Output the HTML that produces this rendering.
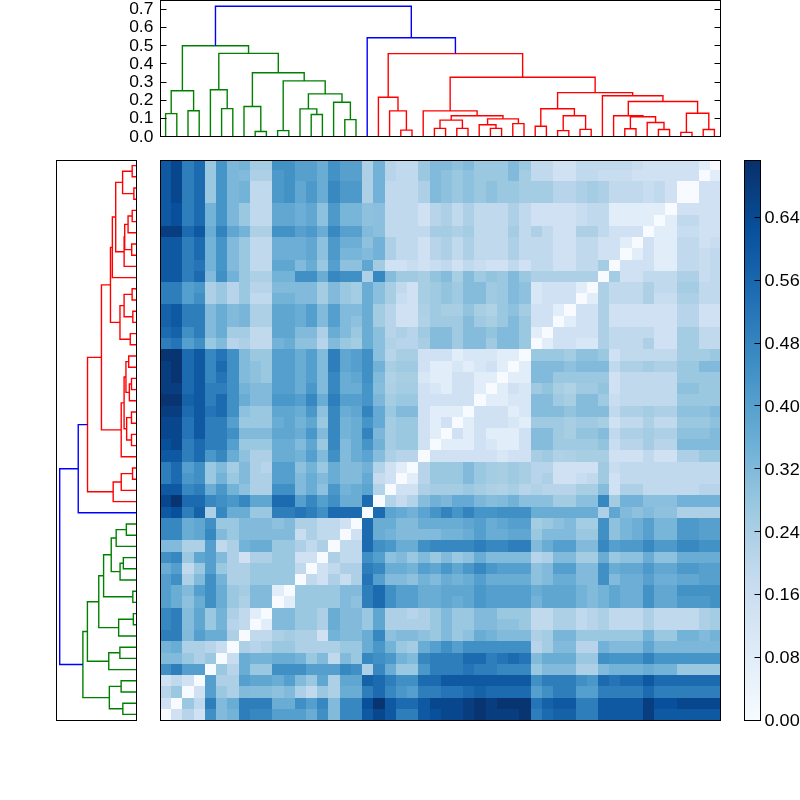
<!DOCTYPE html>
<html><head><meta charset="utf-8"><style>
html,body{margin:0;padding:0;background:#fff;width:800px;height:800px;overflow:hidden}
svg{display:block}
text{font-family:'Liberation Sans',sans-serif;font-size:16.6px; fill:#000}
</style></head><body>
<svg width="800" height="800" viewBox="0 0 800 800">
<rect x="0" y="0" width="800" height="800" fill="#fff"/>
<g shape-rendering="crispEdges"><rect x="160.00" y="160.00" width="11.48" height="9.98" fill="#0e59a2"/><rect x="171.23" y="160.00" width="11.48" height="9.98" fill="#08478d"/><rect x="182.46" y="160.00" width="11.48" height="9.98" fill="#2e7ebc"/><rect x="193.69" y="160.00" width="11.48" height="9.98" fill="#1c6bb0"/><rect x="204.92" y="160.00" width="11.48" height="9.98" fill="#9ac8e0"/><rect x="216.15" y="160.00" width="11.48" height="9.98" fill="#4695c8"/><rect x="227.38" y="160.00" width="11.48" height="9.98" fill="#7cb7da"/><rect x="238.61" y="160.00" width="11.48" height="9.98" fill="#74b3d8"/><rect x="249.84" y="160.00" width="11.48" height="9.98" fill="#a4cce3"/><rect x="261.07" y="160.00" width="11.48" height="9.98" fill="#a4cce3"/><rect x="272.30" y="160.00" width="11.48" height="9.98" fill="#4292c6"/><rect x="283.53" y="160.00" width="11.48" height="9.98" fill="#4292c6"/><rect x="294.76" y="160.00" width="11.48" height="9.98" fill="#57a0ce"/><rect x="305.99" y="160.00" width="11.48" height="9.98" fill="#57a0ce"/><rect x="317.22" y="160.00" width="11.48" height="9.98" fill="#69add5"/><rect x="328.45" y="160.00" width="11.48" height="9.98" fill="#4292c6"/><rect x="339.68" y="160.00" width="11.48" height="9.98" fill="#57a0ce"/><rect x="350.91" y="160.00" width="11.48" height="9.98" fill="#57a0ce"/><rect x="362.14" y="160.00" width="11.48" height="9.98" fill="#add0e6"/><rect x="373.37" y="160.00" width="11.48" height="9.98" fill="#72b2d8"/><rect x="384.60" y="160.00" width="11.48" height="9.98" fill="#b7d4ea"/><rect x="395.83" y="160.00" width="11.48" height="9.98" fill="#c1d9ed"/><rect x="407.06" y="160.00" width="11.48" height="9.98" fill="#c1d9ed"/><rect x="418.29" y="160.00" width="11.48" height="9.98" fill="#9ac8e0"/><rect x="429.52" y="160.00" width="11.48" height="9.98" fill="#81badb"/><rect x="440.75" y="160.00" width="11.48" height="9.98" fill="#81badb"/><rect x="451.98" y="160.00" width="11.48" height="9.98" fill="#8dc1dd"/><rect x="463.21" y="160.00" width="11.48" height="9.98" fill="#81badb"/><rect x="474.44" y="160.00" width="11.48" height="9.98" fill="#9ac8e0"/><rect x="485.67" y="160.00" width="11.48" height="9.98" fill="#9ac8e0"/><rect x="496.90" y="160.00" width="11.48" height="9.98" fill="#9ac8e0"/><rect x="508.13" y="160.00" width="11.48" height="9.98" fill="#81badb"/><rect x="519.36" y="160.00" width="11.48" height="9.98" fill="#9ac8e0"/><rect x="530.59" y="160.00" width="11.48" height="9.98" fill="#c1d9ed"/><rect x="541.82" y="160.00" width="11.48" height="9.98" fill="#c1d9ed"/><rect x="553.05" y="160.00" width="11.48" height="9.98" fill="#cfe1f2"/><rect x="564.28" y="160.00" width="11.48" height="9.98" fill="#cfe1f2"/><rect x="575.51" y="160.00" width="11.48" height="9.98" fill="#c1d9ed"/><rect x="586.74" y="160.00" width="11.48" height="9.98" fill="#c1d9ed"/><rect x="597.97" y="160.00" width="11.48" height="9.98" fill="#c1d9ed"/><rect x="609.20" y="160.00" width="11.48" height="9.98" fill="#c1d9ed"/><rect x="620.43" y="160.00" width="11.48" height="9.98" fill="#c1d9ed"/><rect x="631.66" y="160.00" width="11.48" height="9.98" fill="#c9ddf0"/><rect x="642.89" y="160.00" width="11.48" height="9.98" fill="#cfe1f2"/><rect x="654.12" y="160.00" width="11.48" height="9.98" fill="#cfe1f2"/><rect x="665.35" y="160.00" width="11.48" height="9.98" fill="#cfe1f2"/><rect x="676.58" y="160.00" width="11.48" height="9.98" fill="#cfe1f2"/><rect x="687.81" y="160.00" width="11.48" height="9.98" fill="#cfe1f2"/><rect x="699.04" y="160.00" width="11.48" height="9.98" fill="#e1edf8"/><rect x="710.27" y="160.00" width="9.98" height="9.98" fill="#f7fbff"/><rect x="160.00" y="169.73" width="11.48" height="11.48" fill="#0e59a2"/><rect x="171.23" y="169.73" width="11.48" height="11.48" fill="#08478d"/><rect x="182.46" y="169.73" width="11.48" height="11.48" fill="#2e7ebc"/><rect x="193.69" y="169.73" width="11.48" height="11.48" fill="#1c6bb0"/><rect x="204.92" y="169.73" width="11.48" height="11.48" fill="#9ac8e0"/><rect x="216.15" y="169.73" width="11.48" height="11.48" fill="#4695c8"/><rect x="227.38" y="169.73" width="11.48" height="11.48" fill="#7cb7da"/><rect x="238.61" y="169.73" width="11.48" height="11.48" fill="#81badb"/><rect x="249.84" y="169.73" width="11.48" height="11.48" fill="#add0e6"/><rect x="261.07" y="169.73" width="11.48" height="11.48" fill="#add0e6"/><rect x="272.30" y="169.73" width="11.48" height="11.48" fill="#4d99ca"/><rect x="283.53" y="169.73" width="11.48" height="11.48" fill="#4292c6"/><rect x="294.76" y="169.73" width="11.48" height="11.48" fill="#57a0ce"/><rect x="305.99" y="169.73" width="11.48" height="11.48" fill="#57a0ce"/><rect x="317.22" y="169.73" width="11.48" height="11.48" fill="#69add5"/><rect x="328.45" y="169.73" width="11.48" height="11.48" fill="#4292c6"/><rect x="339.68" y="169.73" width="11.48" height="11.48" fill="#57a0ce"/><rect x="350.91" y="169.73" width="11.48" height="11.48" fill="#57a0ce"/><rect x="362.14" y="169.73" width="11.48" height="11.48" fill="#add0e6"/><rect x="373.37" y="169.73" width="11.48" height="11.48" fill="#72b2d8"/><rect x="384.60" y="169.73" width="11.48" height="11.48" fill="#b7d4ea"/><rect x="395.83" y="169.73" width="11.48" height="11.48" fill="#c1d9ed"/><rect x="407.06" y="169.73" width="11.48" height="11.48" fill="#c1d9ed"/><rect x="418.29" y="169.73" width="11.48" height="11.48" fill="#9ac8e0"/><rect x="429.52" y="169.73" width="11.48" height="11.48" fill="#81badb"/><rect x="440.75" y="169.73" width="11.48" height="11.48" fill="#8dc1dd"/><rect x="451.98" y="169.73" width="11.48" height="11.48" fill="#9ac8e0"/><rect x="463.21" y="169.73" width="11.48" height="11.48" fill="#8dc1dd"/><rect x="474.44" y="169.73" width="11.48" height="11.48" fill="#9ac8e0"/><rect x="485.67" y="169.73" width="11.48" height="11.48" fill="#9ac8e0"/><rect x="496.90" y="169.73" width="11.48" height="11.48" fill="#9ac8e0"/><rect x="508.13" y="169.73" width="11.48" height="11.48" fill="#81badb"/><rect x="519.36" y="169.73" width="11.48" height="11.48" fill="#a4cce3"/><rect x="530.59" y="169.73" width="11.48" height="11.48" fill="#c1d9ed"/><rect x="541.82" y="169.73" width="11.48" height="11.48" fill="#c1d9ed"/><rect x="553.05" y="169.73" width="11.48" height="11.48" fill="#cfe1f2"/><rect x="564.28" y="169.73" width="11.48" height="11.48" fill="#cfe1f2"/><rect x="575.51" y="169.73" width="11.48" height="11.48" fill="#c1d9ed"/><rect x="586.74" y="169.73" width="11.48" height="11.48" fill="#c1d9ed"/><rect x="597.97" y="169.73" width="11.48" height="11.48" fill="#c9ddf0"/><rect x="609.20" y="169.73" width="11.48" height="11.48" fill="#c9ddf0"/><rect x="620.43" y="169.73" width="11.48" height="11.48" fill="#c9ddf0"/><rect x="631.66" y="169.73" width="11.48" height="11.48" fill="#cfe1f2"/><rect x="642.89" y="169.73" width="11.48" height="11.48" fill="#cfe1f2"/><rect x="654.12" y="169.73" width="11.48" height="11.48" fill="#cfe1f2"/><rect x="665.35" y="169.73" width="11.48" height="11.48" fill="#cfe1f2"/><rect x="676.58" y="169.73" width="11.48" height="11.48" fill="#cfe1f2"/><rect x="687.81" y="169.73" width="11.48" height="11.48" fill="#cfe1f2"/><rect x="699.04" y="169.73" width="11.48" height="11.48" fill="#f7fbff"/><rect x="710.27" y="169.73" width="9.98" height="11.48" fill="#e1edf8"/><rect x="160.00" y="180.96" width="11.48" height="11.48" fill="#0e59a2"/><rect x="171.23" y="180.96" width="11.48" height="11.48" fill="#08478d"/><rect x="182.46" y="180.96" width="11.48" height="11.48" fill="#2e7ebc"/><rect x="193.69" y="180.96" width="11.48" height="11.48" fill="#1c6bb0"/><rect x="204.92" y="180.96" width="11.48" height="11.48" fill="#9ac8e0"/><rect x="216.15" y="180.96" width="11.48" height="11.48" fill="#4695c8"/><rect x="227.38" y="180.96" width="11.48" height="11.48" fill="#7cb7da"/><rect x="238.61" y="180.96" width="11.48" height="11.48" fill="#74b3d8"/><rect x="249.84" y="180.96" width="11.48" height="11.48" fill="#c1d9ed"/><rect x="261.07" y="180.96" width="11.48" height="11.48" fill="#c1d9ed"/><rect x="272.30" y="180.96" width="11.48" height="11.48" fill="#4d99ca"/><rect x="283.53" y="180.96" width="11.48" height="11.48" fill="#4292c6"/><rect x="294.76" y="180.96" width="11.48" height="11.48" fill="#61a7d2"/><rect x="305.99" y="180.96" width="11.48" height="11.48" fill="#4d99ca"/><rect x="317.22" y="180.96" width="11.48" height="11.48" fill="#69add5"/><rect x="328.45" y="180.96" width="11.48" height="11.48" fill="#3989c1"/><rect x="339.68" y="180.96" width="11.48" height="11.48" fill="#4d99ca"/><rect x="350.91" y="180.96" width="11.48" height="11.48" fill="#4d99ca"/><rect x="362.14" y="180.96" width="11.48" height="11.48" fill="#add0e6"/><rect x="373.37" y="180.96" width="11.48" height="11.48" fill="#72b2d8"/><rect x="384.60" y="180.96" width="11.48" height="11.48" fill="#c1d9ed"/><rect x="395.83" y="180.96" width="11.48" height="11.48" fill="#c1d9ed"/><rect x="407.06" y="180.96" width="11.48" height="11.48" fill="#c1d9ed"/><rect x="418.29" y="180.96" width="11.48" height="11.48" fill="#add0e6"/><rect x="429.52" y="180.96" width="11.48" height="11.48" fill="#81badb"/><rect x="440.75" y="180.96" width="11.48" height="11.48" fill="#8dc1dd"/><rect x="451.98" y="180.96" width="11.48" height="11.48" fill="#9ac8e0"/><rect x="463.21" y="180.96" width="11.48" height="11.48" fill="#8dc1dd"/><rect x="474.44" y="180.96" width="11.48" height="11.48" fill="#9ac8e0"/><rect x="485.67" y="180.96" width="11.48" height="11.48" fill="#8dc1dd"/><rect x="496.90" y="180.96" width="11.48" height="11.48" fill="#9ac8e0"/><rect x="508.13" y="180.96" width="11.48" height="11.48" fill="#9ac8e0"/><rect x="519.36" y="180.96" width="11.48" height="11.48" fill="#a4cce3"/><rect x="530.59" y="180.96" width="11.48" height="11.48" fill="#a4cce3"/><rect x="541.82" y="180.96" width="11.48" height="11.48" fill="#a4cce3"/><rect x="553.05" y="180.96" width="11.48" height="11.48" fill="#b7d4ea"/><rect x="564.28" y="180.96" width="11.48" height="11.48" fill="#b7d4ea"/><rect x="575.51" y="180.96" width="11.48" height="11.48" fill="#add0e6"/><rect x="586.74" y="180.96" width="11.48" height="11.48" fill="#a4cce3"/><rect x="597.97" y="180.96" width="11.48" height="11.48" fill="#add0e6"/><rect x="609.20" y="180.96" width="11.48" height="11.48" fill="#c1d9ed"/><rect x="620.43" y="180.96" width="11.48" height="11.48" fill="#c1d9ed"/><rect x="631.66" y="180.96" width="11.48" height="11.48" fill="#c1d9ed"/><rect x="642.89" y="180.96" width="11.48" height="11.48" fill="#c9ddf0"/><rect x="654.12" y="180.96" width="11.48" height="11.48" fill="#c1d9ed"/><rect x="665.35" y="180.96" width="11.48" height="11.48" fill="#cfe1f2"/><rect x="676.58" y="180.96" width="11.48" height="11.48" fill="#f7fbff"/><rect x="687.81" y="180.96" width="11.48" height="11.48" fill="#f7fbff"/><rect x="699.04" y="180.96" width="11.48" height="11.48" fill="#cfe1f2"/><rect x="710.27" y="180.96" width="9.98" height="11.48" fill="#cfe1f2"/><rect x="160.00" y="192.19" width="11.48" height="11.48" fill="#0e59a2"/><rect x="171.23" y="192.19" width="11.48" height="11.48" fill="#08478d"/><rect x="182.46" y="192.19" width="11.48" height="11.48" fill="#2e7ebc"/><rect x="193.69" y="192.19" width="11.48" height="11.48" fill="#1c6bb0"/><rect x="204.92" y="192.19" width="11.48" height="11.48" fill="#9ac8e0"/><rect x="216.15" y="192.19" width="11.48" height="11.48" fill="#4695c8"/><rect x="227.38" y="192.19" width="11.48" height="11.48" fill="#7cb7da"/><rect x="238.61" y="192.19" width="11.48" height="11.48" fill="#74b3d8"/><rect x="249.84" y="192.19" width="11.48" height="11.48" fill="#c1d9ed"/><rect x="261.07" y="192.19" width="11.48" height="11.48" fill="#c1d9ed"/><rect x="272.30" y="192.19" width="11.48" height="11.48" fill="#4d99ca"/><rect x="283.53" y="192.19" width="11.48" height="11.48" fill="#4292c6"/><rect x="294.76" y="192.19" width="11.48" height="11.48" fill="#61a7d2"/><rect x="305.99" y="192.19" width="11.48" height="11.48" fill="#4d99ca"/><rect x="317.22" y="192.19" width="11.48" height="11.48" fill="#69add5"/><rect x="328.45" y="192.19" width="11.48" height="11.48" fill="#3989c1"/><rect x="339.68" y="192.19" width="11.48" height="11.48" fill="#4d99ca"/><rect x="350.91" y="192.19" width="11.48" height="11.48" fill="#4d99ca"/><rect x="362.14" y="192.19" width="11.48" height="11.48" fill="#add0e6"/><rect x="373.37" y="192.19" width="11.48" height="11.48" fill="#72b2d8"/><rect x="384.60" y="192.19" width="11.48" height="11.48" fill="#c1d9ed"/><rect x="395.83" y="192.19" width="11.48" height="11.48" fill="#c1d9ed"/><rect x="407.06" y="192.19" width="11.48" height="11.48" fill="#c1d9ed"/><rect x="418.29" y="192.19" width="11.48" height="11.48" fill="#add0e6"/><rect x="429.52" y="192.19" width="11.48" height="11.48" fill="#81badb"/><rect x="440.75" y="192.19" width="11.48" height="11.48" fill="#8dc1dd"/><rect x="451.98" y="192.19" width="11.48" height="11.48" fill="#9ac8e0"/><rect x="463.21" y="192.19" width="11.48" height="11.48" fill="#8dc1dd"/><rect x="474.44" y="192.19" width="11.48" height="11.48" fill="#9ac8e0"/><rect x="485.67" y="192.19" width="11.48" height="11.48" fill="#8dc1dd"/><rect x="496.90" y="192.19" width="11.48" height="11.48" fill="#9ac8e0"/><rect x="508.13" y="192.19" width="11.48" height="11.48" fill="#9ac8e0"/><rect x="519.36" y="192.19" width="11.48" height="11.48" fill="#a4cce3"/><rect x="530.59" y="192.19" width="11.48" height="11.48" fill="#a4cce3"/><rect x="541.82" y="192.19" width="11.48" height="11.48" fill="#a4cce3"/><rect x="553.05" y="192.19" width="11.48" height="11.48" fill="#b7d4ea"/><rect x="564.28" y="192.19" width="11.48" height="11.48" fill="#b7d4ea"/><rect x="575.51" y="192.19" width="11.48" height="11.48" fill="#add0e6"/><rect x="586.74" y="192.19" width="11.48" height="11.48" fill="#a4cce3"/><rect x="597.97" y="192.19" width="11.48" height="11.48" fill="#add0e6"/><rect x="609.20" y="192.19" width="11.48" height="11.48" fill="#c1d9ed"/><rect x="620.43" y="192.19" width="11.48" height="11.48" fill="#c1d9ed"/><rect x="631.66" y="192.19" width="11.48" height="11.48" fill="#c1d9ed"/><rect x="642.89" y="192.19" width="11.48" height="11.48" fill="#c9ddf0"/><rect x="654.12" y="192.19" width="11.48" height="11.48" fill="#c1d9ed"/><rect x="665.35" y="192.19" width="11.48" height="11.48" fill="#cfe1f2"/><rect x="676.58" y="192.19" width="11.48" height="11.48" fill="#f7fbff"/><rect x="687.81" y="192.19" width="11.48" height="11.48" fill="#f7fbff"/><rect x="699.04" y="192.19" width="11.48" height="11.48" fill="#cfe1f2"/><rect x="710.27" y="192.19" width="9.98" height="11.48" fill="#cfe1f2"/><rect x="160.00" y="203.42" width="11.48" height="11.48" fill="#0e59a2"/><rect x="171.23" y="203.42" width="11.48" height="11.48" fill="#08509b"/><rect x="182.46" y="203.42" width="11.48" height="11.48" fill="#2e7ebc"/><rect x="193.69" y="203.42" width="11.48" height="11.48" fill="#1c6bb0"/><rect x="204.92" y="203.42" width="11.48" height="11.48" fill="#74b3d8"/><rect x="216.15" y="203.42" width="11.48" height="11.48" fill="#4695c8"/><rect x="227.38" y="203.42" width="11.48" height="11.48" fill="#7cb7da"/><rect x="238.61" y="203.42" width="11.48" height="11.48" fill="#9ac8e0"/><rect x="249.84" y="203.42" width="11.48" height="11.48" fill="#c1d9ed"/><rect x="261.07" y="203.42" width="11.48" height="11.48" fill="#c1d9ed"/><rect x="272.30" y="203.42" width="11.48" height="11.48" fill="#61a7d2"/><rect x="283.53" y="203.42" width="11.48" height="11.48" fill="#61a7d2"/><rect x="294.76" y="203.42" width="11.48" height="11.48" fill="#6caed6"/><rect x="305.99" y="203.42" width="11.48" height="11.48" fill="#61a7d2"/><rect x="317.22" y="203.42" width="11.48" height="11.48" fill="#8dc1dd"/><rect x="328.45" y="203.42" width="11.48" height="11.48" fill="#4d99ca"/><rect x="339.68" y="203.42" width="11.48" height="11.48" fill="#77b5d9"/><rect x="350.91" y="203.42" width="11.48" height="11.48" fill="#77b5d9"/><rect x="362.14" y="203.42" width="11.48" height="11.48" fill="#8dc1dd"/><rect x="373.37" y="203.42" width="11.48" height="11.48" fill="#8abfdd"/><rect x="384.60" y="203.42" width="11.48" height="11.48" fill="#c1d9ed"/><rect x="395.83" y="203.42" width="11.48" height="11.48" fill="#c1d9ed"/><rect x="407.06" y="203.42" width="11.48" height="11.48" fill="#c1d9ed"/><rect x="418.29" y="203.42" width="11.48" height="11.48" fill="#cfe1f2"/><rect x="429.52" y="203.42" width="11.48" height="11.48" fill="#b7d4ea"/><rect x="440.75" y="203.42" width="11.48" height="11.48" fill="#add0e6"/><rect x="451.98" y="203.42" width="11.48" height="11.48" fill="#c1d9ed"/><rect x="463.21" y="203.42" width="11.48" height="11.48" fill="#add0e6"/><rect x="474.44" y="203.42" width="11.48" height="11.48" fill="#c1d9ed"/><rect x="485.67" y="203.42" width="11.48" height="11.48" fill="#c1d9ed"/><rect x="496.90" y="203.42" width="11.48" height="11.48" fill="#c1d9ed"/><rect x="508.13" y="203.42" width="11.48" height="11.48" fill="#add0e6"/><rect x="519.36" y="203.42" width="11.48" height="11.48" fill="#c1d9ed"/><rect x="530.59" y="203.42" width="11.48" height="11.48" fill="#cfe1f2"/><rect x="541.82" y="203.42" width="11.48" height="11.48" fill="#cfe1f2"/><rect x="553.05" y="203.42" width="11.48" height="11.48" fill="#cfe1f2"/><rect x="564.28" y="203.42" width="11.48" height="11.48" fill="#cfe1f2"/><rect x="575.51" y="203.42" width="11.48" height="11.48" fill="#c9ddf0"/><rect x="586.74" y="203.42" width="11.48" height="11.48" fill="#c1d9ed"/><rect x="597.97" y="203.42" width="11.48" height="11.48" fill="#c1d9ed"/><rect x="609.20" y="203.42" width="11.48" height="11.48" fill="#e1edf8"/><rect x="620.43" y="203.42" width="11.48" height="11.48" fill="#e1edf8"/><rect x="631.66" y="203.42" width="11.48" height="11.48" fill="#e1edf8"/><rect x="642.89" y="203.42" width="11.48" height="11.48" fill="#e1edf8"/><rect x="654.12" y="203.42" width="11.48" height="11.48" fill="#e1edf8"/><rect x="665.35" y="203.42" width="11.48" height="11.48" fill="#f7fbff"/><rect x="676.58" y="203.42" width="11.48" height="11.48" fill="#cfe1f2"/><rect x="687.81" y="203.42" width="11.48" height="11.48" fill="#cfe1f2"/><rect x="699.04" y="203.42" width="11.48" height="11.48" fill="#cfe1f2"/><rect x="710.27" y="203.42" width="9.98" height="11.48" fill="#cfe1f2"/><rect x="160.00" y="214.65" width="11.48" height="11.48" fill="#0e59a2"/><rect x="171.23" y="214.65" width="11.48" height="11.48" fill="#08509b"/><rect x="182.46" y="214.65" width="11.48" height="11.48" fill="#2e7ebc"/><rect x="193.69" y="214.65" width="11.48" height="11.48" fill="#1c6bb0"/><rect x="204.92" y="214.65" width="11.48" height="11.48" fill="#74b3d8"/><rect x="216.15" y="214.65" width="11.48" height="11.48" fill="#4695c8"/><rect x="227.38" y="214.65" width="11.48" height="11.48" fill="#7cb7da"/><rect x="238.61" y="214.65" width="11.48" height="11.48" fill="#9ac8e0"/><rect x="249.84" y="214.65" width="11.48" height="11.48" fill="#c1d9ed"/><rect x="261.07" y="214.65" width="11.48" height="11.48" fill="#c1d9ed"/><rect x="272.30" y="214.65" width="11.48" height="11.48" fill="#61a7d2"/><rect x="283.53" y="214.65" width="11.48" height="11.48" fill="#61a7d2"/><rect x="294.76" y="214.65" width="11.48" height="11.48" fill="#6caed6"/><rect x="305.99" y="214.65" width="11.48" height="11.48" fill="#61a7d2"/><rect x="317.22" y="214.65" width="11.48" height="11.48" fill="#8dc1dd"/><rect x="328.45" y="214.65" width="11.48" height="11.48" fill="#4d99ca"/><rect x="339.68" y="214.65" width="11.48" height="11.48" fill="#77b5d9"/><rect x="350.91" y="214.65" width="11.48" height="11.48" fill="#77b5d9"/><rect x="362.14" y="214.65" width="11.48" height="11.48" fill="#8dc1dd"/><rect x="373.37" y="214.65" width="11.48" height="11.48" fill="#8abfdd"/><rect x="384.60" y="214.65" width="11.48" height="11.48" fill="#c1d9ed"/><rect x="395.83" y="214.65" width="11.48" height="11.48" fill="#c1d9ed"/><rect x="407.06" y="214.65" width="11.48" height="11.48" fill="#c1d9ed"/><rect x="418.29" y="214.65" width="11.48" height="11.48" fill="#cfe1f2"/><rect x="429.52" y="214.65" width="11.48" height="11.48" fill="#b7d4ea"/><rect x="440.75" y="214.65" width="11.48" height="11.48" fill="#add0e6"/><rect x="451.98" y="214.65" width="11.48" height="11.48" fill="#c1d9ed"/><rect x="463.21" y="214.65" width="11.48" height="11.48" fill="#add0e6"/><rect x="474.44" y="214.65" width="11.48" height="11.48" fill="#c1d9ed"/><rect x="485.67" y="214.65" width="11.48" height="11.48" fill="#c1d9ed"/><rect x="496.90" y="214.65" width="11.48" height="11.48" fill="#c1d9ed"/><rect x="508.13" y="214.65" width="11.48" height="11.48" fill="#add0e6"/><rect x="519.36" y="214.65" width="11.48" height="11.48" fill="#c1d9ed"/><rect x="530.59" y="214.65" width="11.48" height="11.48" fill="#cfe1f2"/><rect x="541.82" y="214.65" width="11.48" height="11.48" fill="#cfe1f2"/><rect x="553.05" y="214.65" width="11.48" height="11.48" fill="#cfe1f2"/><rect x="564.28" y="214.65" width="11.48" height="11.48" fill="#cfe1f2"/><rect x="575.51" y="214.65" width="11.48" height="11.48" fill="#c9ddf0"/><rect x="586.74" y="214.65" width="11.48" height="11.48" fill="#c1d9ed"/><rect x="597.97" y="214.65" width="11.48" height="11.48" fill="#c1d9ed"/><rect x="609.20" y="214.65" width="11.48" height="11.48" fill="#e1edf8"/><rect x="620.43" y="214.65" width="11.48" height="11.48" fill="#e1edf8"/><rect x="631.66" y="214.65" width="11.48" height="11.48" fill="#e1edf8"/><rect x="642.89" y="214.65" width="11.48" height="11.48" fill="#e1edf8"/><rect x="654.12" y="214.65" width="11.48" height="11.48" fill="#f7fbff"/><rect x="665.35" y="214.65" width="11.48" height="11.48" fill="#e1edf8"/><rect x="676.58" y="214.65" width="11.48" height="11.48" fill="#c1d9ed"/><rect x="687.81" y="214.65" width="11.48" height="11.48" fill="#c1d9ed"/><rect x="699.04" y="214.65" width="11.48" height="11.48" fill="#cfe1f2"/><rect x="710.27" y="214.65" width="9.98" height="11.48" fill="#cfe1f2"/><rect x="160.00" y="225.88" width="11.48" height="11.48" fill="#083d7f"/><rect x="171.23" y="225.88" width="11.48" height="11.48" fill="#083d7f"/><rect x="182.46" y="225.88" width="11.48" height="11.48" fill="#1c6bb0"/><rect x="193.69" y="225.88" width="11.48" height="11.48" fill="#0e59a2"/><rect x="204.92" y="225.88" width="11.48" height="11.48" fill="#69add5"/><rect x="216.15" y="225.88" width="11.48" height="11.48" fill="#3383be"/><rect x="227.38" y="225.88" width="11.48" height="11.48" fill="#5fa6d1"/><rect x="238.61" y="225.88" width="11.48" height="11.48" fill="#74b3d8"/><rect x="249.84" y="225.88" width="11.48" height="11.48" fill="#add0e6"/><rect x="261.07" y="225.88" width="11.48" height="11.48" fill="#add0e6"/><rect x="272.30" y="225.88" width="11.48" height="11.48" fill="#4292c6"/><rect x="283.53" y="225.88" width="11.48" height="11.48" fill="#4292c6"/><rect x="294.76" y="225.88" width="11.48" height="11.48" fill="#57a0ce"/><rect x="305.99" y="225.88" width="11.48" height="11.48" fill="#4d99ca"/><rect x="317.22" y="225.88" width="11.48" height="11.48" fill="#69add5"/><rect x="328.45" y="225.88" width="11.48" height="11.48" fill="#3989c1"/><rect x="339.68" y="225.88" width="11.48" height="11.48" fill="#57a0ce"/><rect x="350.91" y="225.88" width="11.48" height="11.48" fill="#57a0ce"/><rect x="362.14" y="225.88" width="11.48" height="11.48" fill="#81badb"/><rect x="373.37" y="225.88" width="11.48" height="11.48" fill="#8abfdd"/><rect x="384.60" y="225.88" width="11.48" height="11.48" fill="#c1d9ed"/><rect x="395.83" y="225.88" width="11.48" height="11.48" fill="#c1d9ed"/><rect x="407.06" y="225.88" width="11.48" height="11.48" fill="#c1d9ed"/><rect x="418.29" y="225.88" width="11.48" height="11.48" fill="#c1d9ed"/><rect x="429.52" y="225.88" width="11.48" height="11.48" fill="#a4cce3"/><rect x="440.75" y="225.88" width="11.48" height="11.48" fill="#a4cce3"/><rect x="451.98" y="225.88" width="11.48" height="11.48" fill="#add0e6"/><rect x="463.21" y="225.88" width="11.48" height="11.48" fill="#a4cce3"/><rect x="474.44" y="225.88" width="11.48" height="11.48" fill="#c1d9ed"/><rect x="485.67" y="225.88" width="11.48" height="11.48" fill="#c1d9ed"/><rect x="496.90" y="225.88" width="11.48" height="11.48" fill="#c1d9ed"/><rect x="508.13" y="225.88" width="11.48" height="11.48" fill="#a4cce3"/><rect x="519.36" y="225.88" width="11.48" height="11.48" fill="#c1d9ed"/><rect x="530.59" y="225.88" width="11.48" height="11.48" fill="#add0e6"/><rect x="541.82" y="225.88" width="11.48" height="11.48" fill="#c1d9ed"/><rect x="553.05" y="225.88" width="11.48" height="11.48" fill="#cfe1f2"/><rect x="564.28" y="225.88" width="11.48" height="11.48" fill="#cfe1f2"/><rect x="575.51" y="225.88" width="11.48" height="11.48" fill="#add0e6"/><rect x="586.74" y="225.88" width="11.48" height="11.48" fill="#add0e6"/><rect x="597.97" y="225.88" width="11.48" height="11.48" fill="#c1d9ed"/><rect x="609.20" y="225.88" width="11.48" height="11.48" fill="#cfe1f2"/><rect x="620.43" y="225.88" width="11.48" height="11.48" fill="#cfe1f2"/><rect x="631.66" y="225.88" width="11.48" height="11.48" fill="#cfe1f2"/><rect x="642.89" y="225.88" width="11.48" height="11.48" fill="#f7fbff"/><rect x="654.12" y="225.88" width="11.48" height="11.48" fill="#e1edf8"/><rect x="665.35" y="225.88" width="11.48" height="11.48" fill="#e1edf8"/><rect x="676.58" y="225.88" width="11.48" height="11.48" fill="#c9ddf0"/><rect x="687.81" y="225.88" width="11.48" height="11.48" fill="#c9ddf0"/><rect x="699.04" y="225.88" width="11.48" height="11.48" fill="#cfe1f2"/><rect x="710.27" y="225.88" width="9.98" height="11.48" fill="#cfe1f2"/><rect x="160.00" y="237.11" width="11.48" height="11.48" fill="#0e59a2"/><rect x="171.23" y="237.11" width="11.48" height="11.48" fill="#0e59a2"/><rect x="182.46" y="237.11" width="11.48" height="11.48" fill="#2e7ebc"/><rect x="193.69" y="237.11" width="11.48" height="11.48" fill="#1c6bb0"/><rect x="204.92" y="237.11" width="11.48" height="11.48" fill="#74b3d8"/><rect x="216.15" y="237.11" width="11.48" height="11.48" fill="#4695c8"/><rect x="227.38" y="237.11" width="11.48" height="11.48" fill="#81badb"/><rect x="238.61" y="237.11" width="11.48" height="11.48" fill="#9ac8e0"/><rect x="249.84" y="237.11" width="11.48" height="11.48" fill="#c1d9ed"/><rect x="261.07" y="237.11" width="11.48" height="11.48" fill="#c1d9ed"/><rect x="272.30" y="237.11" width="11.48" height="11.48" fill="#6caed6"/><rect x="283.53" y="237.11" width="11.48" height="11.48" fill="#6caed6"/><rect x="294.76" y="237.11" width="11.48" height="11.48" fill="#6caed6"/><rect x="305.99" y="237.11" width="11.48" height="11.48" fill="#61a7d2"/><rect x="317.22" y="237.11" width="11.48" height="11.48" fill="#8dc1dd"/><rect x="328.45" y="237.11" width="11.48" height="11.48" fill="#4d99ca"/><rect x="339.68" y="237.11" width="11.48" height="11.48" fill="#6caed6"/><rect x="350.91" y="237.11" width="11.48" height="11.48" fill="#6caed6"/><rect x="362.14" y="237.11" width="11.48" height="11.48" fill="#8dc1dd"/><rect x="373.37" y="237.11" width="11.48" height="11.48" fill="#72b2d8"/><rect x="384.60" y="237.11" width="11.48" height="11.48" fill="#add0e6"/><rect x="395.83" y="237.11" width="11.48" height="11.48" fill="#c1d9ed"/><rect x="407.06" y="237.11" width="11.48" height="11.48" fill="#c1d9ed"/><rect x="418.29" y="237.11" width="11.48" height="11.48" fill="#cfe1f2"/><rect x="429.52" y="237.11" width="11.48" height="11.48" fill="#b7d4ea"/><rect x="440.75" y="237.11" width="11.48" height="11.48" fill="#add0e6"/><rect x="451.98" y="237.11" width="11.48" height="11.48" fill="#c1d9ed"/><rect x="463.21" y="237.11" width="11.48" height="11.48" fill="#add0e6"/><rect x="474.44" y="237.11" width="11.48" height="11.48" fill="#c1d9ed"/><rect x="485.67" y="237.11" width="11.48" height="11.48" fill="#c1d9ed"/><rect x="496.90" y="237.11" width="11.48" height="11.48" fill="#c1d9ed"/><rect x="508.13" y="237.11" width="11.48" height="11.48" fill="#add0e6"/><rect x="519.36" y="237.11" width="11.48" height="11.48" fill="#c1d9ed"/><rect x="530.59" y="237.11" width="11.48" height="11.48" fill="#c1d9ed"/><rect x="541.82" y="237.11" width="11.48" height="11.48" fill="#c1d9ed"/><rect x="553.05" y="237.11" width="11.48" height="11.48" fill="#cfe1f2"/><rect x="564.28" y="237.11" width="11.48" height="11.48" fill="#cfe1f2"/><rect x="575.51" y="237.11" width="11.48" height="11.48" fill="#c1d9ed"/><rect x="586.74" y="237.11" width="11.48" height="11.48" fill="#c1d9ed"/><rect x="597.97" y="237.11" width="11.48" height="11.48" fill="#cfe1f2"/><rect x="609.20" y="237.11" width="11.48" height="11.48" fill="#cfe1f2"/><rect x="620.43" y="237.11" width="11.48" height="11.48" fill="#e1edf8"/><rect x="631.66" y="237.11" width="11.48" height="11.48" fill="#f7fbff"/><rect x="642.89" y="237.11" width="11.48" height="11.48" fill="#cfe1f2"/><rect x="654.12" y="237.11" width="11.48" height="11.48" fill="#e1edf8"/><rect x="665.35" y="237.11" width="11.48" height="11.48" fill="#e1edf8"/><rect x="676.58" y="237.11" width="11.48" height="11.48" fill="#c1d9ed"/><rect x="687.81" y="237.11" width="11.48" height="11.48" fill="#c1d9ed"/><rect x="699.04" y="237.11" width="11.48" height="11.48" fill="#cfe1f2"/><rect x="710.27" y="237.11" width="9.98" height="11.48" fill="#c9ddf0"/><rect x="160.00" y="248.34" width="11.48" height="11.48" fill="#0e59a2"/><rect x="171.23" y="248.34" width="11.48" height="11.48" fill="#0e59a2"/><rect x="182.46" y="248.34" width="11.48" height="11.48" fill="#2e7ebc"/><rect x="193.69" y="248.34" width="11.48" height="11.48" fill="#1c6bb0"/><rect x="204.92" y="248.34" width="11.48" height="11.48" fill="#74b3d8"/><rect x="216.15" y="248.34" width="11.48" height="11.48" fill="#4695c8"/><rect x="227.38" y="248.34" width="11.48" height="11.48" fill="#81badb"/><rect x="238.61" y="248.34" width="11.48" height="11.48" fill="#9ac8e0"/><rect x="249.84" y="248.34" width="11.48" height="11.48" fill="#c1d9ed"/><rect x="261.07" y="248.34" width="11.48" height="11.48" fill="#c1d9ed"/><rect x="272.30" y="248.34" width="11.48" height="11.48" fill="#6caed6"/><rect x="283.53" y="248.34" width="11.48" height="11.48" fill="#6caed6"/><rect x="294.76" y="248.34" width="11.48" height="11.48" fill="#6caed6"/><rect x="305.99" y="248.34" width="11.48" height="11.48" fill="#61a7d2"/><rect x="317.22" y="248.34" width="11.48" height="11.48" fill="#8dc1dd"/><rect x="328.45" y="248.34" width="11.48" height="11.48" fill="#4d99ca"/><rect x="339.68" y="248.34" width="11.48" height="11.48" fill="#77b5d9"/><rect x="350.91" y="248.34" width="11.48" height="11.48" fill="#77b5d9"/><rect x="362.14" y="248.34" width="11.48" height="11.48" fill="#81badb"/><rect x="373.37" y="248.34" width="11.48" height="11.48" fill="#72b2d8"/><rect x="384.60" y="248.34" width="11.48" height="11.48" fill="#add0e6"/><rect x="395.83" y="248.34" width="11.48" height="11.48" fill="#c1d9ed"/><rect x="407.06" y="248.34" width="11.48" height="11.48" fill="#c1d9ed"/><rect x="418.29" y="248.34" width="11.48" height="11.48" fill="#cfe1f2"/><rect x="429.52" y="248.34" width="11.48" height="11.48" fill="#b7d4ea"/><rect x="440.75" y="248.34" width="11.48" height="11.48" fill="#add0e6"/><rect x="451.98" y="248.34" width="11.48" height="11.48" fill="#c1d9ed"/><rect x="463.21" y="248.34" width="11.48" height="11.48" fill="#add0e6"/><rect x="474.44" y="248.34" width="11.48" height="11.48" fill="#c1d9ed"/><rect x="485.67" y="248.34" width="11.48" height="11.48" fill="#c1d9ed"/><rect x="496.90" y="248.34" width="11.48" height="11.48" fill="#c1d9ed"/><rect x="508.13" y="248.34" width="11.48" height="11.48" fill="#add0e6"/><rect x="519.36" y="248.34" width="11.48" height="11.48" fill="#c1d9ed"/><rect x="530.59" y="248.34" width="11.48" height="11.48" fill="#c1d9ed"/><rect x="541.82" y="248.34" width="11.48" height="11.48" fill="#c1d9ed"/><rect x="553.05" y="248.34" width="11.48" height="11.48" fill="#cfe1f2"/><rect x="564.28" y="248.34" width="11.48" height="11.48" fill="#cfe1f2"/><rect x="575.51" y="248.34" width="11.48" height="11.48" fill="#c1d9ed"/><rect x="586.74" y="248.34" width="11.48" height="11.48" fill="#c1d9ed"/><rect x="597.97" y="248.34" width="11.48" height="11.48" fill="#cfe1f2"/><rect x="609.20" y="248.34" width="11.48" height="11.48" fill="#cfe1f2"/><rect x="620.43" y="248.34" width="11.48" height="11.48" fill="#f7fbff"/><rect x="631.66" y="248.34" width="11.48" height="11.48" fill="#e1edf8"/><rect x="642.89" y="248.34" width="11.48" height="11.48" fill="#cfe1f2"/><rect x="654.12" y="248.34" width="11.48" height="11.48" fill="#e1edf8"/><rect x="665.35" y="248.34" width="11.48" height="11.48" fill="#e1edf8"/><rect x="676.58" y="248.34" width="11.48" height="11.48" fill="#c1d9ed"/><rect x="687.81" y="248.34" width="11.48" height="11.48" fill="#c1d9ed"/><rect x="699.04" y="248.34" width="11.48" height="11.48" fill="#c9ddf0"/><rect x="710.27" y="248.34" width="9.98" height="11.48" fill="#c1d9ed"/><rect x="160.00" y="259.57" width="11.48" height="11.48" fill="#0e59a2"/><rect x="171.23" y="259.57" width="11.48" height="11.48" fill="#0e59a2"/><rect x="182.46" y="259.57" width="11.48" height="11.48" fill="#2e7ebc"/><rect x="193.69" y="259.57" width="11.48" height="11.48" fill="#2474b7"/><rect x="204.92" y="259.57" width="11.48" height="11.48" fill="#74b3d8"/><rect x="216.15" y="259.57" width="11.48" height="11.48" fill="#4695c8"/><rect x="227.38" y="259.57" width="11.48" height="11.48" fill="#81badb"/><rect x="238.61" y="259.57" width="11.48" height="11.48" fill="#9ac8e0"/><rect x="249.84" y="259.57" width="11.48" height="11.48" fill="#c1d9ed"/><rect x="261.07" y="259.57" width="11.48" height="11.48" fill="#c1d9ed"/><rect x="272.30" y="259.57" width="11.48" height="11.48" fill="#5fa6d1"/><rect x="283.53" y="259.57" width="11.48" height="11.48" fill="#5fa6d1"/><rect x="294.76" y="259.57" width="11.48" height="11.48" fill="#81badb"/><rect x="305.99" y="259.57" width="11.48" height="11.48" fill="#69add5"/><rect x="317.22" y="259.57" width="11.48" height="11.48" fill="#9ac8e0"/><rect x="328.45" y="259.57" width="11.48" height="11.48" fill="#549fcd"/><rect x="339.68" y="259.57" width="11.48" height="11.48" fill="#8dc1dd"/><rect x="350.91" y="259.57" width="11.48" height="11.48" fill="#8dc1dd"/><rect x="362.14" y="259.57" width="11.48" height="11.48" fill="#5fa6d1"/><rect x="373.37" y="259.57" width="11.48" height="11.48" fill="#a3cce3"/><rect x="384.60" y="259.57" width="11.48" height="11.48" fill="#cfe1f2"/><rect x="395.83" y="259.57" width="11.48" height="11.48" fill="#cfe1f2"/><rect x="407.06" y="259.57" width="11.48" height="11.48" fill="#c9ddf0"/><rect x="418.29" y="259.57" width="11.48" height="11.48" fill="#cfe1f2"/><rect x="429.52" y="259.57" width="11.48" height="11.48" fill="#c9ddf0"/><rect x="440.75" y="259.57" width="11.48" height="11.48" fill="#c1d9ed"/><rect x="451.98" y="259.57" width="11.48" height="11.48" fill="#cfe1f2"/><rect x="463.21" y="259.57" width="11.48" height="11.48" fill="#c1d9ed"/><rect x="474.44" y="259.57" width="11.48" height="11.48" fill="#c9ddf0"/><rect x="485.67" y="259.57" width="11.48" height="11.48" fill="#cfe1f2"/><rect x="496.90" y="259.57" width="11.48" height="11.48" fill="#cfe1f2"/><rect x="508.13" y="259.57" width="11.48" height="11.48" fill="#c1d9ed"/><rect x="519.36" y="259.57" width="11.48" height="11.48" fill="#cfe1f2"/><rect x="530.59" y="259.57" width="11.48" height="11.48" fill="#c1d9ed"/><rect x="541.82" y="259.57" width="11.48" height="11.48" fill="#c1d9ed"/><rect x="553.05" y="259.57" width="11.48" height="11.48" fill="#cfe1f2"/><rect x="564.28" y="259.57" width="11.48" height="11.48" fill="#cfe1f2"/><rect x="575.51" y="259.57" width="11.48" height="11.48" fill="#c1d9ed"/><rect x="586.74" y="259.57" width="11.48" height="11.48" fill="#c1d9ed"/><rect x="597.97" y="259.57" width="11.48" height="11.48" fill="#a4cce3"/><rect x="609.20" y="259.57" width="11.48" height="11.48" fill="#f7fbff"/><rect x="620.43" y="259.57" width="11.48" height="11.48" fill="#cfe1f2"/><rect x="631.66" y="259.57" width="11.48" height="11.48" fill="#cfe1f2"/><rect x="642.89" y="259.57" width="11.48" height="11.48" fill="#cfe1f2"/><rect x="654.12" y="259.57" width="11.48" height="11.48" fill="#e1edf8"/><rect x="665.35" y="259.57" width="11.48" height="11.48" fill="#e1edf8"/><rect x="676.58" y="259.57" width="11.48" height="11.48" fill="#c1d9ed"/><rect x="687.81" y="259.57" width="11.48" height="11.48" fill="#c1d9ed"/><rect x="699.04" y="259.57" width="11.48" height="11.48" fill="#c9ddf0"/><rect x="710.27" y="259.57" width="9.98" height="11.48" fill="#c1d9ed"/><rect x="160.00" y="270.80" width="11.48" height="11.48" fill="#0e59a2"/><rect x="171.23" y="270.80" width="11.48" height="11.48" fill="#0e59a2"/><rect x="182.46" y="270.80" width="11.48" height="11.48" fill="#2e7ebc"/><rect x="193.69" y="270.80" width="11.48" height="11.48" fill="#1c6bb0"/><rect x="204.92" y="270.80" width="11.48" height="11.48" fill="#81badb"/><rect x="216.15" y="270.80" width="11.48" height="11.48" fill="#4090c5"/><rect x="227.38" y="270.80" width="11.48" height="11.48" fill="#72b2d8"/><rect x="238.61" y="270.80" width="11.48" height="11.48" fill="#9ac8e0"/><rect x="249.84" y="270.80" width="11.48" height="11.48" fill="#add0e6"/><rect x="261.07" y="270.80" width="11.48" height="11.48" fill="#add0e6"/><rect x="272.30" y="270.80" width="11.48" height="11.48" fill="#74b3d8"/><rect x="283.53" y="270.80" width="11.48" height="11.48" fill="#74b3d8"/><rect x="294.76" y="270.80" width="11.48" height="11.48" fill="#4090c5"/><rect x="305.99" y="270.80" width="11.48" height="11.48" fill="#4090c5"/><rect x="317.22" y="270.80" width="11.48" height="11.48" fill="#69add5"/><rect x="328.45" y="270.80" width="11.48" height="11.48" fill="#3787c0"/><rect x="339.68" y="270.80" width="11.48" height="11.48" fill="#4090c5"/><rect x="350.91" y="270.80" width="11.48" height="11.48" fill="#4090c5"/><rect x="362.14" y="270.80" width="11.48" height="11.48" fill="#add0e6"/><rect x="373.37" y="270.80" width="11.48" height="11.48" fill="#3787c0"/><rect x="384.60" y="270.80" width="11.48" height="11.48" fill="#85bcdc"/><rect x="395.83" y="270.80" width="11.48" height="11.48" fill="#9fcae1"/><rect x="407.06" y="270.80" width="11.48" height="11.48" fill="#9fcae1"/><rect x="418.29" y="270.80" width="11.48" height="11.48" fill="#a8cee4"/><rect x="429.52" y="270.80" width="11.48" height="11.48" fill="#92c4de"/><rect x="440.75" y="270.80" width="11.48" height="11.48" fill="#85bcdc"/><rect x="451.98" y="270.80" width="11.48" height="11.48" fill="#a8cee4"/><rect x="463.21" y="270.80" width="11.48" height="11.48" fill="#85bcdc"/><rect x="474.44" y="270.80" width="11.48" height="11.48" fill="#9fcae1"/><rect x="485.67" y="270.80" width="11.48" height="11.48" fill="#92c4de"/><rect x="496.90" y="270.80" width="11.48" height="11.48" fill="#9ac8e0"/><rect x="508.13" y="270.80" width="11.48" height="11.48" fill="#81badb"/><rect x="519.36" y="270.80" width="11.48" height="11.48" fill="#9ac8e0"/><rect x="530.59" y="270.80" width="11.48" height="11.48" fill="#add0e6"/><rect x="541.82" y="270.80" width="11.48" height="11.48" fill="#add0e6"/><rect x="553.05" y="270.80" width="11.48" height="11.48" fill="#add0e6"/><rect x="564.28" y="270.80" width="11.48" height="11.48" fill="#add0e6"/><rect x="575.51" y="270.80" width="11.48" height="11.48" fill="#add0e6"/><rect x="586.74" y="270.80" width="11.48" height="11.48" fill="#add0e6"/><rect x="597.97" y="270.80" width="11.48" height="11.48" fill="#f7fbff"/><rect x="609.20" y="270.80" width="11.48" height="11.48" fill="#a4cce3"/><rect x="620.43" y="270.80" width="11.48" height="11.48" fill="#cfe1f2"/><rect x="631.66" y="270.80" width="11.48" height="11.48" fill="#cfe1f2"/><rect x="642.89" y="270.80" width="11.48" height="11.48" fill="#c1d9ed"/><rect x="654.12" y="270.80" width="11.48" height="11.48" fill="#c1d9ed"/><rect x="665.35" y="270.80" width="11.48" height="11.48" fill="#c1d9ed"/><rect x="676.58" y="270.80" width="11.48" height="11.48" fill="#add0e6"/><rect x="687.81" y="270.80" width="11.48" height="11.48" fill="#add0e6"/><rect x="699.04" y="270.80" width="11.48" height="11.48" fill="#c9ddf0"/><rect x="710.27" y="270.80" width="9.98" height="11.48" fill="#c1d9ed"/><rect x="160.00" y="282.03" width="11.48" height="11.48" fill="#2e7ebc"/><rect x="171.23" y="282.03" width="11.48" height="11.48" fill="#2e7ebc"/><rect x="182.46" y="282.03" width="11.48" height="11.48" fill="#549fcd"/><rect x="193.69" y="282.03" width="11.48" height="11.48" fill="#4a98c9"/><rect x="204.92" y="282.03" width="11.48" height="11.48" fill="#add0e6"/><rect x="216.15" y="282.03" width="11.48" height="11.48" fill="#9ac8e0"/><rect x="227.38" y="282.03" width="11.48" height="11.48" fill="#b7d4ea"/><rect x="238.61" y="282.03" width="11.48" height="11.48" fill="#9ac8e0"/><rect x="249.84" y="282.03" width="11.48" height="11.48" fill="#b7d4ea"/><rect x="261.07" y="282.03" width="11.48" height="11.48" fill="#b7d4ea"/><rect x="272.30" y="282.03" width="11.48" height="11.48" fill="#81badb"/><rect x="283.53" y="282.03" width="11.48" height="11.48" fill="#81badb"/><rect x="294.76" y="282.03" width="11.48" height="11.48" fill="#81badb"/><rect x="305.99" y="282.03" width="11.48" height="11.48" fill="#81badb"/><rect x="317.22" y="282.03" width="11.48" height="11.48" fill="#a4cce3"/><rect x="328.45" y="282.03" width="11.48" height="11.48" fill="#81badb"/><rect x="339.68" y="282.03" width="11.48" height="11.48" fill="#9ac8e0"/><rect x="350.91" y="282.03" width="11.48" height="11.48" fill="#a4cce3"/><rect x="362.14" y="282.03" width="11.48" height="11.48" fill="#69add5"/><rect x="373.37" y="282.03" width="11.48" height="11.48" fill="#8abfdd"/><rect x="384.60" y="282.03" width="11.48" height="11.48" fill="#a8cee4"/><rect x="395.83" y="282.03" width="11.48" height="11.48" fill="#c1d9ed"/><rect x="407.06" y="282.03" width="11.48" height="11.48" fill="#cfe1f2"/><rect x="418.29" y="282.03" width="11.48" height="11.48" fill="#a8cee4"/><rect x="429.52" y="282.03" width="11.48" height="11.48" fill="#9fcae1"/><rect x="440.75" y="282.03" width="11.48" height="11.48" fill="#92c4de"/><rect x="451.98" y="282.03" width="11.48" height="11.48" fill="#9fcae1"/><rect x="463.21" y="282.03" width="11.48" height="11.48" fill="#85bcdc"/><rect x="474.44" y="282.03" width="11.48" height="11.48" fill="#85bcdc"/><rect x="485.67" y="282.03" width="11.48" height="11.48" fill="#9fcae1"/><rect x="496.90" y="282.03" width="11.48" height="11.48" fill="#9ac8e0"/><rect x="508.13" y="282.03" width="11.48" height="11.48" fill="#81badb"/><rect x="519.36" y="282.03" width="11.48" height="11.48" fill="#8dc1dd"/><rect x="530.59" y="282.03" width="11.48" height="11.48" fill="#d8e7f5"/><rect x="541.82" y="282.03" width="11.48" height="11.48" fill="#cfe1f2"/><rect x="553.05" y="282.03" width="11.48" height="11.48" fill="#cfe1f2"/><rect x="564.28" y="282.03" width="11.48" height="11.48" fill="#cfe1f2"/><rect x="575.51" y="282.03" width="11.48" height="11.48" fill="#e1edf8"/><rect x="586.74" y="282.03" width="11.48" height="11.48" fill="#f7fbff"/><rect x="597.97" y="282.03" width="11.48" height="11.48" fill="#add0e6"/><rect x="609.20" y="282.03" width="11.48" height="11.48" fill="#c1d9ed"/><rect x="620.43" y="282.03" width="11.48" height="11.48" fill="#c1d9ed"/><rect x="631.66" y="282.03" width="11.48" height="11.48" fill="#c1d9ed"/><rect x="642.89" y="282.03" width="11.48" height="11.48" fill="#add0e6"/><rect x="654.12" y="282.03" width="11.48" height="11.48" fill="#c1d9ed"/><rect x="665.35" y="282.03" width="11.48" height="11.48" fill="#c1d9ed"/><rect x="676.58" y="282.03" width="11.48" height="11.48" fill="#a4cce3"/><rect x="687.81" y="282.03" width="11.48" height="11.48" fill="#a4cce3"/><rect x="699.04" y="282.03" width="11.48" height="11.48" fill="#c1d9ed"/><rect x="710.27" y="282.03" width="9.98" height="11.48" fill="#c1d9ed"/><rect x="160.00" y="293.26" width="11.48" height="11.48" fill="#2e7ebc"/><rect x="171.23" y="293.26" width="11.48" height="11.48" fill="#2e7ebc"/><rect x="182.46" y="293.26" width="11.48" height="11.48" fill="#549fcd"/><rect x="193.69" y="293.26" width="11.48" height="11.48" fill="#4090c5"/><rect x="204.92" y="293.26" width="11.48" height="11.48" fill="#add0e6"/><rect x="216.15" y="293.26" width="11.48" height="11.48" fill="#9ac8e0"/><rect x="227.38" y="293.26" width="11.48" height="11.48" fill="#b7d4ea"/><rect x="238.61" y="293.26" width="11.48" height="11.48" fill="#9ac8e0"/><rect x="249.84" y="293.26" width="11.48" height="11.48" fill="#c1d9ed"/><rect x="261.07" y="293.26" width="11.48" height="11.48" fill="#c1d9ed"/><rect x="272.30" y="293.26" width="11.48" height="11.48" fill="#74b3d8"/><rect x="283.53" y="293.26" width="11.48" height="11.48" fill="#74b3d8"/><rect x="294.76" y="293.26" width="11.48" height="11.48" fill="#81badb"/><rect x="305.99" y="293.26" width="11.48" height="11.48" fill="#81badb"/><rect x="317.22" y="293.26" width="11.48" height="11.48" fill="#a4cce3"/><rect x="328.45" y="293.26" width="11.48" height="11.48" fill="#81badb"/><rect x="339.68" y="293.26" width="11.48" height="11.48" fill="#9ac8e0"/><rect x="350.91" y="293.26" width="11.48" height="11.48" fill="#a4cce3"/><rect x="362.14" y="293.26" width="11.48" height="11.48" fill="#69add5"/><rect x="373.37" y="293.26" width="11.48" height="11.48" fill="#8abfdd"/><rect x="384.60" y="293.26" width="11.48" height="11.48" fill="#a8cee4"/><rect x="395.83" y="293.26" width="11.48" height="11.48" fill="#c9ddf0"/><rect x="407.06" y="293.26" width="11.48" height="11.48" fill="#cfe1f2"/><rect x="418.29" y="293.26" width="11.48" height="11.48" fill="#a8cee4"/><rect x="429.52" y="293.26" width="11.48" height="11.48" fill="#9fcae1"/><rect x="440.75" y="293.26" width="11.48" height="11.48" fill="#92c4de"/><rect x="451.98" y="293.26" width="11.48" height="11.48" fill="#9fcae1"/><rect x="463.21" y="293.26" width="11.48" height="11.48" fill="#85bcdc"/><rect x="474.44" y="293.26" width="11.48" height="11.48" fill="#85bcdc"/><rect x="485.67" y="293.26" width="11.48" height="11.48" fill="#9fcae1"/><rect x="496.90" y="293.26" width="11.48" height="11.48" fill="#9ac8e0"/><rect x="508.13" y="293.26" width="11.48" height="11.48" fill="#81badb"/><rect x="519.36" y="293.26" width="11.48" height="11.48" fill="#8dc1dd"/><rect x="530.59" y="293.26" width="11.48" height="11.48" fill="#d8e7f5"/><rect x="541.82" y="293.26" width="11.48" height="11.48" fill="#cfe1f2"/><rect x="553.05" y="293.26" width="11.48" height="11.48" fill="#cfe1f2"/><rect x="564.28" y="293.26" width="11.48" height="11.48" fill="#cfe1f2"/><rect x="575.51" y="293.26" width="11.48" height="11.48" fill="#f7fbff"/><rect x="586.74" y="293.26" width="11.48" height="11.48" fill="#e1edf8"/><rect x="597.97" y="293.26" width="11.48" height="11.48" fill="#add0e6"/><rect x="609.20" y="293.26" width="11.48" height="11.48" fill="#c1d9ed"/><rect x="620.43" y="293.26" width="11.48" height="11.48" fill="#c1d9ed"/><rect x="631.66" y="293.26" width="11.48" height="11.48" fill="#c1d9ed"/><rect x="642.89" y="293.26" width="11.48" height="11.48" fill="#add0e6"/><rect x="654.12" y="293.26" width="11.48" height="11.48" fill="#c9ddf0"/><rect x="665.35" y="293.26" width="11.48" height="11.48" fill="#c9ddf0"/><rect x="676.58" y="293.26" width="11.48" height="11.48" fill="#add0e6"/><rect x="687.81" y="293.26" width="11.48" height="11.48" fill="#add0e6"/><rect x="699.04" y="293.26" width="11.48" height="11.48" fill="#c1d9ed"/><rect x="710.27" y="293.26" width="9.98" height="11.48" fill="#c1d9ed"/><rect x="160.00" y="304.49" width="11.48" height="11.48" fill="#1562a9"/><rect x="171.23" y="304.49" width="11.48" height="11.48" fill="#0e59a2"/><rect x="182.46" y="304.49" width="11.48" height="11.48" fill="#2e7ebc"/><rect x="193.69" y="304.49" width="11.48" height="11.48" fill="#2e7ebc"/><rect x="204.92" y="304.49" width="11.48" height="11.48" fill="#81badb"/><rect x="216.15" y="304.49" width="11.48" height="11.48" fill="#69add5"/><rect x="227.38" y="304.49" width="11.48" height="11.48" fill="#81badb"/><rect x="238.61" y="304.49" width="11.48" height="11.48" fill="#79b5d9"/><rect x="249.84" y="304.49" width="11.48" height="11.48" fill="#add0e6"/><rect x="261.07" y="304.49" width="11.48" height="11.48" fill="#add0e6"/><rect x="272.30" y="304.49" width="11.48" height="11.48" fill="#5fa6d1"/><rect x="283.53" y="304.49" width="11.48" height="11.48" fill="#5fa6d1"/><rect x="294.76" y="304.49" width="11.48" height="11.48" fill="#69add5"/><rect x="305.99" y="304.49" width="11.48" height="11.48" fill="#549fcd"/><rect x="317.22" y="304.49" width="11.48" height="11.48" fill="#81badb"/><rect x="328.45" y="304.49" width="11.48" height="11.48" fill="#549fcd"/><rect x="339.68" y="304.49" width="11.48" height="11.48" fill="#81badb"/><rect x="350.91" y="304.49" width="11.48" height="11.48" fill="#81badb"/><rect x="362.14" y="304.49" width="11.48" height="11.48" fill="#69add5"/><rect x="373.37" y="304.49" width="11.48" height="11.48" fill="#a3cce3"/><rect x="384.60" y="304.49" width="11.48" height="11.48" fill="#b7d4ea"/><rect x="395.83" y="304.49" width="11.48" height="11.48" fill="#cfe1f2"/><rect x="407.06" y="304.49" width="11.48" height="11.48" fill="#cfe1f2"/><rect x="418.29" y="304.49" width="11.48" height="11.48" fill="#add0e6"/><rect x="429.52" y="304.49" width="11.48" height="11.48" fill="#9fcae1"/><rect x="440.75" y="304.49" width="11.48" height="11.48" fill="#a8cee4"/><rect x="451.98" y="304.49" width="11.48" height="11.48" fill="#a8cee4"/><rect x="463.21" y="304.49" width="11.48" height="11.48" fill="#92c4de"/><rect x="474.44" y="304.49" width="11.48" height="11.48" fill="#a8cee4"/><rect x="485.67" y="304.49" width="11.48" height="11.48" fill="#b0d2e7"/><rect x="496.90" y="304.49" width="11.48" height="11.48" fill="#9ac8e0"/><rect x="508.13" y="304.49" width="11.48" height="11.48" fill="#8dc1dd"/><rect x="519.36" y="304.49" width="11.48" height="11.48" fill="#a4cce3"/><rect x="530.59" y="304.49" width="11.48" height="11.48" fill="#cfe1f2"/><rect x="541.82" y="304.49" width="11.48" height="11.48" fill="#cfe1f2"/><rect x="553.05" y="304.49" width="11.48" height="11.48" fill="#e1edf8"/><rect x="564.28" y="304.49" width="11.48" height="11.48" fill="#f7fbff"/><rect x="575.51" y="304.49" width="11.48" height="11.48" fill="#cfe1f2"/><rect x="586.74" y="304.49" width="11.48" height="11.48" fill="#cfe1f2"/><rect x="597.97" y="304.49" width="11.48" height="11.48" fill="#add0e6"/><rect x="609.20" y="304.49" width="11.48" height="11.48" fill="#cfe1f2"/><rect x="620.43" y="304.49" width="11.48" height="11.48" fill="#cfe1f2"/><rect x="631.66" y="304.49" width="11.48" height="11.48" fill="#cfe1f2"/><rect x="642.89" y="304.49" width="11.48" height="11.48" fill="#cfe1f2"/><rect x="654.12" y="304.49" width="11.48" height="11.48" fill="#cfe1f2"/><rect x="665.35" y="304.49" width="11.48" height="11.48" fill="#cfe1f2"/><rect x="676.58" y="304.49" width="11.48" height="11.48" fill="#b7d4ea"/><rect x="687.81" y="304.49" width="11.48" height="11.48" fill="#b7d4ea"/><rect x="699.04" y="304.49" width="11.48" height="11.48" fill="#cfe1f2"/><rect x="710.27" y="304.49" width="9.98" height="11.48" fill="#cfe1f2"/><rect x="160.00" y="315.72" width="11.48" height="11.48" fill="#1562a9"/><rect x="171.23" y="315.72" width="11.48" height="11.48" fill="#0e59a2"/><rect x="182.46" y="315.72" width="11.48" height="11.48" fill="#2e7ebc"/><rect x="193.69" y="315.72" width="11.48" height="11.48" fill="#2e7ebc"/><rect x="204.92" y="315.72" width="11.48" height="11.48" fill="#81badb"/><rect x="216.15" y="315.72" width="11.48" height="11.48" fill="#69add5"/><rect x="227.38" y="315.72" width="11.48" height="11.48" fill="#81badb"/><rect x="238.61" y="315.72" width="11.48" height="11.48" fill="#79b5d9"/><rect x="249.84" y="315.72" width="11.48" height="11.48" fill="#add0e6"/><rect x="261.07" y="315.72" width="11.48" height="11.48" fill="#add0e6"/><rect x="272.30" y="315.72" width="11.48" height="11.48" fill="#5fa6d1"/><rect x="283.53" y="315.72" width="11.48" height="11.48" fill="#5fa6d1"/><rect x="294.76" y="315.72" width="11.48" height="11.48" fill="#69add5"/><rect x="305.99" y="315.72" width="11.48" height="11.48" fill="#549fcd"/><rect x="317.22" y="315.72" width="11.48" height="11.48" fill="#81badb"/><rect x="328.45" y="315.72" width="11.48" height="11.48" fill="#549fcd"/><rect x="339.68" y="315.72" width="11.48" height="11.48" fill="#81badb"/><rect x="350.91" y="315.72" width="11.48" height="11.48" fill="#8dc1dd"/><rect x="362.14" y="315.72" width="11.48" height="11.48" fill="#69add5"/><rect x="373.37" y="315.72" width="11.48" height="11.48" fill="#a3cce3"/><rect x="384.60" y="315.72" width="11.48" height="11.48" fill="#b7d4ea"/><rect x="395.83" y="315.72" width="11.48" height="11.48" fill="#cfe1f2"/><rect x="407.06" y="315.72" width="11.48" height="11.48" fill="#cfe1f2"/><rect x="418.29" y="315.72" width="11.48" height="11.48" fill="#b0d2e7"/><rect x="429.52" y="315.72" width="11.48" height="11.48" fill="#9fcae1"/><rect x="440.75" y="315.72" width="11.48" height="11.48" fill="#9fcae1"/><rect x="451.98" y="315.72" width="11.48" height="11.48" fill="#9fcae1"/><rect x="463.21" y="315.72" width="11.48" height="11.48" fill="#85bcdc"/><rect x="474.44" y="315.72" width="11.48" height="11.48" fill="#9fcae1"/><rect x="485.67" y="315.72" width="11.48" height="11.48" fill="#a8cee4"/><rect x="496.90" y="315.72" width="11.48" height="11.48" fill="#9ac8e0"/><rect x="508.13" y="315.72" width="11.48" height="11.48" fill="#81badb"/><rect x="519.36" y="315.72" width="11.48" height="11.48" fill="#9ac8e0"/><rect x="530.59" y="315.72" width="11.48" height="11.48" fill="#cfe1f2"/><rect x="541.82" y="315.72" width="11.48" height="11.48" fill="#cfe1f2"/><rect x="553.05" y="315.72" width="11.48" height="11.48" fill="#f7fbff"/><rect x="564.28" y="315.72" width="11.48" height="11.48" fill="#e1edf8"/><rect x="575.51" y="315.72" width="11.48" height="11.48" fill="#cfe1f2"/><rect x="586.74" y="315.72" width="11.48" height="11.48" fill="#cfe1f2"/><rect x="597.97" y="315.72" width="11.48" height="11.48" fill="#add0e6"/><rect x="609.20" y="315.72" width="11.48" height="11.48" fill="#cfe1f2"/><rect x="620.43" y="315.72" width="11.48" height="11.48" fill="#cfe1f2"/><rect x="631.66" y="315.72" width="11.48" height="11.48" fill="#cfe1f2"/><rect x="642.89" y="315.72" width="11.48" height="11.48" fill="#cfe1f2"/><rect x="654.12" y="315.72" width="11.48" height="11.48" fill="#cfe1f2"/><rect x="665.35" y="315.72" width="11.48" height="11.48" fill="#cfe1f2"/><rect x="676.58" y="315.72" width="11.48" height="11.48" fill="#b7d4ea"/><rect x="687.81" y="315.72" width="11.48" height="11.48" fill="#b7d4ea"/><rect x="699.04" y="315.72" width="11.48" height="11.48" fill="#cfe1f2"/><rect x="710.27" y="315.72" width="9.98" height="11.48" fill="#cfe1f2"/><rect x="160.00" y="326.95" width="11.48" height="11.48" fill="#1c6bb0"/><rect x="171.23" y="326.95" width="11.48" height="11.48" fill="#1562a9"/><rect x="182.46" y="326.95" width="11.48" height="11.48" fill="#4090c5"/><rect x="193.69" y="326.95" width="11.48" height="11.48" fill="#2e7ebc"/><rect x="204.92" y="326.95" width="11.48" height="11.48" fill="#81badb"/><rect x="216.15" y="326.95" width="11.48" height="11.48" fill="#69add5"/><rect x="227.38" y="326.95" width="11.48" height="11.48" fill="#a4cce3"/><rect x="238.61" y="326.95" width="11.48" height="11.48" fill="#a4cce3"/><rect x="249.84" y="326.95" width="11.48" height="11.48" fill="#c1d9ed"/><rect x="261.07" y="326.95" width="11.48" height="11.48" fill="#c1d9ed"/><rect x="272.30" y="326.95" width="11.48" height="11.48" fill="#5fa6d1"/><rect x="283.53" y="326.95" width="11.48" height="11.48" fill="#5fa6d1"/><rect x="294.76" y="326.95" width="11.48" height="11.48" fill="#81badb"/><rect x="305.99" y="326.95" width="11.48" height="11.48" fill="#81badb"/><rect x="317.22" y="326.95" width="11.48" height="11.48" fill="#add0e6"/><rect x="328.45" y="326.95" width="11.48" height="11.48" fill="#69add5"/><rect x="339.68" y="326.95" width="11.48" height="11.48" fill="#81badb"/><rect x="350.91" y="326.95" width="11.48" height="11.48" fill="#9ac8e0"/><rect x="362.14" y="326.95" width="11.48" height="11.48" fill="#69add5"/><rect x="373.37" y="326.95" width="11.48" height="11.48" fill="#8abfdd"/><rect x="384.60" y="326.95" width="11.48" height="11.48" fill="#b7d4ea"/><rect x="395.83" y="326.95" width="11.48" height="11.48" fill="#add0e6"/><rect x="407.06" y="326.95" width="11.48" height="11.48" fill="#b7d4ea"/><rect x="418.29" y="326.95" width="11.48" height="11.48" fill="#9fcae1"/><rect x="429.52" y="326.95" width="11.48" height="11.48" fill="#85bcdc"/><rect x="440.75" y="326.95" width="11.48" height="11.48" fill="#85bcdc"/><rect x="451.98" y="326.95" width="11.48" height="11.48" fill="#9fcae1"/><rect x="463.21" y="326.95" width="11.48" height="11.48" fill="#85bcdc"/><rect x="474.44" y="326.95" width="11.48" height="11.48" fill="#85bcdc"/><rect x="485.67" y="326.95" width="11.48" height="11.48" fill="#92c4de"/><rect x="496.90" y="326.95" width="11.48" height="11.48" fill="#81badb"/><rect x="508.13" y="326.95" width="11.48" height="11.48" fill="#81badb"/><rect x="519.36" y="326.95" width="11.48" height="11.48" fill="#9ac8e0"/><rect x="530.59" y="326.95" width="11.48" height="11.48" fill="#e1edf8"/><rect x="541.82" y="326.95" width="11.48" height="11.48" fill="#f7fbff"/><rect x="553.05" y="326.95" width="11.48" height="11.48" fill="#cfe1f2"/><rect x="564.28" y="326.95" width="11.48" height="11.48" fill="#cfe1f2"/><rect x="575.51" y="326.95" width="11.48" height="11.48" fill="#cfe1f2"/><rect x="586.74" y="326.95" width="11.48" height="11.48" fill="#cfe1f2"/><rect x="597.97" y="326.95" width="11.48" height="11.48" fill="#add0e6"/><rect x="609.20" y="326.95" width="11.48" height="11.48" fill="#c1d9ed"/><rect x="620.43" y="326.95" width="11.48" height="11.48" fill="#c1d9ed"/><rect x="631.66" y="326.95" width="11.48" height="11.48" fill="#c1d9ed"/><rect x="642.89" y="326.95" width="11.48" height="11.48" fill="#c1d9ed"/><rect x="654.12" y="326.95" width="11.48" height="11.48" fill="#cfe1f2"/><rect x="665.35" y="326.95" width="11.48" height="11.48" fill="#cfe1f2"/><rect x="676.58" y="326.95" width="11.48" height="11.48" fill="#a4cce3"/><rect x="687.81" y="326.95" width="11.48" height="11.48" fill="#a4cce3"/><rect x="699.04" y="326.95" width="11.48" height="11.48" fill="#c1d9ed"/><rect x="710.27" y="326.95" width="9.98" height="11.48" fill="#c1d9ed"/><rect x="160.00" y="338.18" width="11.48" height="11.48" fill="#2e7ebc"/><rect x="171.23" y="338.18" width="11.48" height="11.48" fill="#2474b7"/><rect x="182.46" y="338.18" width="11.48" height="11.48" fill="#549fcd"/><rect x="193.69" y="338.18" width="11.48" height="11.48" fill="#4090c5"/><rect x="204.92" y="338.18" width="11.48" height="11.48" fill="#9ac8e0"/><rect x="216.15" y="338.18" width="11.48" height="11.48" fill="#81badb"/><rect x="227.38" y="338.18" width="11.48" height="11.48" fill="#b7d4ea"/><rect x="238.61" y="338.18" width="11.48" height="11.48" fill="#add0e6"/><rect x="249.84" y="338.18" width="11.48" height="11.48" fill="#c1d9ed"/><rect x="261.07" y="338.18" width="11.48" height="11.48" fill="#c1d9ed"/><rect x="272.30" y="338.18" width="11.48" height="11.48" fill="#74b3d8"/><rect x="283.53" y="338.18" width="11.48" height="11.48" fill="#69add5"/><rect x="294.76" y="338.18" width="11.48" height="11.48" fill="#8dc1dd"/><rect x="305.99" y="338.18" width="11.48" height="11.48" fill="#8dc1dd"/><rect x="317.22" y="338.18" width="11.48" height="11.48" fill="#b7d4ea"/><rect x="328.45" y="338.18" width="11.48" height="11.48" fill="#81badb"/><rect x="339.68" y="338.18" width="11.48" height="11.48" fill="#9ac8e0"/><rect x="350.91" y="338.18" width="11.48" height="11.48" fill="#a4cce3"/><rect x="362.14" y="338.18" width="11.48" height="11.48" fill="#69add5"/><rect x="373.37" y="338.18" width="11.48" height="11.48" fill="#8abfdd"/><rect x="384.60" y="338.18" width="11.48" height="11.48" fill="#b0d2e7"/><rect x="395.83" y="338.18" width="11.48" height="11.48" fill="#b7d4ea"/><rect x="407.06" y="338.18" width="11.48" height="11.48" fill="#b7d4ea"/><rect x="418.29" y="338.18" width="11.48" height="11.48" fill="#a8cee4"/><rect x="429.52" y="338.18" width="11.48" height="11.48" fill="#85bcdc"/><rect x="440.75" y="338.18" width="11.48" height="11.48" fill="#85bcdc"/><rect x="451.98" y="338.18" width="11.48" height="11.48" fill="#9fcae1"/><rect x="463.21" y="338.18" width="11.48" height="11.48" fill="#85bcdc"/><rect x="474.44" y="338.18" width="11.48" height="11.48" fill="#85bcdc"/><rect x="485.67" y="338.18" width="11.48" height="11.48" fill="#9fcae1"/><rect x="496.90" y="338.18" width="11.48" height="11.48" fill="#81badb"/><rect x="508.13" y="338.18" width="11.48" height="11.48" fill="#81badb"/><rect x="519.36" y="338.18" width="11.48" height="11.48" fill="#9ac8e0"/><rect x="530.59" y="338.18" width="11.48" height="11.48" fill="#f7fbff"/><rect x="541.82" y="338.18" width="11.48" height="11.48" fill="#e1edf8"/><rect x="553.05" y="338.18" width="11.48" height="11.48" fill="#cfe1f2"/><rect x="564.28" y="338.18" width="11.48" height="11.48" fill="#cfe1f2"/><rect x="575.51" y="338.18" width="11.48" height="11.48" fill="#d8e7f5"/><rect x="586.74" y="338.18" width="11.48" height="11.48" fill="#d8e7f5"/><rect x="597.97" y="338.18" width="11.48" height="11.48" fill="#add0e6"/><rect x="609.20" y="338.18" width="11.48" height="11.48" fill="#c1d9ed"/><rect x="620.43" y="338.18" width="11.48" height="11.48" fill="#c1d9ed"/><rect x="631.66" y="338.18" width="11.48" height="11.48" fill="#c1d9ed"/><rect x="642.89" y="338.18" width="11.48" height="11.48" fill="#add0e6"/><rect x="654.12" y="338.18" width="11.48" height="11.48" fill="#cfe1f2"/><rect x="665.35" y="338.18" width="11.48" height="11.48" fill="#cfe1f2"/><rect x="676.58" y="338.18" width="11.48" height="11.48" fill="#a4cce3"/><rect x="687.81" y="338.18" width="11.48" height="11.48" fill="#a4cce3"/><rect x="699.04" y="338.18" width="11.48" height="11.48" fill="#c1d9ed"/><rect x="710.27" y="338.18" width="9.98" height="11.48" fill="#c1d9ed"/><rect x="160.00" y="349.41" width="11.48" height="11.48" fill="#083471"/><rect x="171.23" y="349.41" width="11.48" height="11.48" fill="#083471"/><rect x="182.46" y="349.41" width="11.48" height="11.48" fill="#1c6bb0"/><rect x="193.69" y="349.41" width="11.48" height="11.48" fill="#0e59a2"/><rect x="204.92" y="349.41" width="11.48" height="11.48" fill="#3787c0"/><rect x="216.15" y="349.41" width="11.48" height="11.48" fill="#2474b7"/><rect x="227.38" y="349.41" width="11.48" height="11.48" fill="#4090c5"/><rect x="238.61" y="349.41" width="11.48" height="11.48" fill="#81badb"/><rect x="249.84" y="349.41" width="11.48" height="11.48" fill="#9ac8e0"/><rect x="261.07" y="349.41" width="11.48" height="11.48" fill="#9ac8e0"/><rect x="272.30" y="349.41" width="11.48" height="11.48" fill="#549fcd"/><rect x="283.53" y="349.41" width="11.48" height="11.48" fill="#549fcd"/><rect x="294.76" y="349.41" width="11.48" height="11.48" fill="#69add5"/><rect x="305.99" y="349.41" width="11.48" height="11.48" fill="#549fcd"/><rect x="317.22" y="349.41" width="11.48" height="11.48" fill="#81badb"/><rect x="328.45" y="349.41" width="11.48" height="11.48" fill="#2e7ebc"/><rect x="339.68" y="349.41" width="11.48" height="11.48" fill="#5fa6d1"/><rect x="350.91" y="349.41" width="11.48" height="11.48" fill="#549fcd"/><rect x="362.14" y="349.41" width="11.48" height="11.48" fill="#4090c5"/><rect x="373.37" y="349.41" width="11.48" height="11.48" fill="#8abfdd"/><rect x="384.60" y="349.41" width="11.48" height="11.48" fill="#b7d4ea"/><rect x="395.83" y="349.41" width="11.48" height="11.48" fill="#a8cee4"/><rect x="407.06" y="349.41" width="11.48" height="11.48" fill="#a8cee4"/><rect x="418.29" y="349.41" width="11.48" height="11.48" fill="#cfe1f2"/><rect x="429.52" y="349.41" width="11.48" height="11.48" fill="#cfe1f2"/><rect x="440.75" y="349.41" width="11.48" height="11.48" fill="#cfe1f2"/><rect x="451.98" y="349.41" width="11.48" height="11.48" fill="#e1edf8"/><rect x="463.21" y="349.41" width="11.48" height="11.48" fill="#d8e7f5"/><rect x="474.44" y="349.41" width="11.48" height="11.48" fill="#d8e7f5"/><rect x="485.67" y="349.41" width="11.48" height="11.48" fill="#d8e7f5"/><rect x="496.90" y="349.41" width="11.48" height="11.48" fill="#e1edf8"/><rect x="508.13" y="349.41" width="11.48" height="11.48" fill="#e1edf8"/><rect x="519.36" y="349.41" width="11.48" height="11.48" fill="#f7fbff"/><rect x="530.59" y="349.41" width="11.48" height="11.48" fill="#9ac8e0"/><rect x="541.82" y="349.41" width="11.48" height="11.48" fill="#9ac8e0"/><rect x="553.05" y="349.41" width="11.48" height="11.48" fill="#9ac8e0"/><rect x="564.28" y="349.41" width="11.48" height="11.48" fill="#a4cce3"/><rect x="575.51" y="349.41" width="11.48" height="11.48" fill="#8dc1dd"/><rect x="586.74" y="349.41" width="11.48" height="11.48" fill="#8dc1dd"/><rect x="597.97" y="349.41" width="11.48" height="11.48" fill="#9ac8e0"/><rect x="609.20" y="349.41" width="11.48" height="11.48" fill="#cfe1f2"/><rect x="620.43" y="349.41" width="11.48" height="11.48" fill="#c1d9ed"/><rect x="631.66" y="349.41" width="11.48" height="11.48" fill="#c1d9ed"/><rect x="642.89" y="349.41" width="11.48" height="11.48" fill="#c1d9ed"/><rect x="654.12" y="349.41" width="11.48" height="11.48" fill="#c1d9ed"/><rect x="665.35" y="349.41" width="11.48" height="11.48" fill="#c1d9ed"/><rect x="676.58" y="349.41" width="11.48" height="11.48" fill="#a4cce3"/><rect x="687.81" y="349.41" width="11.48" height="11.48" fill="#a4cce3"/><rect x="699.04" y="349.41" width="11.48" height="11.48" fill="#a4cce3"/><rect x="710.27" y="349.41" width="9.98" height="11.48" fill="#9ac8e0"/><rect x="160.00" y="360.64" width="11.48" height="11.48" fill="#083d7f"/><rect x="171.23" y="360.64" width="11.48" height="11.48" fill="#083471"/><rect x="182.46" y="360.64" width="11.48" height="11.48" fill="#1c6bb0"/><rect x="193.69" y="360.64" width="11.48" height="11.48" fill="#0e59a2"/><rect x="204.92" y="360.64" width="11.48" height="11.48" fill="#3787c0"/><rect x="216.15" y="360.64" width="11.48" height="11.48" fill="#1c6bb0"/><rect x="227.38" y="360.64" width="11.48" height="11.48" fill="#4090c5"/><rect x="238.61" y="360.64" width="11.48" height="11.48" fill="#81badb"/><rect x="249.84" y="360.64" width="11.48" height="11.48" fill="#8dc1dd"/><rect x="261.07" y="360.64" width="11.48" height="11.48" fill="#9ac8e0"/><rect x="272.30" y="360.64" width="11.48" height="11.48" fill="#549fcd"/><rect x="283.53" y="360.64" width="11.48" height="11.48" fill="#549fcd"/><rect x="294.76" y="360.64" width="11.48" height="11.48" fill="#69add5"/><rect x="305.99" y="360.64" width="11.48" height="11.48" fill="#549fcd"/><rect x="317.22" y="360.64" width="11.48" height="11.48" fill="#81badb"/><rect x="328.45" y="360.64" width="11.48" height="11.48" fill="#2e7ebc"/><rect x="339.68" y="360.64" width="11.48" height="11.48" fill="#5fa6d1"/><rect x="350.91" y="360.64" width="11.48" height="11.48" fill="#549fcd"/><rect x="362.14" y="360.64" width="11.48" height="11.48" fill="#4090c5"/><rect x="373.37" y="360.64" width="11.48" height="11.48" fill="#72b2d8"/><rect x="384.60" y="360.64" width="11.48" height="11.48" fill="#a8cee4"/><rect x="395.83" y="360.64" width="11.48" height="11.48" fill="#9fcae1"/><rect x="407.06" y="360.64" width="11.48" height="11.48" fill="#9fcae1"/><rect x="418.29" y="360.64" width="11.48" height="11.48" fill="#cfe1f2"/><rect x="429.52" y="360.64" width="11.48" height="11.48" fill="#e1edf8"/><rect x="440.75" y="360.64" width="11.48" height="11.48" fill="#e1edf8"/><rect x="451.98" y="360.64" width="11.48" height="11.48" fill="#d8e7f5"/><rect x="463.21" y="360.64" width="11.48" height="11.48" fill="#e1edf8"/><rect x="474.44" y="360.64" width="11.48" height="11.48" fill="#d8e7f5"/><rect x="485.67" y="360.64" width="11.48" height="11.48" fill="#cfe1f2"/><rect x="496.90" y="360.64" width="11.48" height="11.48" fill="#e1edf8"/><rect x="508.13" y="360.64" width="11.48" height="11.48" fill="#f7fbff"/><rect x="519.36" y="360.64" width="11.48" height="11.48" fill="#e1edf8"/><rect x="530.59" y="360.64" width="11.48" height="11.48" fill="#81badb"/><rect x="541.82" y="360.64" width="11.48" height="11.48" fill="#81badb"/><rect x="553.05" y="360.64" width="11.48" height="11.48" fill="#81badb"/><rect x="564.28" y="360.64" width="11.48" height="11.48" fill="#8dc1dd"/><rect x="575.51" y="360.64" width="11.48" height="11.48" fill="#81badb"/><rect x="586.74" y="360.64" width="11.48" height="11.48" fill="#81badb"/><rect x="597.97" y="360.64" width="11.48" height="11.48" fill="#81badb"/><rect x="609.20" y="360.64" width="11.48" height="11.48" fill="#c1d9ed"/><rect x="620.43" y="360.64" width="11.48" height="11.48" fill="#add0e6"/><rect x="631.66" y="360.64" width="11.48" height="11.48" fill="#add0e6"/><rect x="642.89" y="360.64" width="11.48" height="11.48" fill="#a4cce3"/><rect x="654.12" y="360.64" width="11.48" height="11.48" fill="#add0e6"/><rect x="665.35" y="360.64" width="11.48" height="11.48" fill="#add0e6"/><rect x="676.58" y="360.64" width="11.48" height="11.48" fill="#9ac8e0"/><rect x="687.81" y="360.64" width="11.48" height="11.48" fill="#9ac8e0"/><rect x="699.04" y="360.64" width="11.48" height="11.48" fill="#81badb"/><rect x="710.27" y="360.64" width="9.98" height="11.48" fill="#81badb"/><rect x="160.00" y="371.87" width="11.48" height="11.48" fill="#083d7f"/><rect x="171.23" y="371.87" width="11.48" height="11.48" fill="#083471"/><rect x="182.46" y="371.87" width="11.48" height="11.48" fill="#1c6bb0"/><rect x="193.69" y="371.87" width="11.48" height="11.48" fill="#0e59a2"/><rect x="204.92" y="371.87" width="11.48" height="11.48" fill="#3787c0"/><rect x="216.15" y="371.87" width="11.48" height="11.48" fill="#2474b7"/><rect x="227.38" y="371.87" width="11.48" height="11.48" fill="#4090c5"/><rect x="238.61" y="371.87" width="11.48" height="11.48" fill="#81badb"/><rect x="249.84" y="371.87" width="11.48" height="11.48" fill="#8dc1dd"/><rect x="261.07" y="371.87" width="11.48" height="11.48" fill="#9ac8e0"/><rect x="272.30" y="371.87" width="11.48" height="11.48" fill="#549fcd"/><rect x="283.53" y="371.87" width="11.48" height="11.48" fill="#549fcd"/><rect x="294.76" y="371.87" width="11.48" height="11.48" fill="#69add5"/><rect x="305.99" y="371.87" width="11.48" height="11.48" fill="#549fcd"/><rect x="317.22" y="371.87" width="11.48" height="11.48" fill="#81badb"/><rect x="328.45" y="371.87" width="11.48" height="11.48" fill="#3787c0"/><rect x="339.68" y="371.87" width="11.48" height="11.48" fill="#69add5"/><rect x="350.91" y="371.87" width="11.48" height="11.48" fill="#5fa6d1"/><rect x="362.14" y="371.87" width="11.48" height="11.48" fill="#4090c5"/><rect x="373.37" y="371.87" width="11.48" height="11.48" fill="#81badb"/><rect x="384.60" y="371.87" width="11.48" height="11.48" fill="#b0d2e7"/><rect x="395.83" y="371.87" width="11.48" height="11.48" fill="#a8cee4"/><rect x="407.06" y="371.87" width="11.48" height="11.48" fill="#a8cee4"/><rect x="418.29" y="371.87" width="11.48" height="11.48" fill="#d8e7f5"/><rect x="429.52" y="371.87" width="11.48" height="11.48" fill="#e1edf8"/><rect x="440.75" y="371.87" width="11.48" height="11.48" fill="#e1edf8"/><rect x="451.98" y="371.87" width="11.48" height="11.48" fill="#cfe1f2"/><rect x="463.21" y="371.87" width="11.48" height="11.48" fill="#cfe1f2"/><rect x="474.44" y="371.87" width="11.48" height="11.48" fill="#e1edf8"/><rect x="485.67" y="371.87" width="11.48" height="11.48" fill="#e1edf8"/><rect x="496.90" y="371.87" width="11.48" height="11.48" fill="#f7fbff"/><rect x="508.13" y="371.87" width="11.48" height="11.48" fill="#e1edf8"/><rect x="519.36" y="371.87" width="11.48" height="11.48" fill="#e1edf8"/><rect x="530.59" y="371.87" width="11.48" height="11.48" fill="#81badb"/><rect x="541.82" y="371.87" width="11.48" height="11.48" fill="#81badb"/><rect x="553.05" y="371.87" width="11.48" height="11.48" fill="#9ac8e0"/><rect x="564.28" y="371.87" width="11.48" height="11.48" fill="#9ac8e0"/><rect x="575.51" y="371.87" width="11.48" height="11.48" fill="#9ac8e0"/><rect x="586.74" y="371.87" width="11.48" height="11.48" fill="#9ac8e0"/><rect x="597.97" y="371.87" width="11.48" height="11.48" fill="#9ac8e0"/><rect x="609.20" y="371.87" width="11.48" height="11.48" fill="#cfe1f2"/><rect x="620.43" y="371.87" width="11.48" height="11.48" fill="#c1d9ed"/><rect x="631.66" y="371.87" width="11.48" height="11.48" fill="#c1d9ed"/><rect x="642.89" y="371.87" width="11.48" height="11.48" fill="#c1d9ed"/><rect x="654.12" y="371.87" width="11.48" height="11.48" fill="#c1d9ed"/><rect x="665.35" y="371.87" width="11.48" height="11.48" fill="#c1d9ed"/><rect x="676.58" y="371.87" width="11.48" height="11.48" fill="#9ac8e0"/><rect x="687.81" y="371.87" width="11.48" height="11.48" fill="#9ac8e0"/><rect x="699.04" y="371.87" width="11.48" height="11.48" fill="#9ac8e0"/><rect x="710.27" y="371.87" width="9.98" height="11.48" fill="#9ac8e0"/><rect x="160.00" y="383.10" width="11.48" height="11.48" fill="#083d7f"/><rect x="171.23" y="383.10" width="11.48" height="11.48" fill="#083d7f"/><rect x="182.46" y="383.10" width="11.48" height="11.48" fill="#1c6bb0"/><rect x="193.69" y="383.10" width="11.48" height="11.48" fill="#0e59a2"/><rect x="204.92" y="383.10" width="11.48" height="11.48" fill="#2e7ebc"/><rect x="216.15" y="383.10" width="11.48" height="11.48" fill="#2e7ebc"/><rect x="227.38" y="383.10" width="11.48" height="11.48" fill="#4090c5"/><rect x="238.61" y="383.10" width="11.48" height="11.48" fill="#74b3d8"/><rect x="249.84" y="383.10" width="11.48" height="11.48" fill="#81badb"/><rect x="261.07" y="383.10" width="11.48" height="11.48" fill="#81badb"/><rect x="272.30" y="383.10" width="11.48" height="11.48" fill="#549fcd"/><rect x="283.53" y="383.10" width="11.48" height="11.48" fill="#549fcd"/><rect x="294.76" y="383.10" width="11.48" height="11.48" fill="#69add5"/><rect x="305.99" y="383.10" width="11.48" height="11.48" fill="#4a98c9"/><rect x="317.22" y="383.10" width="11.48" height="11.48" fill="#81badb"/><rect x="328.45" y="383.10" width="11.48" height="11.48" fill="#3787c0"/><rect x="339.68" y="383.10" width="11.48" height="11.48" fill="#69add5"/><rect x="350.91" y="383.10" width="11.48" height="11.48" fill="#69add5"/><rect x="362.14" y="383.10" width="11.48" height="11.48" fill="#4695c8"/><rect x="373.37" y="383.10" width="11.48" height="11.48" fill="#87bddc"/><rect x="384.60" y="383.10" width="11.48" height="11.48" fill="#add0e6"/><rect x="395.83" y="383.10" width="11.48" height="11.48" fill="#a4cce3"/><rect x="407.06" y="383.10" width="11.48" height="11.48" fill="#a4cce3"/><rect x="418.29" y="383.10" width="11.48" height="11.48" fill="#cfe1f2"/><rect x="429.52" y="383.10" width="11.48" height="11.48" fill="#d8e7f5"/><rect x="440.75" y="383.10" width="11.48" height="11.48" fill="#e1edf8"/><rect x="451.98" y="383.10" width="11.48" height="11.48" fill="#cfe1f2"/><rect x="463.21" y="383.10" width="11.48" height="11.48" fill="#cfe1f2"/><rect x="474.44" y="383.10" width="11.48" height="11.48" fill="#e1edf8"/><rect x="485.67" y="383.10" width="11.48" height="11.48" fill="#f7fbff"/><rect x="496.90" y="383.10" width="11.48" height="11.48" fill="#e1edf8"/><rect x="508.13" y="383.10" width="11.48" height="11.48" fill="#cfe1f2"/><rect x="519.36" y="383.10" width="11.48" height="11.48" fill="#d8e7f5"/><rect x="530.59" y="383.10" width="11.48" height="11.48" fill="#9fcae1"/><rect x="541.82" y="383.10" width="11.48" height="11.48" fill="#92c4de"/><rect x="553.05" y="383.10" width="11.48" height="11.48" fill="#a8cee4"/><rect x="564.28" y="383.10" width="11.48" height="11.48" fill="#b0d2e7"/><rect x="575.51" y="383.10" width="11.48" height="11.48" fill="#9fcae1"/><rect x="586.74" y="383.10" width="11.48" height="11.48" fill="#9fcae1"/><rect x="597.97" y="383.10" width="11.48" height="11.48" fill="#92c4de"/><rect x="609.20" y="383.10" width="11.48" height="11.48" fill="#cfe1f2"/><rect x="620.43" y="383.10" width="11.48" height="11.48" fill="#c1d9ed"/><rect x="631.66" y="383.10" width="11.48" height="11.48" fill="#c1d9ed"/><rect x="642.89" y="383.10" width="11.48" height="11.48" fill="#c1d9ed"/><rect x="654.12" y="383.10" width="11.48" height="11.48" fill="#c1d9ed"/><rect x="665.35" y="383.10" width="11.48" height="11.48" fill="#c1d9ed"/><rect x="676.58" y="383.10" width="11.48" height="11.48" fill="#8dc1dd"/><rect x="687.81" y="383.10" width="11.48" height="11.48" fill="#8dc1dd"/><rect x="699.04" y="383.10" width="11.48" height="11.48" fill="#9ac8e0"/><rect x="710.27" y="383.10" width="9.98" height="11.48" fill="#9ac8e0"/><rect x="160.00" y="394.33" width="11.48" height="11.48" fill="#083471"/><rect x="171.23" y="394.33" width="11.48" height="11.48" fill="#083471"/><rect x="182.46" y="394.33" width="11.48" height="11.48" fill="#1562a9"/><rect x="193.69" y="394.33" width="11.48" height="11.48" fill="#0e59a2"/><rect x="204.92" y="394.33" width="11.48" height="11.48" fill="#2e7ebc"/><rect x="216.15" y="394.33" width="11.48" height="11.48" fill="#1c6bb0"/><rect x="227.38" y="394.33" width="11.48" height="11.48" fill="#4090c5"/><rect x="238.61" y="394.33" width="11.48" height="11.48" fill="#69add5"/><rect x="249.84" y="394.33" width="11.48" height="11.48" fill="#81badb"/><rect x="261.07" y="394.33" width="11.48" height="11.48" fill="#81badb"/><rect x="272.30" y="394.33" width="11.48" height="11.48" fill="#4a98c9"/><rect x="283.53" y="394.33" width="11.48" height="11.48" fill="#4a98c9"/><rect x="294.76" y="394.33" width="11.48" height="11.48" fill="#549fcd"/><rect x="305.99" y="394.33" width="11.48" height="11.48" fill="#3787c0"/><rect x="317.22" y="394.33" width="11.48" height="11.48" fill="#69add5"/><rect x="328.45" y="394.33" width="11.48" height="11.48" fill="#2e7ebc"/><rect x="339.68" y="394.33" width="11.48" height="11.48" fill="#549fcd"/><rect x="350.91" y="394.33" width="11.48" height="11.48" fill="#549fcd"/><rect x="362.14" y="394.33" width="11.48" height="11.48" fill="#4695c8"/><rect x="373.37" y="394.33" width="11.48" height="11.48" fill="#7cb7da"/><rect x="384.60" y="394.33" width="11.48" height="11.48" fill="#a4cce3"/><rect x="395.83" y="394.33" width="11.48" height="11.48" fill="#9ac8e0"/><rect x="407.06" y="394.33" width="11.48" height="11.48" fill="#9ac8e0"/><rect x="418.29" y="394.33" width="11.48" height="11.48" fill="#cfe1f2"/><rect x="429.52" y="394.33" width="11.48" height="11.48" fill="#cfe1f2"/><rect x="440.75" y="394.33" width="11.48" height="11.48" fill="#cfe1f2"/><rect x="451.98" y="394.33" width="11.48" height="11.48" fill="#cfe1f2"/><rect x="463.21" y="394.33" width="11.48" height="11.48" fill="#cfe1f2"/><rect x="474.44" y="394.33" width="11.48" height="11.48" fill="#f7fbff"/><rect x="485.67" y="394.33" width="11.48" height="11.48" fill="#e1edf8"/><rect x="496.90" y="394.33" width="11.48" height="11.48" fill="#e1edf8"/><rect x="508.13" y="394.33" width="11.48" height="11.48" fill="#d8e7f5"/><rect x="519.36" y="394.33" width="11.48" height="11.48" fill="#d8e7f5"/><rect x="530.59" y="394.33" width="11.48" height="11.48" fill="#85bcdc"/><rect x="541.82" y="394.33" width="11.48" height="11.48" fill="#85bcdc"/><rect x="553.05" y="394.33" width="11.48" height="11.48" fill="#9fcae1"/><rect x="564.28" y="394.33" width="11.48" height="11.48" fill="#a8cee4"/><rect x="575.51" y="394.33" width="11.48" height="11.48" fill="#85bcdc"/><rect x="586.74" y="394.33" width="11.48" height="11.48" fill="#85bcdc"/><rect x="597.97" y="394.33" width="11.48" height="11.48" fill="#9fcae1"/><rect x="609.20" y="394.33" width="11.48" height="11.48" fill="#c9ddf0"/><rect x="620.43" y="394.33" width="11.48" height="11.48" fill="#c1d9ed"/><rect x="631.66" y="394.33" width="11.48" height="11.48" fill="#c1d9ed"/><rect x="642.89" y="394.33" width="11.48" height="11.48" fill="#c1d9ed"/><rect x="654.12" y="394.33" width="11.48" height="11.48" fill="#c1d9ed"/><rect x="665.35" y="394.33" width="11.48" height="11.48" fill="#c1d9ed"/><rect x="676.58" y="394.33" width="11.48" height="11.48" fill="#9ac8e0"/><rect x="687.81" y="394.33" width="11.48" height="11.48" fill="#9ac8e0"/><rect x="699.04" y="394.33" width="11.48" height="11.48" fill="#9ac8e0"/><rect x="710.27" y="394.33" width="9.98" height="11.48" fill="#9ac8e0"/><rect x="160.00" y="405.56" width="11.48" height="11.48" fill="#083d7f"/><rect x="171.23" y="405.56" width="11.48" height="11.48" fill="#083d7f"/><rect x="182.46" y="405.56" width="11.48" height="11.48" fill="#1c6bb0"/><rect x="193.69" y="405.56" width="11.48" height="11.48" fill="#0e59a2"/><rect x="204.92" y="405.56" width="11.48" height="11.48" fill="#2474b7"/><rect x="216.15" y="405.56" width="11.48" height="11.48" fill="#1c6bb0"/><rect x="227.38" y="405.56" width="11.48" height="11.48" fill="#4090c5"/><rect x="238.61" y="405.56" width="11.48" height="11.48" fill="#8dc1dd"/><rect x="249.84" y="405.56" width="11.48" height="11.48" fill="#9ac8e0"/><rect x="261.07" y="405.56" width="11.48" height="11.48" fill="#9ac8e0"/><rect x="272.30" y="405.56" width="11.48" height="11.48" fill="#5fa6d1"/><rect x="283.53" y="405.56" width="11.48" height="11.48" fill="#5fa6d1"/><rect x="294.76" y="405.56" width="11.48" height="11.48" fill="#69add5"/><rect x="305.99" y="405.56" width="11.48" height="11.48" fill="#4a98c9"/><rect x="317.22" y="405.56" width="11.48" height="11.48" fill="#8dc1dd"/><rect x="328.45" y="405.56" width="11.48" height="11.48" fill="#3787c0"/><rect x="339.68" y="405.56" width="11.48" height="11.48" fill="#69add5"/><rect x="350.91" y="405.56" width="11.48" height="11.48" fill="#5fa6d1"/><rect x="362.14" y="405.56" width="11.48" height="11.48" fill="#3383be"/><rect x="373.37" y="405.56" width="11.48" height="11.48" fill="#65aad4"/><rect x="384.60" y="405.56" width="11.48" height="11.48" fill="#9ac8e0"/><rect x="395.83" y="405.56" width="11.48" height="11.48" fill="#81badb"/><rect x="407.06" y="405.56" width="11.48" height="11.48" fill="#81badb"/><rect x="418.29" y="405.56" width="11.48" height="11.48" fill="#cfe1f2"/><rect x="429.52" y="405.56" width="11.48" height="11.48" fill="#e1edf8"/><rect x="440.75" y="405.56" width="11.48" height="11.48" fill="#e1edf8"/><rect x="451.98" y="405.56" width="11.48" height="11.48" fill="#e1edf8"/><rect x="463.21" y="405.56" width="11.48" height="11.48" fill="#f7fbff"/><rect x="474.44" y="405.56" width="11.48" height="11.48" fill="#cfe1f2"/><rect x="485.67" y="405.56" width="11.48" height="11.48" fill="#cfe1f2"/><rect x="496.90" y="405.56" width="11.48" height="11.48" fill="#cfe1f2"/><rect x="508.13" y="405.56" width="11.48" height="11.48" fill="#e1edf8"/><rect x="519.36" y="405.56" width="11.48" height="11.48" fill="#d8e7f5"/><rect x="530.59" y="405.56" width="11.48" height="11.48" fill="#85bcdc"/><rect x="541.82" y="405.56" width="11.48" height="11.48" fill="#85bcdc"/><rect x="553.05" y="405.56" width="11.48" height="11.48" fill="#85bcdc"/><rect x="564.28" y="405.56" width="11.48" height="11.48" fill="#92c4de"/><rect x="575.51" y="405.56" width="11.48" height="11.48" fill="#85bcdc"/><rect x="586.74" y="405.56" width="11.48" height="11.48" fill="#85bcdc"/><rect x="597.97" y="405.56" width="11.48" height="11.48" fill="#85bcdc"/><rect x="609.20" y="405.56" width="11.48" height="11.48" fill="#c1d9ed"/><rect x="620.43" y="405.56" width="11.48" height="11.48" fill="#add0e6"/><rect x="631.66" y="405.56" width="11.48" height="11.48" fill="#add0e6"/><rect x="642.89" y="405.56" width="11.48" height="11.48" fill="#a4cce3"/><rect x="654.12" y="405.56" width="11.48" height="11.48" fill="#add0e6"/><rect x="665.35" y="405.56" width="11.48" height="11.48" fill="#add0e6"/><rect x="676.58" y="405.56" width="11.48" height="11.48" fill="#8dc1dd"/><rect x="687.81" y="405.56" width="11.48" height="11.48" fill="#8dc1dd"/><rect x="699.04" y="405.56" width="11.48" height="11.48" fill="#8dc1dd"/><rect x="710.27" y="405.56" width="9.98" height="11.48" fill="#81badb"/><rect x="160.00" y="416.79" width="11.48" height="11.48" fill="#08478d"/><rect x="171.23" y="416.79" width="11.48" height="11.48" fill="#08478d"/><rect x="182.46" y="416.79" width="11.48" height="11.48" fill="#2474b7"/><rect x="193.69" y="416.79" width="11.48" height="11.48" fill="#0e59a2"/><rect x="204.92" y="416.79" width="11.48" height="11.48" fill="#2e7ebc"/><rect x="216.15" y="416.79" width="11.48" height="11.48" fill="#2e7ebc"/><rect x="227.38" y="416.79" width="11.48" height="11.48" fill="#549fcd"/><rect x="238.61" y="416.79" width="11.48" height="11.48" fill="#9ac8e0"/><rect x="249.84" y="416.79" width="11.48" height="11.48" fill="#9ac8e0"/><rect x="261.07" y="416.79" width="11.48" height="11.48" fill="#9ac8e0"/><rect x="272.30" y="416.79" width="11.48" height="11.48" fill="#69add5"/><rect x="283.53" y="416.79" width="11.48" height="11.48" fill="#5fa6d1"/><rect x="294.76" y="416.79" width="11.48" height="11.48" fill="#74b3d8"/><rect x="305.99" y="416.79" width="11.48" height="11.48" fill="#5fa6d1"/><rect x="317.22" y="416.79" width="11.48" height="11.48" fill="#9ac8e0"/><rect x="328.45" y="416.79" width="11.48" height="11.48" fill="#3787c0"/><rect x="339.68" y="416.79" width="11.48" height="11.48" fill="#74b3d8"/><rect x="350.91" y="416.79" width="11.48" height="11.48" fill="#69add5"/><rect x="362.14" y="416.79" width="11.48" height="11.48" fill="#4695c8"/><rect x="373.37" y="416.79" width="11.48" height="11.48" fill="#65aad4"/><rect x="384.60" y="416.79" width="11.48" height="11.48" fill="#a4cce3"/><rect x="395.83" y="416.79" width="11.48" height="11.48" fill="#9ac8e0"/><rect x="407.06" y="416.79" width="11.48" height="11.48" fill="#9ac8e0"/><rect x="418.29" y="416.79" width="11.48" height="11.48" fill="#cfe1f2"/><rect x="429.52" y="416.79" width="11.48" height="11.48" fill="#e1edf8"/><rect x="440.75" y="416.79" width="11.48" height="11.48" fill="#cfe1f2"/><rect x="451.98" y="416.79" width="11.48" height="11.48" fill="#f7fbff"/><rect x="463.21" y="416.79" width="11.48" height="11.48" fill="#e1edf8"/><rect x="474.44" y="416.79" width="11.48" height="11.48" fill="#cfe1f2"/><rect x="485.67" y="416.79" width="11.48" height="11.48" fill="#cfe1f2"/><rect x="496.90" y="416.79" width="11.48" height="11.48" fill="#cfe1f2"/><rect x="508.13" y="416.79" width="11.48" height="11.48" fill="#d8e7f5"/><rect x="519.36" y="416.79" width="11.48" height="11.48" fill="#e1edf8"/><rect x="530.59" y="416.79" width="11.48" height="11.48" fill="#9fcae1"/><rect x="541.82" y="416.79" width="11.48" height="11.48" fill="#9fcae1"/><rect x="553.05" y="416.79" width="11.48" height="11.48" fill="#9fcae1"/><rect x="564.28" y="416.79" width="11.48" height="11.48" fill="#a8cee4"/><rect x="575.51" y="416.79" width="11.48" height="11.48" fill="#9fcae1"/><rect x="586.74" y="416.79" width="11.48" height="11.48" fill="#9fcae1"/><rect x="597.97" y="416.79" width="11.48" height="11.48" fill="#a8cee4"/><rect x="609.20" y="416.79" width="11.48" height="11.48" fill="#cfe1f2"/><rect x="620.43" y="416.79" width="11.48" height="11.48" fill="#c1d9ed"/><rect x="631.66" y="416.79" width="11.48" height="11.48" fill="#c1d9ed"/><rect x="642.89" y="416.79" width="11.48" height="11.48" fill="#add0e6"/><rect x="654.12" y="416.79" width="11.48" height="11.48" fill="#c1d9ed"/><rect x="665.35" y="416.79" width="11.48" height="11.48" fill="#c1d9ed"/><rect x="676.58" y="416.79" width="11.48" height="11.48" fill="#9ac8e0"/><rect x="687.81" y="416.79" width="11.48" height="11.48" fill="#9ac8e0"/><rect x="699.04" y="416.79" width="11.48" height="11.48" fill="#9ac8e0"/><rect x="710.27" y="416.79" width="9.98" height="11.48" fill="#8dc1dd"/><rect x="160.00" y="428.02" width="11.48" height="11.48" fill="#08478d"/><rect x="171.23" y="428.02" width="11.48" height="11.48" fill="#08478d"/><rect x="182.46" y="428.02" width="11.48" height="11.48" fill="#2474b7"/><rect x="193.69" y="428.02" width="11.48" height="11.48" fill="#0e59a2"/><rect x="204.92" y="428.02" width="11.48" height="11.48" fill="#2e7ebc"/><rect x="216.15" y="428.02" width="11.48" height="11.48" fill="#2e7ebc"/><rect x="227.38" y="428.02" width="11.48" height="11.48" fill="#4090c5"/><rect x="238.61" y="428.02" width="11.48" height="11.48" fill="#81badb"/><rect x="249.84" y="428.02" width="11.48" height="11.48" fill="#81badb"/><rect x="261.07" y="428.02" width="11.48" height="11.48" fill="#81badb"/><rect x="272.30" y="428.02" width="11.48" height="11.48" fill="#5fa6d1"/><rect x="283.53" y="428.02" width="11.48" height="11.48" fill="#5fa6d1"/><rect x="294.76" y="428.02" width="11.48" height="11.48" fill="#69add5"/><rect x="305.99" y="428.02" width="11.48" height="11.48" fill="#4a98c9"/><rect x="317.22" y="428.02" width="11.48" height="11.48" fill="#81badb"/><rect x="328.45" y="428.02" width="11.48" height="11.48" fill="#3787c0"/><rect x="339.68" y="428.02" width="11.48" height="11.48" fill="#74b3d8"/><rect x="350.91" y="428.02" width="11.48" height="11.48" fill="#69add5"/><rect x="362.14" y="428.02" width="11.48" height="11.48" fill="#3383be"/><rect x="373.37" y="428.02" width="11.48" height="11.48" fill="#7cb7da"/><rect x="384.60" y="428.02" width="11.48" height="11.48" fill="#a4cce3"/><rect x="395.83" y="428.02" width="11.48" height="11.48" fill="#9ac8e0"/><rect x="407.06" y="428.02" width="11.48" height="11.48" fill="#9ac8e0"/><rect x="418.29" y="428.02" width="11.48" height="11.48" fill="#cfe1f2"/><rect x="429.52" y="428.02" width="11.48" height="11.48" fill="#e1edf8"/><rect x="440.75" y="428.02" width="11.48" height="11.48" fill="#f7fbff"/><rect x="451.98" y="428.02" width="11.48" height="11.48" fill="#cfe1f2"/><rect x="463.21" y="428.02" width="11.48" height="11.48" fill="#e1edf8"/><rect x="474.44" y="428.02" width="11.48" height="11.48" fill="#cfe1f2"/><rect x="485.67" y="428.02" width="11.48" height="11.48" fill="#e1edf8"/><rect x="496.90" y="428.02" width="11.48" height="11.48" fill="#e1edf8"/><rect x="508.13" y="428.02" width="11.48" height="11.48" fill="#e1edf8"/><rect x="519.36" y="428.02" width="11.48" height="11.48" fill="#cfe1f2"/><rect x="530.59" y="428.02" width="11.48" height="11.48" fill="#85bcdc"/><rect x="541.82" y="428.02" width="11.48" height="11.48" fill="#85bcdc"/><rect x="553.05" y="428.02" width="11.48" height="11.48" fill="#9fcae1"/><rect x="564.28" y="428.02" width="11.48" height="11.48" fill="#a8cee4"/><rect x="575.51" y="428.02" width="11.48" height="11.48" fill="#92c4de"/><rect x="586.74" y="428.02" width="11.48" height="11.48" fill="#92c4de"/><rect x="597.97" y="428.02" width="11.48" height="11.48" fill="#85bcdc"/><rect x="609.20" y="428.02" width="11.48" height="11.48" fill="#c1d9ed"/><rect x="620.43" y="428.02" width="11.48" height="11.48" fill="#add0e6"/><rect x="631.66" y="428.02" width="11.48" height="11.48" fill="#add0e6"/><rect x="642.89" y="428.02" width="11.48" height="11.48" fill="#a4cce3"/><rect x="654.12" y="428.02" width="11.48" height="11.48" fill="#add0e6"/><rect x="665.35" y="428.02" width="11.48" height="11.48" fill="#add0e6"/><rect x="676.58" y="428.02" width="11.48" height="11.48" fill="#8dc1dd"/><rect x="687.81" y="428.02" width="11.48" height="11.48" fill="#8dc1dd"/><rect x="699.04" y="428.02" width="11.48" height="11.48" fill="#8dc1dd"/><rect x="710.27" y="428.02" width="9.98" height="11.48" fill="#81badb"/><rect x="160.00" y="439.25" width="11.48" height="11.48" fill="#08509b"/><rect x="171.23" y="439.25" width="11.48" height="11.48" fill="#08478d"/><rect x="182.46" y="439.25" width="11.48" height="11.48" fill="#2e7ebc"/><rect x="193.69" y="439.25" width="11.48" height="11.48" fill="#1c6bb0"/><rect x="204.92" y="439.25" width="11.48" height="11.48" fill="#2e7ebc"/><rect x="216.15" y="439.25" width="11.48" height="11.48" fill="#2e7ebc"/><rect x="227.38" y="439.25" width="11.48" height="11.48" fill="#549fcd"/><rect x="238.61" y="439.25" width="11.48" height="11.48" fill="#9ac8e0"/><rect x="249.84" y="439.25" width="11.48" height="11.48" fill="#9ac8e0"/><rect x="261.07" y="439.25" width="11.48" height="11.48" fill="#9ac8e0"/><rect x="272.30" y="439.25" width="11.48" height="11.48" fill="#69add5"/><rect x="283.53" y="439.25" width="11.48" height="11.48" fill="#69add5"/><rect x="294.76" y="439.25" width="11.48" height="11.48" fill="#81badb"/><rect x="305.99" y="439.25" width="11.48" height="11.48" fill="#5fa6d1"/><rect x="317.22" y="439.25" width="11.48" height="11.48" fill="#9ac8e0"/><rect x="328.45" y="439.25" width="11.48" height="11.48" fill="#3787c0"/><rect x="339.68" y="439.25" width="11.48" height="11.48" fill="#81badb"/><rect x="350.91" y="439.25" width="11.48" height="11.48" fill="#69add5"/><rect x="362.14" y="439.25" width="11.48" height="11.48" fill="#4695c8"/><rect x="373.37" y="439.25" width="11.48" height="11.48" fill="#71b1d7"/><rect x="384.60" y="439.25" width="11.48" height="11.48" fill="#a4cce3"/><rect x="395.83" y="439.25" width="11.48" height="11.48" fill="#9ac8e0"/><rect x="407.06" y="439.25" width="11.48" height="11.48" fill="#9ac8e0"/><rect x="418.29" y="439.25" width="11.48" height="11.48" fill="#cfe1f2"/><rect x="429.52" y="439.25" width="11.48" height="11.48" fill="#f7fbff"/><rect x="440.75" y="439.25" width="11.48" height="11.48" fill="#e1edf8"/><rect x="451.98" y="439.25" width="11.48" height="11.48" fill="#e1edf8"/><rect x="463.21" y="439.25" width="11.48" height="11.48" fill="#e1edf8"/><rect x="474.44" y="439.25" width="11.48" height="11.48" fill="#cfe1f2"/><rect x="485.67" y="439.25" width="11.48" height="11.48" fill="#d8e7f5"/><rect x="496.90" y="439.25" width="11.48" height="11.48" fill="#e1edf8"/><rect x="508.13" y="439.25" width="11.48" height="11.48" fill="#e1edf8"/><rect x="519.36" y="439.25" width="11.48" height="11.48" fill="#cfe1f2"/><rect x="530.59" y="439.25" width="11.48" height="11.48" fill="#85bcdc"/><rect x="541.82" y="439.25" width="11.48" height="11.48" fill="#85bcdc"/><rect x="553.05" y="439.25" width="11.48" height="11.48" fill="#9fcae1"/><rect x="564.28" y="439.25" width="11.48" height="11.48" fill="#9fcae1"/><rect x="575.51" y="439.25" width="11.48" height="11.48" fill="#9fcae1"/><rect x="586.74" y="439.25" width="11.48" height="11.48" fill="#9fcae1"/><rect x="597.97" y="439.25" width="11.48" height="11.48" fill="#92c4de"/><rect x="609.20" y="439.25" width="11.48" height="11.48" fill="#c9ddf0"/><rect x="620.43" y="439.25" width="11.48" height="11.48" fill="#b7d4ea"/><rect x="631.66" y="439.25" width="11.48" height="11.48" fill="#b7d4ea"/><rect x="642.89" y="439.25" width="11.48" height="11.48" fill="#a4cce3"/><rect x="654.12" y="439.25" width="11.48" height="11.48" fill="#b7d4ea"/><rect x="665.35" y="439.25" width="11.48" height="11.48" fill="#b7d4ea"/><rect x="676.58" y="439.25" width="11.48" height="11.48" fill="#81badb"/><rect x="687.81" y="439.25" width="11.48" height="11.48" fill="#81badb"/><rect x="699.04" y="439.25" width="11.48" height="11.48" fill="#81badb"/><rect x="710.27" y="439.25" width="9.98" height="11.48" fill="#81badb"/><rect x="160.00" y="450.48" width="11.48" height="11.48" fill="#0e59a2"/><rect x="171.23" y="450.48" width="11.48" height="11.48" fill="#0e59a2"/><rect x="182.46" y="450.48" width="11.48" height="11.48" fill="#2e7ebc"/><rect x="193.69" y="450.48" width="11.48" height="11.48" fill="#1c6bb0"/><rect x="204.92" y="450.48" width="11.48" height="11.48" fill="#4a98c9"/><rect x="216.15" y="450.48" width="11.48" height="11.48" fill="#3787c0"/><rect x="227.38" y="450.48" width="11.48" height="11.48" fill="#69add5"/><rect x="238.61" y="450.48" width="11.48" height="11.48" fill="#8dc1dd"/><rect x="249.84" y="450.48" width="11.48" height="11.48" fill="#add0e6"/><rect x="261.07" y="450.48" width="11.48" height="11.48" fill="#add0e6"/><rect x="272.30" y="450.48" width="11.48" height="11.48" fill="#69add5"/><rect x="283.53" y="450.48" width="11.48" height="11.48" fill="#69add5"/><rect x="294.76" y="450.48" width="11.48" height="11.48" fill="#74b3d8"/><rect x="305.99" y="450.48" width="11.48" height="11.48" fill="#549fcd"/><rect x="317.22" y="450.48" width="11.48" height="11.48" fill="#81badb"/><rect x="328.45" y="450.48" width="11.48" height="11.48" fill="#4090c5"/><rect x="339.68" y="450.48" width="11.48" height="11.48" fill="#81badb"/><rect x="350.91" y="450.48" width="11.48" height="11.48" fill="#69add5"/><rect x="362.14" y="450.48" width="11.48" height="11.48" fill="#5ba3d0"/><rect x="373.37" y="450.48" width="11.48" height="11.48" fill="#87bddc"/><rect x="384.60" y="450.48" width="11.48" height="11.48" fill="#add0e6"/><rect x="395.83" y="450.48" width="11.48" height="11.48" fill="#b7d4ea"/><rect x="407.06" y="450.48" width="11.48" height="11.48" fill="#b7d4ea"/><rect x="418.29" y="450.48" width="11.48" height="11.48" fill="#f7fbff"/><rect x="429.52" y="450.48" width="11.48" height="11.48" fill="#cfe1f2"/><rect x="440.75" y="450.48" width="11.48" height="11.48" fill="#cfe1f2"/><rect x="451.98" y="450.48" width="11.48" height="11.48" fill="#cfe1f2"/><rect x="463.21" y="450.48" width="11.48" height="11.48" fill="#cfe1f2"/><rect x="474.44" y="450.48" width="11.48" height="11.48" fill="#cfe1f2"/><rect x="485.67" y="450.48" width="11.48" height="11.48" fill="#cfe1f2"/><rect x="496.90" y="450.48" width="11.48" height="11.48" fill="#d8e7f5"/><rect x="508.13" y="450.48" width="11.48" height="11.48" fill="#cfe1f2"/><rect x="519.36" y="450.48" width="11.48" height="11.48" fill="#cfe1f2"/><rect x="530.59" y="450.48" width="11.48" height="11.48" fill="#a8cee4"/><rect x="541.82" y="450.48" width="11.48" height="11.48" fill="#9fcae1"/><rect x="553.05" y="450.48" width="11.48" height="11.48" fill="#b0d2e7"/><rect x="564.28" y="450.48" width="11.48" height="11.48" fill="#add0e6"/><rect x="575.51" y="450.48" width="11.48" height="11.48" fill="#a8cee4"/><rect x="586.74" y="450.48" width="11.48" height="11.48" fill="#a8cee4"/><rect x="597.97" y="450.48" width="11.48" height="11.48" fill="#a8cee4"/><rect x="609.20" y="450.48" width="11.48" height="11.48" fill="#cfe1f2"/><rect x="620.43" y="450.48" width="11.48" height="11.48" fill="#cfe1f2"/><rect x="631.66" y="450.48" width="11.48" height="11.48" fill="#cfe1f2"/><rect x="642.89" y="450.48" width="11.48" height="11.48" fill="#c1d9ed"/><rect x="654.12" y="450.48" width="11.48" height="11.48" fill="#cfe1f2"/><rect x="665.35" y="450.48" width="11.48" height="11.48" fill="#cfe1f2"/><rect x="676.58" y="450.48" width="11.48" height="11.48" fill="#add0e6"/><rect x="687.81" y="450.48" width="11.48" height="11.48" fill="#add0e6"/><rect x="699.04" y="450.48" width="11.48" height="11.48" fill="#9ac8e0"/><rect x="710.27" y="450.48" width="9.98" height="11.48" fill="#9ac8e0"/><rect x="160.00" y="461.71" width="11.48" height="11.48" fill="#2e7ebc"/><rect x="171.23" y="461.71" width="11.48" height="11.48" fill="#1c6bb0"/><rect x="182.46" y="461.71" width="11.48" height="11.48" fill="#549fcd"/><rect x="193.69" y="461.71" width="11.48" height="11.48" fill="#4090c5"/><rect x="204.92" y="461.71" width="11.48" height="11.48" fill="#9ac8e0"/><rect x="216.15" y="461.71" width="11.48" height="11.48" fill="#81badb"/><rect x="227.38" y="461.71" width="11.48" height="11.48" fill="#a4cce3"/><rect x="238.61" y="461.71" width="11.48" height="11.48" fill="#81badb"/><rect x="249.84" y="461.71" width="11.48" height="11.48" fill="#add0e6"/><rect x="261.07" y="461.71" width="11.48" height="11.48" fill="#b7d4ea"/><rect x="272.30" y="461.71" width="11.48" height="11.48" fill="#549fcd"/><rect x="283.53" y="461.71" width="11.48" height="11.48" fill="#549fcd"/><rect x="294.76" y="461.71" width="11.48" height="11.48" fill="#8dc1dd"/><rect x="305.99" y="461.71" width="11.48" height="11.48" fill="#74b3d8"/><rect x="317.22" y="461.71" width="11.48" height="11.48" fill="#9ac8e0"/><rect x="328.45" y="461.71" width="11.48" height="11.48" fill="#69add5"/><rect x="339.68" y="461.71" width="11.48" height="11.48" fill="#81badb"/><rect x="350.91" y="461.71" width="11.48" height="11.48" fill="#81badb"/><rect x="362.14" y="461.71" width="11.48" height="11.48" fill="#71b1d7"/><rect x="373.37" y="461.71" width="11.48" height="11.48" fill="#b3d3e8"/><rect x="384.60" y="461.71" width="11.48" height="11.48" fill="#cfe1f2"/><rect x="395.83" y="461.71" width="11.48" height="11.48" fill="#e1edf8"/><rect x="407.06" y="461.71" width="11.48" height="11.48" fill="#f7fbff"/><rect x="418.29" y="461.71" width="11.48" height="11.48" fill="#b7d4ea"/><rect x="429.52" y="461.71" width="11.48" height="11.48" fill="#9ac8e0"/><rect x="440.75" y="461.71" width="11.48" height="11.48" fill="#9ac8e0"/><rect x="451.98" y="461.71" width="11.48" height="11.48" fill="#9ac8e0"/><rect x="463.21" y="461.71" width="11.48" height="11.48" fill="#81badb"/><rect x="474.44" y="461.71" width="11.48" height="11.48" fill="#9ac8e0"/><rect x="485.67" y="461.71" width="11.48" height="11.48" fill="#a4cce3"/><rect x="496.90" y="461.71" width="11.48" height="11.48" fill="#a8cee4"/><rect x="508.13" y="461.71" width="11.48" height="11.48" fill="#9fcae1"/><rect x="519.36" y="461.71" width="11.48" height="11.48" fill="#a8cee4"/><rect x="530.59" y="461.71" width="11.48" height="11.48" fill="#b7d4ea"/><rect x="541.82" y="461.71" width="11.48" height="11.48" fill="#b7d4ea"/><rect x="553.05" y="461.71" width="11.48" height="11.48" fill="#cfe1f2"/><rect x="564.28" y="461.71" width="11.48" height="11.48" fill="#cfe1f2"/><rect x="575.51" y="461.71" width="11.48" height="11.48" fill="#cfe1f2"/><rect x="586.74" y="461.71" width="11.48" height="11.48" fill="#cfe1f2"/><rect x="597.97" y="461.71" width="11.48" height="11.48" fill="#9fcae1"/><rect x="609.20" y="461.71" width="11.48" height="11.48" fill="#c9ddf0"/><rect x="620.43" y="461.71" width="11.48" height="11.48" fill="#c1d9ed"/><rect x="631.66" y="461.71" width="11.48" height="11.48" fill="#c1d9ed"/><rect x="642.89" y="461.71" width="11.48" height="11.48" fill="#c1d9ed"/><rect x="654.12" y="461.71" width="11.48" height="11.48" fill="#c1d9ed"/><rect x="665.35" y="461.71" width="11.48" height="11.48" fill="#c1d9ed"/><rect x="676.58" y="461.71" width="11.48" height="11.48" fill="#c1d9ed"/><rect x="687.81" y="461.71" width="11.48" height="11.48" fill="#c1d9ed"/><rect x="699.04" y="461.71" width="11.48" height="11.48" fill="#c1d9ed"/><rect x="710.27" y="461.71" width="9.98" height="11.48" fill="#c1d9ed"/><rect x="160.00" y="472.94" width="11.48" height="11.48" fill="#2e7ebc"/><rect x="171.23" y="472.94" width="11.48" height="11.48" fill="#1c6bb0"/><rect x="182.46" y="472.94" width="11.48" height="11.48" fill="#4a98c9"/><rect x="193.69" y="472.94" width="11.48" height="11.48" fill="#4090c5"/><rect x="204.92" y="472.94" width="11.48" height="11.48" fill="#9ac8e0"/><rect x="216.15" y="472.94" width="11.48" height="11.48" fill="#74b3d8"/><rect x="227.38" y="472.94" width="11.48" height="11.48" fill="#9ac8e0"/><rect x="238.61" y="472.94" width="11.48" height="11.48" fill="#81badb"/><rect x="249.84" y="472.94" width="11.48" height="11.48" fill="#add0e6"/><rect x="261.07" y="472.94" width="11.48" height="11.48" fill="#add0e6"/><rect x="272.30" y="472.94" width="11.48" height="11.48" fill="#549fcd"/><rect x="283.53" y="472.94" width="11.48" height="11.48" fill="#549fcd"/><rect x="294.76" y="472.94" width="11.48" height="11.48" fill="#81badb"/><rect x="305.99" y="472.94" width="11.48" height="11.48" fill="#69add5"/><rect x="317.22" y="472.94" width="11.48" height="11.48" fill="#81badb"/><rect x="328.45" y="472.94" width="11.48" height="11.48" fill="#69add5"/><rect x="339.68" y="472.94" width="11.48" height="11.48" fill="#81badb"/><rect x="350.91" y="472.94" width="11.48" height="11.48" fill="#81badb"/><rect x="362.14" y="472.94" width="11.48" height="11.48" fill="#65aad4"/><rect x="373.37" y="472.94" width="11.48" height="11.48" fill="#c7dbef"/><rect x="384.60" y="472.94" width="11.48" height="11.48" fill="#cfe1f2"/><rect x="395.83" y="472.94" width="11.48" height="11.48" fill="#f7fbff"/><rect x="407.06" y="472.94" width="11.48" height="11.48" fill="#e1edf8"/><rect x="418.29" y="472.94" width="11.48" height="11.48" fill="#b7d4ea"/><rect x="429.52" y="472.94" width="11.48" height="11.48" fill="#9ac8e0"/><rect x="440.75" y="472.94" width="11.48" height="11.48" fill="#9ac8e0"/><rect x="451.98" y="472.94" width="11.48" height="11.48" fill="#9ac8e0"/><rect x="463.21" y="472.94" width="11.48" height="11.48" fill="#81badb"/><rect x="474.44" y="472.94" width="11.48" height="11.48" fill="#9ac8e0"/><rect x="485.67" y="472.94" width="11.48" height="11.48" fill="#a4cce3"/><rect x="496.90" y="472.94" width="11.48" height="11.48" fill="#a8cee4"/><rect x="508.13" y="472.94" width="11.48" height="11.48" fill="#9fcae1"/><rect x="519.36" y="472.94" width="11.48" height="11.48" fill="#a8cee4"/><rect x="530.59" y="472.94" width="11.48" height="11.48" fill="#b7d4ea"/><rect x="541.82" y="472.94" width="11.48" height="11.48" fill="#add0e6"/><rect x="553.05" y="472.94" width="11.48" height="11.48" fill="#cfe1f2"/><rect x="564.28" y="472.94" width="11.48" height="11.48" fill="#cfe1f2"/><rect x="575.51" y="472.94" width="11.48" height="11.48" fill="#c9ddf0"/><rect x="586.74" y="472.94" width="11.48" height="11.48" fill="#c1d9ed"/><rect x="597.97" y="472.94" width="11.48" height="11.48" fill="#9fcae1"/><rect x="609.20" y="472.94" width="11.48" height="11.48" fill="#cfe1f2"/><rect x="620.43" y="472.94" width="11.48" height="11.48" fill="#c1d9ed"/><rect x="631.66" y="472.94" width="11.48" height="11.48" fill="#c1d9ed"/><rect x="642.89" y="472.94" width="11.48" height="11.48" fill="#c1d9ed"/><rect x="654.12" y="472.94" width="11.48" height="11.48" fill="#c1d9ed"/><rect x="665.35" y="472.94" width="11.48" height="11.48" fill="#c1d9ed"/><rect x="676.58" y="472.94" width="11.48" height="11.48" fill="#c1d9ed"/><rect x="687.81" y="472.94" width="11.48" height="11.48" fill="#c1d9ed"/><rect x="699.04" y="472.94" width="11.48" height="11.48" fill="#c1d9ed"/><rect x="710.27" y="472.94" width="9.98" height="11.48" fill="#c1d9ed"/><rect x="160.00" y="484.17" width="11.48" height="11.48" fill="#0e59a2"/><rect x="171.23" y="484.17" width="11.48" height="11.48" fill="#0e59a2"/><rect x="182.46" y="484.17" width="11.48" height="11.48" fill="#3787c0"/><rect x="193.69" y="484.17" width="11.48" height="11.48" fill="#2e7ebc"/><rect x="204.92" y="484.17" width="11.48" height="11.48" fill="#69add5"/><rect x="216.15" y="484.17" width="11.48" height="11.48" fill="#4a98c9"/><rect x="227.38" y="484.17" width="11.48" height="11.48" fill="#74b3d8"/><rect x="238.61" y="484.17" width="11.48" height="11.48" fill="#8dc1dd"/><rect x="249.84" y="484.17" width="11.48" height="11.48" fill="#add0e6"/><rect x="261.07" y="484.17" width="11.48" height="11.48" fill="#add0e6"/><rect x="272.30" y="484.17" width="11.48" height="11.48" fill="#4090c5"/><rect x="283.53" y="484.17" width="11.48" height="11.48" fill="#4090c5"/><rect x="294.76" y="484.17" width="11.48" height="11.48" fill="#81badb"/><rect x="305.99" y="484.17" width="11.48" height="11.48" fill="#69add5"/><rect x="317.22" y="484.17" width="11.48" height="11.48" fill="#8dc1dd"/><rect x="328.45" y="484.17" width="11.48" height="11.48" fill="#4a98c9"/><rect x="339.68" y="484.17" width="11.48" height="11.48" fill="#74b3d8"/><rect x="350.91" y="484.17" width="11.48" height="11.48" fill="#69add5"/><rect x="362.14" y="484.17" width="11.48" height="11.48" fill="#5ba3d0"/><rect x="373.37" y="484.17" width="11.48" height="11.48" fill="#b3d3e8"/><rect x="384.60" y="484.17" width="11.48" height="11.48" fill="#f7fbff"/><rect x="395.83" y="484.17" width="11.48" height="11.48" fill="#cfe1f2"/><rect x="407.06" y="484.17" width="11.48" height="11.48" fill="#cfe1f2"/><rect x="418.29" y="484.17" width="11.48" height="11.48" fill="#add0e6"/><rect x="429.52" y="484.17" width="11.48" height="11.48" fill="#a4cce3"/><rect x="440.75" y="484.17" width="11.48" height="11.48" fill="#a4cce3"/><rect x="451.98" y="484.17" width="11.48" height="11.48" fill="#a4cce3"/><rect x="463.21" y="484.17" width="11.48" height="11.48" fill="#9ac8e0"/><rect x="474.44" y="484.17" width="11.48" height="11.48" fill="#a4cce3"/><rect x="485.67" y="484.17" width="11.48" height="11.48" fill="#add0e6"/><rect x="496.90" y="484.17" width="11.48" height="11.48" fill="#b0d2e7"/><rect x="508.13" y="484.17" width="11.48" height="11.48" fill="#a8cee4"/><rect x="519.36" y="484.17" width="11.48" height="11.48" fill="#b7d4ea"/><rect x="530.59" y="484.17" width="11.48" height="11.48" fill="#b0d2e7"/><rect x="541.82" y="484.17" width="11.48" height="11.48" fill="#b7d4ea"/><rect x="553.05" y="484.17" width="11.48" height="11.48" fill="#b7d4ea"/><rect x="564.28" y="484.17" width="11.48" height="11.48" fill="#b7d4ea"/><rect x="575.51" y="484.17" width="11.48" height="11.48" fill="#a8cee4"/><rect x="586.74" y="484.17" width="11.48" height="11.48" fill="#a8cee4"/><rect x="597.97" y="484.17" width="11.48" height="11.48" fill="#85bcdc"/><rect x="609.20" y="484.17" width="11.48" height="11.48" fill="#cfe1f2"/><rect x="620.43" y="484.17" width="11.48" height="11.48" fill="#add0e6"/><rect x="631.66" y="484.17" width="11.48" height="11.48" fill="#add0e6"/><rect x="642.89" y="484.17" width="11.48" height="11.48" fill="#c1d9ed"/><rect x="654.12" y="484.17" width="11.48" height="11.48" fill="#c1d9ed"/><rect x="665.35" y="484.17" width="11.48" height="11.48" fill="#c1d9ed"/><rect x="676.58" y="484.17" width="11.48" height="11.48" fill="#c1d9ed"/><rect x="687.81" y="484.17" width="11.48" height="11.48" fill="#c1d9ed"/><rect x="699.04" y="484.17" width="11.48" height="11.48" fill="#b7d4ea"/><rect x="710.27" y="484.17" width="9.98" height="11.48" fill="#b7d4ea"/><rect x="160.00" y="495.40" width="11.48" height="11.48" fill="#08478d"/><rect x="171.23" y="495.40" width="11.48" height="11.48" fill="#083471"/><rect x="182.46" y="495.40" width="11.48" height="11.48" fill="#1c6bb0"/><rect x="193.69" y="495.40" width="11.48" height="11.48" fill="#1c6bb0"/><rect x="204.92" y="495.40" width="11.48" height="11.48" fill="#3787c0"/><rect x="216.15" y="495.40" width="11.48" height="11.48" fill="#4090c5"/><rect x="227.38" y="495.40" width="11.48" height="11.48" fill="#4a98c9"/><rect x="238.61" y="495.40" width="11.48" height="11.48" fill="#3787c0"/><rect x="249.84" y="495.40" width="11.48" height="11.48" fill="#5fa6d1"/><rect x="261.07" y="495.40" width="11.48" height="11.48" fill="#5fa6d1"/><rect x="272.30" y="495.40" width="11.48" height="11.48" fill="#1c6bb0"/><rect x="283.53" y="495.40" width="11.48" height="11.48" fill="#1c6bb0"/><rect x="294.76" y="495.40" width="11.48" height="11.48" fill="#549fcd"/><rect x="305.99" y="495.40" width="11.48" height="11.48" fill="#3787c0"/><rect x="317.22" y="495.40" width="11.48" height="11.48" fill="#549fcd"/><rect x="328.45" y="495.40" width="11.48" height="11.48" fill="#4090c5"/><rect x="339.68" y="495.40" width="11.48" height="11.48" fill="#69add5"/><rect x="350.91" y="495.40" width="11.48" height="11.48" fill="#69add5"/><rect x="362.14" y="495.40" width="11.48" height="11.48" fill="#1c6bb0"/><rect x="373.37" y="495.40" width="11.48" height="11.48" fill="#f7fbff"/><rect x="384.60" y="495.40" width="11.48" height="11.48" fill="#b3d3e8"/><rect x="395.83" y="495.40" width="11.48" height="11.48" fill="#c7dbef"/><rect x="407.06" y="495.40" width="11.48" height="11.48" fill="#b3d3e8"/><rect x="418.29" y="495.40" width="11.48" height="11.48" fill="#87bddc"/><rect x="429.52" y="495.40" width="11.48" height="11.48" fill="#71b1d7"/><rect x="440.75" y="495.40" width="11.48" height="11.48" fill="#7cb7da"/><rect x="451.98" y="495.40" width="11.48" height="11.48" fill="#65aad4"/><rect x="463.21" y="495.40" width="11.48" height="11.48" fill="#65aad4"/><rect x="474.44" y="495.40" width="11.48" height="11.48" fill="#7cb7da"/><rect x="485.67" y="495.40" width="11.48" height="11.48" fill="#87bddc"/><rect x="496.90" y="495.40" width="11.48" height="11.48" fill="#81badb"/><rect x="508.13" y="495.40" width="11.48" height="11.48" fill="#72b2d8"/><rect x="519.36" y="495.40" width="11.48" height="11.48" fill="#8abfdd"/><rect x="530.59" y="495.40" width="11.48" height="11.48" fill="#8abfdd"/><rect x="541.82" y="495.40" width="11.48" height="11.48" fill="#8abfdd"/><rect x="553.05" y="495.40" width="11.48" height="11.48" fill="#a3cce3"/><rect x="564.28" y="495.40" width="11.48" height="11.48" fill="#a3cce3"/><rect x="575.51" y="495.40" width="11.48" height="11.48" fill="#8abfdd"/><rect x="586.74" y="495.40" width="11.48" height="11.48" fill="#8abfdd"/><rect x="597.97" y="495.40" width="11.48" height="11.48" fill="#3787c0"/><rect x="609.20" y="495.40" width="11.48" height="11.48" fill="#a3cce3"/><rect x="620.43" y="495.40" width="11.48" height="11.48" fill="#72b2d8"/><rect x="631.66" y="495.40" width="11.48" height="11.48" fill="#72b2d8"/><rect x="642.89" y="495.40" width="11.48" height="11.48" fill="#8abfdd"/><rect x="654.12" y="495.40" width="11.48" height="11.48" fill="#8abfdd"/><rect x="665.35" y="495.40" width="11.48" height="11.48" fill="#8abfdd"/><rect x="676.58" y="495.40" width="11.48" height="11.48" fill="#72b2d8"/><rect x="687.81" y="495.40" width="11.48" height="11.48" fill="#72b2d8"/><rect x="699.04" y="495.40" width="11.48" height="11.48" fill="#72b2d8"/><rect x="710.27" y="495.40" width="9.98" height="11.48" fill="#72b2d8"/><rect x="160.00" y="506.63" width="11.48" height="11.48" fill="#0e59a2"/><rect x="171.23" y="506.63" width="11.48" height="11.48" fill="#08509b"/><rect x="182.46" y="506.63" width="11.48" height="11.48" fill="#2e7ebc"/><rect x="193.69" y="506.63" width="11.48" height="11.48" fill="#1562a9"/><rect x="204.92" y="506.63" width="11.48" height="11.48" fill="#add0e6"/><rect x="216.15" y="506.63" width="11.48" height="11.48" fill="#3787c0"/><rect x="227.38" y="506.63" width="11.48" height="11.48" fill="#69add5"/><rect x="238.61" y="506.63" width="11.48" height="11.48" fill="#69add5"/><rect x="249.84" y="506.63" width="11.48" height="11.48" fill="#9ac8e0"/><rect x="261.07" y="506.63" width="11.48" height="11.48" fill="#9ac8e0"/><rect x="272.30" y="506.63" width="11.48" height="11.48" fill="#2e7ebc"/><rect x="283.53" y="506.63" width="11.48" height="11.48" fill="#2e7ebc"/><rect x="294.76" y="506.63" width="11.48" height="11.48" fill="#2474b7"/><rect x="305.99" y="506.63" width="11.48" height="11.48" fill="#2e7ebc"/><rect x="317.22" y="506.63" width="11.48" height="11.48" fill="#4090c5"/><rect x="328.45" y="506.63" width="11.48" height="11.48" fill="#1c6bb0"/><rect x="339.68" y="506.63" width="11.48" height="11.48" fill="#1c6bb0"/><rect x="350.91" y="506.63" width="11.48" height="11.48" fill="#1c6bb0"/><rect x="362.14" y="506.63" width="11.48" height="11.48" fill="#f7fbff"/><rect x="373.37" y="506.63" width="11.48" height="11.48" fill="#1c6bb0"/><rect x="384.60" y="506.63" width="11.48" height="11.48" fill="#5ba3d0"/><rect x="395.83" y="506.63" width="11.48" height="11.48" fill="#65aad4"/><rect x="407.06" y="506.63" width="11.48" height="11.48" fill="#71b1d7"/><rect x="418.29" y="506.63" width="11.48" height="11.48" fill="#5ba3d0"/><rect x="429.52" y="506.63" width="11.48" height="11.48" fill="#4695c8"/><rect x="440.75" y="506.63" width="11.48" height="11.48" fill="#3383be"/><rect x="451.98" y="506.63" width="11.48" height="11.48" fill="#4695c8"/><rect x="463.21" y="506.63" width="11.48" height="11.48" fill="#3383be"/><rect x="474.44" y="506.63" width="11.48" height="11.48" fill="#4695c8"/><rect x="485.67" y="506.63" width="11.48" height="11.48" fill="#4695c8"/><rect x="496.90" y="506.63" width="11.48" height="11.48" fill="#4090c5"/><rect x="508.13" y="506.63" width="11.48" height="11.48" fill="#4090c5"/><rect x="519.36" y="506.63" width="11.48" height="11.48" fill="#4090c5"/><rect x="530.59" y="506.63" width="11.48" height="11.48" fill="#69add5"/><rect x="541.82" y="506.63" width="11.48" height="11.48" fill="#69add5"/><rect x="553.05" y="506.63" width="11.48" height="11.48" fill="#69add5"/><rect x="564.28" y="506.63" width="11.48" height="11.48" fill="#69add5"/><rect x="575.51" y="506.63" width="11.48" height="11.48" fill="#69add5"/><rect x="586.74" y="506.63" width="11.48" height="11.48" fill="#69add5"/><rect x="597.97" y="506.63" width="11.48" height="11.48" fill="#add0e6"/><rect x="609.20" y="506.63" width="11.48" height="11.48" fill="#5fa6d1"/><rect x="620.43" y="506.63" width="11.48" height="11.48" fill="#81badb"/><rect x="631.66" y="506.63" width="11.48" height="11.48" fill="#8dc1dd"/><rect x="642.89" y="506.63" width="11.48" height="11.48" fill="#81badb"/><rect x="654.12" y="506.63" width="11.48" height="11.48" fill="#8dc1dd"/><rect x="665.35" y="506.63" width="11.48" height="11.48" fill="#8dc1dd"/><rect x="676.58" y="506.63" width="11.48" height="11.48" fill="#add0e6"/><rect x="687.81" y="506.63" width="11.48" height="11.48" fill="#add0e6"/><rect x="699.04" y="506.63" width="11.48" height="11.48" fill="#add0e6"/><rect x="710.27" y="506.63" width="9.98" height="11.48" fill="#add0e6"/><rect x="160.00" y="517.86" width="11.48" height="11.48" fill="#3787c0"/><rect x="171.23" y="517.86" width="11.48" height="11.48" fill="#3787c0"/><rect x="182.46" y="517.86" width="11.48" height="11.48" fill="#69add5"/><rect x="193.69" y="517.86" width="11.48" height="11.48" fill="#5fa6d1"/><rect x="204.92" y="517.86" width="11.48" height="11.48" fill="#4090c5"/><rect x="216.15" y="517.86" width="11.48" height="11.48" fill="#9ac8e0"/><rect x="227.38" y="517.86" width="11.48" height="11.48" fill="#9ac8e0"/><rect x="238.61" y="517.86" width="11.48" height="11.48" fill="#81badb"/><rect x="249.84" y="517.86" width="11.48" height="11.48" fill="#81badb"/><rect x="261.07" y="517.86" width="11.48" height="11.48" fill="#81badb"/><rect x="272.30" y="517.86" width="11.48" height="11.48" fill="#8dc1dd"/><rect x="283.53" y="517.86" width="11.48" height="11.48" fill="#81badb"/><rect x="294.76" y="517.86" width="11.48" height="11.48" fill="#add0e6"/><rect x="305.99" y="517.86" width="11.48" height="11.48" fill="#add0e6"/><rect x="317.22" y="517.86" width="11.48" height="11.48" fill="#c1d9ed"/><rect x="328.45" y="517.86" width="11.48" height="11.48" fill="#c1d9ed"/><rect x="339.68" y="517.86" width="11.48" height="11.48" fill="#cfe1f2"/><rect x="350.91" y="517.86" width="11.48" height="11.48" fill="#f7fbff"/><rect x="362.14" y="517.86" width="11.48" height="11.48" fill="#1c6bb0"/><rect x="373.37" y="517.86" width="11.48" height="11.48" fill="#69add5"/><rect x="384.60" y="517.86" width="11.48" height="11.48" fill="#69add5"/><rect x="395.83" y="517.86" width="11.48" height="11.48" fill="#81badb"/><rect x="407.06" y="517.86" width="11.48" height="11.48" fill="#81badb"/><rect x="418.29" y="517.86" width="11.48" height="11.48" fill="#69add5"/><rect x="429.52" y="517.86" width="11.48" height="11.48" fill="#69add5"/><rect x="440.75" y="517.86" width="11.48" height="11.48" fill="#69add5"/><rect x="451.98" y="517.86" width="11.48" height="11.48" fill="#69add5"/><rect x="463.21" y="517.86" width="11.48" height="11.48" fill="#5fa6d1"/><rect x="474.44" y="517.86" width="11.48" height="11.48" fill="#549fcd"/><rect x="485.67" y="517.86" width="11.48" height="11.48" fill="#69add5"/><rect x="496.90" y="517.86" width="11.48" height="11.48" fill="#5fa6d1"/><rect x="508.13" y="517.86" width="11.48" height="11.48" fill="#549fcd"/><rect x="519.36" y="517.86" width="11.48" height="11.48" fill="#549fcd"/><rect x="530.59" y="517.86" width="11.48" height="11.48" fill="#a4cce3"/><rect x="541.82" y="517.86" width="11.48" height="11.48" fill="#9ac8e0"/><rect x="553.05" y="517.86" width="11.48" height="11.48" fill="#8dc1dd"/><rect x="564.28" y="517.86" width="11.48" height="11.48" fill="#81badb"/><rect x="575.51" y="517.86" width="11.48" height="11.48" fill="#a4cce3"/><rect x="586.74" y="517.86" width="11.48" height="11.48" fill="#a4cce3"/><rect x="597.97" y="517.86" width="11.48" height="11.48" fill="#4090c5"/><rect x="609.20" y="517.86" width="11.48" height="11.48" fill="#8dc1dd"/><rect x="620.43" y="517.86" width="11.48" height="11.48" fill="#77b5d9"/><rect x="631.66" y="517.86" width="11.48" height="11.48" fill="#6caed6"/><rect x="642.89" y="517.86" width="11.48" height="11.48" fill="#57a0ce"/><rect x="654.12" y="517.86" width="11.48" height="11.48" fill="#77b5d9"/><rect x="665.35" y="517.86" width="11.48" height="11.48" fill="#77b5d9"/><rect x="676.58" y="517.86" width="11.48" height="11.48" fill="#4d99ca"/><rect x="687.81" y="517.86" width="11.48" height="11.48" fill="#4d99ca"/><rect x="699.04" y="517.86" width="11.48" height="11.48" fill="#57a0ce"/><rect x="710.27" y="517.86" width="9.98" height="11.48" fill="#57a0ce"/><rect x="160.00" y="529.09" width="11.48" height="11.48" fill="#3787c0"/><rect x="171.23" y="529.09" width="11.48" height="11.48" fill="#3787c0"/><rect x="182.46" y="529.09" width="11.48" height="11.48" fill="#69add5"/><rect x="193.69" y="529.09" width="11.48" height="11.48" fill="#5fa6d1"/><rect x="204.92" y="529.09" width="11.48" height="11.48" fill="#3787c0"/><rect x="216.15" y="529.09" width="11.48" height="11.48" fill="#81badb"/><rect x="227.38" y="529.09" width="11.48" height="11.48" fill="#9ac8e0"/><rect x="238.61" y="529.09" width="11.48" height="11.48" fill="#81badb"/><rect x="249.84" y="529.09" width="11.48" height="11.48" fill="#81badb"/><rect x="261.07" y="529.09" width="11.48" height="11.48" fill="#81badb"/><rect x="272.30" y="529.09" width="11.48" height="11.48" fill="#81badb"/><rect x="283.53" y="529.09" width="11.48" height="11.48" fill="#81badb"/><rect x="294.76" y="529.09" width="11.48" height="11.48" fill="#c9ddf0"/><rect x="305.99" y="529.09" width="11.48" height="11.48" fill="#add0e6"/><rect x="317.22" y="529.09" width="11.48" height="11.48" fill="#c1d9ed"/><rect x="328.45" y="529.09" width="11.48" height="11.48" fill="#c1d9ed"/><rect x="339.68" y="529.09" width="11.48" height="11.48" fill="#f7fbff"/><rect x="350.91" y="529.09" width="11.48" height="11.48" fill="#cfe1f2"/><rect x="362.14" y="529.09" width="11.48" height="11.48" fill="#1c6bb0"/><rect x="373.37" y="529.09" width="11.48" height="11.48" fill="#69add5"/><rect x="384.60" y="529.09" width="11.48" height="11.48" fill="#74b3d8"/><rect x="395.83" y="529.09" width="11.48" height="11.48" fill="#81badb"/><rect x="407.06" y="529.09" width="11.48" height="11.48" fill="#81badb"/><rect x="418.29" y="529.09" width="11.48" height="11.48" fill="#81badb"/><rect x="429.52" y="529.09" width="11.48" height="11.48" fill="#81badb"/><rect x="440.75" y="529.09" width="11.48" height="11.48" fill="#74b3d8"/><rect x="451.98" y="529.09" width="11.48" height="11.48" fill="#74b3d8"/><rect x="463.21" y="529.09" width="11.48" height="11.48" fill="#69add5"/><rect x="474.44" y="529.09" width="11.48" height="11.48" fill="#549fcd"/><rect x="485.67" y="529.09" width="11.48" height="11.48" fill="#69add5"/><rect x="496.90" y="529.09" width="11.48" height="11.48" fill="#69add5"/><rect x="508.13" y="529.09" width="11.48" height="11.48" fill="#5fa6d1"/><rect x="519.36" y="529.09" width="11.48" height="11.48" fill="#5fa6d1"/><rect x="530.59" y="529.09" width="11.48" height="11.48" fill="#9ac8e0"/><rect x="541.82" y="529.09" width="11.48" height="11.48" fill="#81badb"/><rect x="553.05" y="529.09" width="11.48" height="11.48" fill="#81badb"/><rect x="564.28" y="529.09" width="11.48" height="11.48" fill="#81badb"/><rect x="575.51" y="529.09" width="11.48" height="11.48" fill="#9ac8e0"/><rect x="586.74" y="529.09" width="11.48" height="11.48" fill="#9ac8e0"/><rect x="597.97" y="529.09" width="11.48" height="11.48" fill="#4090c5"/><rect x="609.20" y="529.09" width="11.48" height="11.48" fill="#8dc1dd"/><rect x="620.43" y="529.09" width="11.48" height="11.48" fill="#77b5d9"/><rect x="631.66" y="529.09" width="11.48" height="11.48" fill="#6caed6"/><rect x="642.89" y="529.09" width="11.48" height="11.48" fill="#57a0ce"/><rect x="654.12" y="529.09" width="11.48" height="11.48" fill="#77b5d9"/><rect x="665.35" y="529.09" width="11.48" height="11.48" fill="#77b5d9"/><rect x="676.58" y="529.09" width="11.48" height="11.48" fill="#4d99ca"/><rect x="687.81" y="529.09" width="11.48" height="11.48" fill="#4d99ca"/><rect x="699.04" y="529.09" width="11.48" height="11.48" fill="#57a0ce"/><rect x="710.27" y="529.09" width="9.98" height="11.48" fill="#57a0ce"/><rect x="160.00" y="540.32" width="11.48" height="11.48" fill="#81badb"/><rect x="171.23" y="540.32" width="11.48" height="11.48" fill="#81badb"/><rect x="182.46" y="540.32" width="11.48" height="11.48" fill="#add0e6"/><rect x="193.69" y="540.32" width="11.48" height="11.48" fill="#add0e6"/><rect x="204.92" y="540.32" width="11.48" height="11.48" fill="#549fcd"/><rect x="216.15" y="540.32" width="11.48" height="11.48" fill="#c1d9ed"/><rect x="227.38" y="540.32" width="11.48" height="11.48" fill="#add0e6"/><rect x="238.61" y="540.32" width="11.48" height="11.48" fill="#74b3d8"/><rect x="249.84" y="540.32" width="11.48" height="11.48" fill="#69add5"/><rect x="261.07" y="540.32" width="11.48" height="11.48" fill="#69add5"/><rect x="272.30" y="540.32" width="11.48" height="11.48" fill="#9ac8e0"/><rect x="283.53" y="540.32" width="11.48" height="11.48" fill="#9ac8e0"/><rect x="294.76" y="540.32" width="11.48" height="11.48" fill="#add0e6"/><rect x="305.99" y="540.32" width="11.48" height="11.48" fill="#c1d9ed"/><rect x="317.22" y="540.32" width="11.48" height="11.48" fill="#add0e6"/><rect x="328.45" y="540.32" width="11.48" height="11.48" fill="#f7fbff"/><rect x="339.68" y="540.32" width="11.48" height="11.48" fill="#c1d9ed"/><rect x="350.91" y="540.32" width="11.48" height="11.48" fill="#c1d9ed"/><rect x="362.14" y="540.32" width="11.48" height="11.48" fill="#1c6bb0"/><rect x="373.37" y="540.32" width="11.48" height="11.48" fill="#4090c5"/><rect x="384.60" y="540.32" width="11.48" height="11.48" fill="#4a98c9"/><rect x="395.83" y="540.32" width="11.48" height="11.48" fill="#69add5"/><rect x="407.06" y="540.32" width="11.48" height="11.48" fill="#69add5"/><rect x="418.29" y="540.32" width="11.48" height="11.48" fill="#4090c5"/><rect x="429.52" y="540.32" width="11.48" height="11.48" fill="#3787c0"/><rect x="440.75" y="540.32" width="11.48" height="11.48" fill="#3787c0"/><rect x="451.98" y="540.32" width="11.48" height="11.48" fill="#3787c0"/><rect x="463.21" y="540.32" width="11.48" height="11.48" fill="#3787c0"/><rect x="474.44" y="540.32" width="11.48" height="11.48" fill="#2e7ebc"/><rect x="485.67" y="540.32" width="11.48" height="11.48" fill="#3787c0"/><rect x="496.90" y="540.32" width="11.48" height="11.48" fill="#3787c0"/><rect x="508.13" y="540.32" width="11.48" height="11.48" fill="#2e7ebc"/><rect x="519.36" y="540.32" width="11.48" height="11.48" fill="#2e7ebc"/><rect x="530.59" y="540.32" width="11.48" height="11.48" fill="#81badb"/><rect x="541.82" y="540.32" width="11.48" height="11.48" fill="#69add5"/><rect x="553.05" y="540.32" width="11.48" height="11.48" fill="#549fcd"/><rect x="564.28" y="540.32" width="11.48" height="11.48" fill="#549fcd"/><rect x="575.51" y="540.32" width="11.48" height="11.48" fill="#81badb"/><rect x="586.74" y="540.32" width="11.48" height="11.48" fill="#81badb"/><rect x="597.97" y="540.32" width="11.48" height="11.48" fill="#3787c0"/><rect x="609.20" y="540.32" width="11.48" height="11.48" fill="#549fcd"/><rect x="620.43" y="540.32" width="11.48" height="11.48" fill="#4d99ca"/><rect x="631.66" y="540.32" width="11.48" height="11.48" fill="#4d99ca"/><rect x="642.89" y="540.32" width="11.48" height="11.48" fill="#3989c1"/><rect x="654.12" y="540.32" width="11.48" height="11.48" fill="#4d99ca"/><rect x="665.35" y="540.32" width="11.48" height="11.48" fill="#4d99ca"/><rect x="676.58" y="540.32" width="11.48" height="11.48" fill="#3989c1"/><rect x="687.81" y="540.32" width="11.48" height="11.48" fill="#3989c1"/><rect x="699.04" y="540.32" width="11.48" height="11.48" fill="#4292c6"/><rect x="710.27" y="540.32" width="9.98" height="11.48" fill="#4292c6"/><rect x="160.00" y="551.55" width="11.48" height="11.48" fill="#4090c5"/><rect x="171.23" y="551.55" width="11.48" height="11.48" fill="#3787c0"/><rect x="182.46" y="551.55" width="11.48" height="11.48" fill="#9ac8e0"/><rect x="193.69" y="551.55" width="11.48" height="11.48" fill="#5fa6d1"/><rect x="204.92" y="551.55" width="11.48" height="11.48" fill="#549fcd"/><rect x="216.15" y="551.55" width="11.48" height="11.48" fill="#81badb"/><rect x="227.38" y="551.55" width="11.48" height="11.48" fill="#add0e6"/><rect x="238.61" y="551.55" width="11.48" height="11.48" fill="#cfe1f2"/><rect x="249.84" y="551.55" width="11.48" height="11.48" fill="#add0e6"/><rect x="261.07" y="551.55" width="11.48" height="11.48" fill="#add0e6"/><rect x="272.30" y="551.55" width="11.48" height="11.48" fill="#9ac8e0"/><rect x="283.53" y="551.55" width="11.48" height="11.48" fill="#9ac8e0"/><rect x="294.76" y="551.55" width="11.48" height="11.48" fill="#cfe1f2"/><rect x="305.99" y="551.55" width="11.48" height="11.48" fill="#cfe1f2"/><rect x="317.22" y="551.55" width="11.48" height="11.48" fill="#f7fbff"/><rect x="328.45" y="551.55" width="11.48" height="11.48" fill="#add0e6"/><rect x="339.68" y="551.55" width="11.48" height="11.48" fill="#c1d9ed"/><rect x="350.91" y="551.55" width="11.48" height="11.48" fill="#c1d9ed"/><rect x="362.14" y="551.55" width="11.48" height="11.48" fill="#4090c5"/><rect x="373.37" y="551.55" width="11.48" height="11.48" fill="#549fcd"/><rect x="384.60" y="551.55" width="11.48" height="11.48" fill="#8dc1dd"/><rect x="395.83" y="551.55" width="11.48" height="11.48" fill="#81badb"/><rect x="407.06" y="551.55" width="11.48" height="11.48" fill="#9ac8e0"/><rect x="418.29" y="551.55" width="11.48" height="11.48" fill="#81badb"/><rect x="429.52" y="551.55" width="11.48" height="11.48" fill="#9ac8e0"/><rect x="440.75" y="551.55" width="11.48" height="11.48" fill="#81badb"/><rect x="451.98" y="551.55" width="11.48" height="11.48" fill="#9ac8e0"/><rect x="463.21" y="551.55" width="11.48" height="11.48" fill="#8dc1dd"/><rect x="474.44" y="551.55" width="11.48" height="11.48" fill="#69add5"/><rect x="485.67" y="551.55" width="11.48" height="11.48" fill="#81badb"/><rect x="496.90" y="551.55" width="11.48" height="11.48" fill="#81badb"/><rect x="508.13" y="551.55" width="11.48" height="11.48" fill="#81badb"/><rect x="519.36" y="551.55" width="11.48" height="11.48" fill="#81badb"/><rect x="530.59" y="551.55" width="11.48" height="11.48" fill="#b7d4ea"/><rect x="541.82" y="551.55" width="11.48" height="11.48" fill="#add0e6"/><rect x="553.05" y="551.55" width="11.48" height="11.48" fill="#81badb"/><rect x="564.28" y="551.55" width="11.48" height="11.48" fill="#81badb"/><rect x="575.51" y="551.55" width="11.48" height="11.48" fill="#a4cce3"/><rect x="586.74" y="551.55" width="11.48" height="11.48" fill="#a4cce3"/><rect x="597.97" y="551.55" width="11.48" height="11.48" fill="#69add5"/><rect x="609.20" y="551.55" width="11.48" height="11.48" fill="#9ac8e0"/><rect x="620.43" y="551.55" width="11.48" height="11.48" fill="#8dc1dd"/><rect x="631.66" y="551.55" width="11.48" height="11.48" fill="#8dc1dd"/><rect x="642.89" y="551.55" width="11.48" height="11.48" fill="#69add5"/><rect x="654.12" y="551.55" width="11.48" height="11.48" fill="#8dc1dd"/><rect x="665.35" y="551.55" width="11.48" height="11.48" fill="#8dc1dd"/><rect x="676.58" y="551.55" width="11.48" height="11.48" fill="#69add5"/><rect x="687.81" y="551.55" width="11.48" height="11.48" fill="#69add5"/><rect x="699.04" y="551.55" width="11.48" height="11.48" fill="#69add5"/><rect x="710.27" y="551.55" width="9.98" height="11.48" fill="#69add5"/><rect x="160.00" y="562.78" width="11.48" height="11.48" fill="#69add5"/><rect x="171.23" y="562.78" width="11.48" height="11.48" fill="#549fcd"/><rect x="182.46" y="562.78" width="11.48" height="11.48" fill="#c1d9ed"/><rect x="193.69" y="562.78" width="11.48" height="11.48" fill="#9ac8e0"/><rect x="204.92" y="562.78" width="11.48" height="11.48" fill="#549fcd"/><rect x="216.15" y="562.78" width="11.48" height="11.48" fill="#9ac8e0"/><rect x="227.38" y="562.78" width="11.48" height="11.48" fill="#add0e6"/><rect x="238.61" y="562.78" width="11.48" height="11.48" fill="#add0e6"/><rect x="249.84" y="562.78" width="11.48" height="11.48" fill="#9ac8e0"/><rect x="261.07" y="562.78" width="11.48" height="11.48" fill="#9ac8e0"/><rect x="272.30" y="562.78" width="11.48" height="11.48" fill="#9ac8e0"/><rect x="283.53" y="562.78" width="11.48" height="11.48" fill="#9ac8e0"/><rect x="294.76" y="562.78" width="11.48" height="11.48" fill="#c1d9ed"/><rect x="305.99" y="562.78" width="11.48" height="11.48" fill="#f7fbff"/><rect x="317.22" y="562.78" width="11.48" height="11.48" fill="#cfe1f2"/><rect x="328.45" y="562.78" width="11.48" height="11.48" fill="#c1d9ed"/><rect x="339.68" y="562.78" width="11.48" height="11.48" fill="#add0e6"/><rect x="350.91" y="562.78" width="11.48" height="11.48" fill="#add0e6"/><rect x="362.14" y="562.78" width="11.48" height="11.48" fill="#2e7ebc"/><rect x="373.37" y="562.78" width="11.48" height="11.48" fill="#3787c0"/><rect x="384.60" y="562.78" width="11.48" height="11.48" fill="#69add5"/><rect x="395.83" y="562.78" width="11.48" height="11.48" fill="#69add5"/><rect x="407.06" y="562.78" width="11.48" height="11.48" fill="#74b3d8"/><rect x="418.29" y="562.78" width="11.48" height="11.48" fill="#549fcd"/><rect x="429.52" y="562.78" width="11.48" height="11.48" fill="#5fa6d1"/><rect x="440.75" y="562.78" width="11.48" height="11.48" fill="#4a98c9"/><rect x="451.98" y="562.78" width="11.48" height="11.48" fill="#5fa6d1"/><rect x="463.21" y="562.78" width="11.48" height="11.48" fill="#4a98c9"/><rect x="474.44" y="562.78" width="11.48" height="11.48" fill="#3787c0"/><rect x="485.67" y="562.78" width="11.48" height="11.48" fill="#4a98c9"/><rect x="496.90" y="562.78" width="11.48" height="11.48" fill="#549fcd"/><rect x="508.13" y="562.78" width="11.48" height="11.48" fill="#549fcd"/><rect x="519.36" y="562.78" width="11.48" height="11.48" fill="#549fcd"/><rect x="530.59" y="562.78" width="11.48" height="11.48" fill="#8dc1dd"/><rect x="541.82" y="562.78" width="11.48" height="11.48" fill="#81badb"/><rect x="553.05" y="562.78" width="11.48" height="11.48" fill="#549fcd"/><rect x="564.28" y="562.78" width="11.48" height="11.48" fill="#549fcd"/><rect x="575.51" y="562.78" width="11.48" height="11.48" fill="#81badb"/><rect x="586.74" y="562.78" width="11.48" height="11.48" fill="#81badb"/><rect x="597.97" y="562.78" width="11.48" height="11.48" fill="#4090c5"/><rect x="609.20" y="562.78" width="11.48" height="11.48" fill="#69add5"/><rect x="620.43" y="562.78" width="11.48" height="11.48" fill="#61a7d2"/><rect x="631.66" y="562.78" width="11.48" height="11.48" fill="#61a7d2"/><rect x="642.89" y="562.78" width="11.48" height="11.48" fill="#4d99ca"/><rect x="654.12" y="562.78" width="11.48" height="11.48" fill="#61a7d2"/><rect x="665.35" y="562.78" width="11.48" height="11.48" fill="#61a7d2"/><rect x="676.58" y="562.78" width="11.48" height="11.48" fill="#4d99ca"/><rect x="687.81" y="562.78" width="11.48" height="11.48" fill="#4d99ca"/><rect x="699.04" y="562.78" width="11.48" height="11.48" fill="#57a0ce"/><rect x="710.27" y="562.78" width="9.98" height="11.48" fill="#57a0ce"/><rect x="160.00" y="574.01" width="11.48" height="11.48" fill="#549fcd"/><rect x="171.23" y="574.01" width="11.48" height="11.48" fill="#4090c5"/><rect x="182.46" y="574.01" width="11.48" height="11.48" fill="#add0e6"/><rect x="193.69" y="574.01" width="11.48" height="11.48" fill="#81badb"/><rect x="204.92" y="574.01" width="11.48" height="11.48" fill="#4090c5"/><rect x="216.15" y="574.01" width="11.48" height="11.48" fill="#74b3d8"/><rect x="227.38" y="574.01" width="11.48" height="11.48" fill="#add0e6"/><rect x="238.61" y="574.01" width="11.48" height="11.48" fill="#add0e6"/><rect x="249.84" y="574.01" width="11.48" height="11.48" fill="#9ac8e0"/><rect x="261.07" y="574.01" width="11.48" height="11.48" fill="#9ac8e0"/><rect x="272.30" y="574.01" width="11.48" height="11.48" fill="#9ac8e0"/><rect x="283.53" y="574.01" width="11.48" height="11.48" fill="#9ac8e0"/><rect x="294.76" y="574.01" width="11.48" height="11.48" fill="#f7fbff"/><rect x="305.99" y="574.01" width="11.48" height="11.48" fill="#c1d9ed"/><rect x="317.22" y="574.01" width="11.48" height="11.48" fill="#cfe1f2"/><rect x="328.45" y="574.01" width="11.48" height="11.48" fill="#add0e6"/><rect x="339.68" y="574.01" width="11.48" height="11.48" fill="#c9ddf0"/><rect x="350.91" y="574.01" width="11.48" height="11.48" fill="#add0e6"/><rect x="362.14" y="574.01" width="11.48" height="11.48" fill="#2474b7"/><rect x="373.37" y="574.01" width="11.48" height="11.48" fill="#549fcd"/><rect x="384.60" y="574.01" width="11.48" height="11.48" fill="#81badb"/><rect x="395.83" y="574.01" width="11.48" height="11.48" fill="#81badb"/><rect x="407.06" y="574.01" width="11.48" height="11.48" fill="#8dc1dd"/><rect x="418.29" y="574.01" width="11.48" height="11.48" fill="#74b3d8"/><rect x="429.52" y="574.01" width="11.48" height="11.48" fill="#81badb"/><rect x="440.75" y="574.01" width="11.48" height="11.48" fill="#69add5"/><rect x="451.98" y="574.01" width="11.48" height="11.48" fill="#74b3d8"/><rect x="463.21" y="574.01" width="11.48" height="11.48" fill="#69add5"/><rect x="474.44" y="574.01" width="11.48" height="11.48" fill="#549fcd"/><rect x="485.67" y="574.01" width="11.48" height="11.48" fill="#69add5"/><rect x="496.90" y="574.01" width="11.48" height="11.48" fill="#69add5"/><rect x="508.13" y="574.01" width="11.48" height="11.48" fill="#69add5"/><rect x="519.36" y="574.01" width="11.48" height="11.48" fill="#69add5"/><rect x="530.59" y="574.01" width="11.48" height="11.48" fill="#8dc1dd"/><rect x="541.82" y="574.01" width="11.48" height="11.48" fill="#81badb"/><rect x="553.05" y="574.01" width="11.48" height="11.48" fill="#69add5"/><rect x="564.28" y="574.01" width="11.48" height="11.48" fill="#69add5"/><rect x="575.51" y="574.01" width="11.48" height="11.48" fill="#81badb"/><rect x="586.74" y="574.01" width="11.48" height="11.48" fill="#81badb"/><rect x="597.97" y="574.01" width="11.48" height="11.48" fill="#4090c5"/><rect x="609.20" y="574.01" width="11.48" height="11.48" fill="#81badb"/><rect x="620.43" y="574.01" width="11.48" height="11.48" fill="#6caed6"/><rect x="631.66" y="574.01" width="11.48" height="11.48" fill="#6caed6"/><rect x="642.89" y="574.01" width="11.48" height="11.48" fill="#57a0ce"/><rect x="654.12" y="574.01" width="11.48" height="11.48" fill="#6caed6"/><rect x="665.35" y="574.01" width="11.48" height="11.48" fill="#6caed6"/><rect x="676.58" y="574.01" width="11.48" height="11.48" fill="#61a7d2"/><rect x="687.81" y="574.01" width="11.48" height="11.48" fill="#61a7d2"/><rect x="699.04" y="574.01" width="11.48" height="11.48" fill="#57a0ce"/><rect x="710.27" y="574.01" width="9.98" height="11.48" fill="#57a0ce"/><rect x="160.00" y="585.24" width="11.48" height="11.48" fill="#549fcd"/><rect x="171.23" y="585.24" width="11.48" height="11.48" fill="#69add5"/><rect x="182.46" y="585.24" width="11.48" height="11.48" fill="#81badb"/><rect x="193.69" y="585.24" width="11.48" height="11.48" fill="#549fcd"/><rect x="204.92" y="585.24" width="11.48" height="11.48" fill="#4090c5"/><rect x="216.15" y="585.24" width="11.48" height="11.48" fill="#69add5"/><rect x="227.38" y="585.24" width="11.48" height="11.48" fill="#9ac8e0"/><rect x="238.61" y="585.24" width="11.48" height="11.48" fill="#a4cce3"/><rect x="249.84" y="585.24" width="11.48" height="11.48" fill="#81badb"/><rect x="261.07" y="585.24" width="11.48" height="11.48" fill="#81badb"/><rect x="272.30" y="585.24" width="11.48" height="11.48" fill="#e1edf8"/><rect x="283.53" y="585.24" width="11.48" height="11.48" fill="#f7fbff"/><rect x="294.76" y="585.24" width="11.48" height="11.48" fill="#9ac8e0"/><rect x="305.99" y="585.24" width="11.48" height="11.48" fill="#9ac8e0"/><rect x="317.22" y="585.24" width="11.48" height="11.48" fill="#9ac8e0"/><rect x="328.45" y="585.24" width="11.48" height="11.48" fill="#9ac8e0"/><rect x="339.68" y="585.24" width="11.48" height="11.48" fill="#81badb"/><rect x="350.91" y="585.24" width="11.48" height="11.48" fill="#81badb"/><rect x="362.14" y="585.24" width="11.48" height="11.48" fill="#2e7ebc"/><rect x="373.37" y="585.24" width="11.48" height="11.48" fill="#1c6bb0"/><rect x="384.60" y="585.24" width="11.48" height="11.48" fill="#4090c5"/><rect x="395.83" y="585.24" width="11.48" height="11.48" fill="#549fcd"/><rect x="407.06" y="585.24" width="11.48" height="11.48" fill="#549fcd"/><rect x="418.29" y="585.24" width="11.48" height="11.48" fill="#69add5"/><rect x="429.52" y="585.24" width="11.48" height="11.48" fill="#69add5"/><rect x="440.75" y="585.24" width="11.48" height="11.48" fill="#5fa6d1"/><rect x="451.98" y="585.24" width="11.48" height="11.48" fill="#5fa6d1"/><rect x="463.21" y="585.24" width="11.48" height="11.48" fill="#5fa6d1"/><rect x="474.44" y="585.24" width="11.48" height="11.48" fill="#4a98c9"/><rect x="485.67" y="585.24" width="11.48" height="11.48" fill="#549fcd"/><rect x="496.90" y="585.24" width="11.48" height="11.48" fill="#549fcd"/><rect x="508.13" y="585.24" width="11.48" height="11.48" fill="#549fcd"/><rect x="519.36" y="585.24" width="11.48" height="11.48" fill="#549fcd"/><rect x="530.59" y="585.24" width="11.48" height="11.48" fill="#69add5"/><rect x="541.82" y="585.24" width="11.48" height="11.48" fill="#5fa6d1"/><rect x="553.05" y="585.24" width="11.48" height="11.48" fill="#5fa6d1"/><rect x="564.28" y="585.24" width="11.48" height="11.48" fill="#5fa6d1"/><rect x="575.51" y="585.24" width="11.48" height="11.48" fill="#74b3d8"/><rect x="586.74" y="585.24" width="11.48" height="11.48" fill="#81badb"/><rect x="597.97" y="585.24" width="11.48" height="11.48" fill="#74b3d8"/><rect x="609.20" y="585.24" width="11.48" height="11.48" fill="#5fa6d1"/><rect x="620.43" y="585.24" width="11.48" height="11.48" fill="#6caed6"/><rect x="631.66" y="585.24" width="11.48" height="11.48" fill="#6caed6"/><rect x="642.89" y="585.24" width="11.48" height="11.48" fill="#4292c6"/><rect x="654.12" y="585.24" width="11.48" height="11.48" fill="#61a7d2"/><rect x="665.35" y="585.24" width="11.48" height="11.48" fill="#61a7d2"/><rect x="676.58" y="585.24" width="11.48" height="11.48" fill="#4292c6"/><rect x="687.81" y="585.24" width="11.48" height="11.48" fill="#4292c6"/><rect x="699.04" y="585.24" width="11.48" height="11.48" fill="#4292c6"/><rect x="710.27" y="585.24" width="9.98" height="11.48" fill="#4292c6"/><rect x="160.00" y="596.47" width="11.48" height="11.48" fill="#549fcd"/><rect x="171.23" y="596.47" width="11.48" height="11.48" fill="#69add5"/><rect x="182.46" y="596.47" width="11.48" height="11.48" fill="#8dc1dd"/><rect x="193.69" y="596.47" width="11.48" height="11.48" fill="#69add5"/><rect x="204.92" y="596.47" width="11.48" height="11.48" fill="#4090c5"/><rect x="216.15" y="596.47" width="11.48" height="11.48" fill="#69add5"/><rect x="227.38" y="596.47" width="11.48" height="11.48" fill="#9ac8e0"/><rect x="238.61" y="596.47" width="11.48" height="11.48" fill="#add0e6"/><rect x="249.84" y="596.47" width="11.48" height="11.48" fill="#81badb"/><rect x="261.07" y="596.47" width="11.48" height="11.48" fill="#81badb"/><rect x="272.30" y="596.47" width="11.48" height="11.48" fill="#f7fbff"/><rect x="283.53" y="596.47" width="11.48" height="11.48" fill="#e1edf8"/><rect x="294.76" y="596.47" width="11.48" height="11.48" fill="#9ac8e0"/><rect x="305.99" y="596.47" width="11.48" height="11.48" fill="#9ac8e0"/><rect x="317.22" y="596.47" width="11.48" height="11.48" fill="#9ac8e0"/><rect x="328.45" y="596.47" width="11.48" height="11.48" fill="#9ac8e0"/><rect x="339.68" y="596.47" width="11.48" height="11.48" fill="#81badb"/><rect x="350.91" y="596.47" width="11.48" height="11.48" fill="#8dc1dd"/><rect x="362.14" y="596.47" width="11.48" height="11.48" fill="#2e7ebc"/><rect x="373.37" y="596.47" width="11.48" height="11.48" fill="#1c6bb0"/><rect x="384.60" y="596.47" width="11.48" height="11.48" fill="#4090c5"/><rect x="395.83" y="596.47" width="11.48" height="11.48" fill="#549fcd"/><rect x="407.06" y="596.47" width="11.48" height="11.48" fill="#549fcd"/><rect x="418.29" y="596.47" width="11.48" height="11.48" fill="#69add5"/><rect x="429.52" y="596.47" width="11.48" height="11.48" fill="#69add5"/><rect x="440.75" y="596.47" width="11.48" height="11.48" fill="#5fa6d1"/><rect x="451.98" y="596.47" width="11.48" height="11.48" fill="#69add5"/><rect x="463.21" y="596.47" width="11.48" height="11.48" fill="#5fa6d1"/><rect x="474.44" y="596.47" width="11.48" height="11.48" fill="#4a98c9"/><rect x="485.67" y="596.47" width="11.48" height="11.48" fill="#549fcd"/><rect x="496.90" y="596.47" width="11.48" height="11.48" fill="#549fcd"/><rect x="508.13" y="596.47" width="11.48" height="11.48" fill="#549fcd"/><rect x="519.36" y="596.47" width="11.48" height="11.48" fill="#549fcd"/><rect x="530.59" y="596.47" width="11.48" height="11.48" fill="#74b3d8"/><rect x="541.82" y="596.47" width="11.48" height="11.48" fill="#5fa6d1"/><rect x="553.05" y="596.47" width="11.48" height="11.48" fill="#5fa6d1"/><rect x="564.28" y="596.47" width="11.48" height="11.48" fill="#5fa6d1"/><rect x="575.51" y="596.47" width="11.48" height="11.48" fill="#74b3d8"/><rect x="586.74" y="596.47" width="11.48" height="11.48" fill="#81badb"/><rect x="597.97" y="596.47" width="11.48" height="11.48" fill="#74b3d8"/><rect x="609.20" y="596.47" width="11.48" height="11.48" fill="#5fa6d1"/><rect x="620.43" y="596.47" width="11.48" height="11.48" fill="#6caed6"/><rect x="631.66" y="596.47" width="11.48" height="11.48" fill="#6caed6"/><rect x="642.89" y="596.47" width="11.48" height="11.48" fill="#4292c6"/><rect x="654.12" y="596.47" width="11.48" height="11.48" fill="#61a7d2"/><rect x="665.35" y="596.47" width="11.48" height="11.48" fill="#61a7d2"/><rect x="676.58" y="596.47" width="11.48" height="11.48" fill="#4d99ca"/><rect x="687.81" y="596.47" width="11.48" height="11.48" fill="#4d99ca"/><rect x="699.04" y="596.47" width="11.48" height="11.48" fill="#4d99ca"/><rect x="710.27" y="596.47" width="9.98" height="11.48" fill="#4292c6"/><rect x="160.00" y="607.70" width="11.48" height="11.48" fill="#3787c0"/><rect x="171.23" y="607.70" width="11.48" height="11.48" fill="#2e7ebc"/><rect x="182.46" y="607.70" width="11.48" height="11.48" fill="#85bcdc"/><rect x="193.69" y="607.70" width="11.48" height="11.48" fill="#5fa6d1"/><rect x="204.92" y="607.70" width="11.48" height="11.48" fill="#9ac8e0"/><rect x="216.15" y="607.70" width="11.48" height="11.48" fill="#74b3d8"/><rect x="227.38" y="607.70" width="11.48" height="11.48" fill="#add0e6"/><rect x="238.61" y="607.70" width="11.48" height="11.48" fill="#c1d9ed"/><rect x="249.84" y="607.70" width="11.48" height="11.48" fill="#e1edf8"/><rect x="261.07" y="607.70" width="11.48" height="11.48" fill="#f7fbff"/><rect x="272.30" y="607.70" width="11.48" height="11.48" fill="#81badb"/><rect x="283.53" y="607.70" width="11.48" height="11.48" fill="#81badb"/><rect x="294.76" y="607.70" width="11.48" height="11.48" fill="#9ac8e0"/><rect x="305.99" y="607.70" width="11.48" height="11.48" fill="#9ac8e0"/><rect x="317.22" y="607.70" width="11.48" height="11.48" fill="#add0e6"/><rect x="328.45" y="607.70" width="11.48" height="11.48" fill="#69add5"/><rect x="339.68" y="607.70" width="11.48" height="11.48" fill="#81badb"/><rect x="350.91" y="607.70" width="11.48" height="11.48" fill="#81badb"/><rect x="362.14" y="607.70" width="11.48" height="11.48" fill="#9ac8e0"/><rect x="373.37" y="607.70" width="11.48" height="11.48" fill="#5fa6d1"/><rect x="384.60" y="607.70" width="11.48" height="11.48" fill="#add0e6"/><rect x="395.83" y="607.70" width="11.48" height="11.48" fill="#add0e6"/><rect x="407.06" y="607.70" width="11.48" height="11.48" fill="#b7d4ea"/><rect x="418.29" y="607.70" width="11.48" height="11.48" fill="#add0e6"/><rect x="429.52" y="607.70" width="11.48" height="11.48" fill="#9ac8e0"/><rect x="440.75" y="607.70" width="11.48" height="11.48" fill="#81badb"/><rect x="451.98" y="607.70" width="11.48" height="11.48" fill="#9ac8e0"/><rect x="463.21" y="607.70" width="11.48" height="11.48" fill="#9ac8e0"/><rect x="474.44" y="607.70" width="11.48" height="11.48" fill="#81badb"/><rect x="485.67" y="607.70" width="11.48" height="11.48" fill="#81badb"/><rect x="496.90" y="607.70" width="11.48" height="11.48" fill="#9ac8e0"/><rect x="508.13" y="607.70" width="11.48" height="11.48" fill="#9ac8e0"/><rect x="519.36" y="607.70" width="11.48" height="11.48" fill="#9ac8e0"/><rect x="530.59" y="607.70" width="11.48" height="11.48" fill="#c1d9ed"/><rect x="541.82" y="607.70" width="11.48" height="11.48" fill="#c1d9ed"/><rect x="553.05" y="607.70" width="11.48" height="11.48" fill="#add0e6"/><rect x="564.28" y="607.70" width="11.48" height="11.48" fill="#add0e6"/><rect x="575.51" y="607.70" width="11.48" height="11.48" fill="#c1d9ed"/><rect x="586.74" y="607.70" width="11.48" height="11.48" fill="#b7d4ea"/><rect x="597.97" y="607.70" width="11.48" height="11.48" fill="#add0e6"/><rect x="609.20" y="607.70" width="11.48" height="11.48" fill="#c1d9ed"/><rect x="620.43" y="607.70" width="11.48" height="11.48" fill="#c1d9ed"/><rect x="631.66" y="607.70" width="11.48" height="11.48" fill="#c1d9ed"/><rect x="642.89" y="607.70" width="11.48" height="11.48" fill="#add0e6"/><rect x="654.12" y="607.70" width="11.48" height="11.48" fill="#c1d9ed"/><rect x="665.35" y="607.70" width="11.48" height="11.48" fill="#c1d9ed"/><rect x="676.58" y="607.70" width="11.48" height="11.48" fill="#c1d9ed"/><rect x="687.81" y="607.70" width="11.48" height="11.48" fill="#c1d9ed"/><rect x="699.04" y="607.70" width="11.48" height="11.48" fill="#add0e6"/><rect x="710.27" y="607.70" width="9.98" height="11.48" fill="#a4cce3"/><rect x="160.00" y="618.93" width="11.48" height="11.48" fill="#3787c0"/><rect x="171.23" y="618.93" width="11.48" height="11.48" fill="#2e7ebc"/><rect x="182.46" y="618.93" width="11.48" height="11.48" fill="#85bcdc"/><rect x="193.69" y="618.93" width="11.48" height="11.48" fill="#5fa6d1"/><rect x="204.92" y="618.93" width="11.48" height="11.48" fill="#9ac8e0"/><rect x="216.15" y="618.93" width="11.48" height="11.48" fill="#74b3d8"/><rect x="227.38" y="618.93" width="11.48" height="11.48" fill="#b7d4ea"/><rect x="238.61" y="618.93" width="11.48" height="11.48" fill="#c1d9ed"/><rect x="249.84" y="618.93" width="11.48" height="11.48" fill="#f7fbff"/><rect x="261.07" y="618.93" width="11.48" height="11.48" fill="#e1edf8"/><rect x="272.30" y="618.93" width="11.48" height="11.48" fill="#81badb"/><rect x="283.53" y="618.93" width="11.48" height="11.48" fill="#81badb"/><rect x="294.76" y="618.93" width="11.48" height="11.48" fill="#9ac8e0"/><rect x="305.99" y="618.93" width="11.48" height="11.48" fill="#9ac8e0"/><rect x="317.22" y="618.93" width="11.48" height="11.48" fill="#add0e6"/><rect x="328.45" y="618.93" width="11.48" height="11.48" fill="#69add5"/><rect x="339.68" y="618.93" width="11.48" height="11.48" fill="#81badb"/><rect x="350.91" y="618.93" width="11.48" height="11.48" fill="#81badb"/><rect x="362.14" y="618.93" width="11.48" height="11.48" fill="#9ac8e0"/><rect x="373.37" y="618.93" width="11.48" height="11.48" fill="#5fa6d1"/><rect x="384.60" y="618.93" width="11.48" height="11.48" fill="#add0e6"/><rect x="395.83" y="618.93" width="11.48" height="11.48" fill="#add0e6"/><rect x="407.06" y="618.93" width="11.48" height="11.48" fill="#add0e6"/><rect x="418.29" y="618.93" width="11.48" height="11.48" fill="#add0e6"/><rect x="429.52" y="618.93" width="11.48" height="11.48" fill="#9ac8e0"/><rect x="440.75" y="618.93" width="11.48" height="11.48" fill="#81badb"/><rect x="451.98" y="618.93" width="11.48" height="11.48" fill="#9ac8e0"/><rect x="463.21" y="618.93" width="11.48" height="11.48" fill="#9ac8e0"/><rect x="474.44" y="618.93" width="11.48" height="11.48" fill="#81badb"/><rect x="485.67" y="618.93" width="11.48" height="11.48" fill="#81badb"/><rect x="496.90" y="618.93" width="11.48" height="11.48" fill="#8dc1dd"/><rect x="508.13" y="618.93" width="11.48" height="11.48" fill="#8dc1dd"/><rect x="519.36" y="618.93" width="11.48" height="11.48" fill="#9ac8e0"/><rect x="530.59" y="618.93" width="11.48" height="11.48" fill="#c1d9ed"/><rect x="541.82" y="618.93" width="11.48" height="11.48" fill="#c1d9ed"/><rect x="553.05" y="618.93" width="11.48" height="11.48" fill="#add0e6"/><rect x="564.28" y="618.93" width="11.48" height="11.48" fill="#add0e6"/><rect x="575.51" y="618.93" width="11.48" height="11.48" fill="#c1d9ed"/><rect x="586.74" y="618.93" width="11.48" height="11.48" fill="#b7d4ea"/><rect x="597.97" y="618.93" width="11.48" height="11.48" fill="#add0e6"/><rect x="609.20" y="618.93" width="11.48" height="11.48" fill="#c1d9ed"/><rect x="620.43" y="618.93" width="11.48" height="11.48" fill="#c1d9ed"/><rect x="631.66" y="618.93" width="11.48" height="11.48" fill="#c1d9ed"/><rect x="642.89" y="618.93" width="11.48" height="11.48" fill="#add0e6"/><rect x="654.12" y="618.93" width="11.48" height="11.48" fill="#c1d9ed"/><rect x="665.35" y="618.93" width="11.48" height="11.48" fill="#c1d9ed"/><rect x="676.58" y="618.93" width="11.48" height="11.48" fill="#c1d9ed"/><rect x="687.81" y="618.93" width="11.48" height="11.48" fill="#c1d9ed"/><rect x="699.04" y="618.93" width="11.48" height="11.48" fill="#add0e6"/><rect x="710.27" y="618.93" width="9.98" height="11.48" fill="#a4cce3"/><rect x="160.00" y="630.16" width="11.48" height="11.48" fill="#2e7ebc"/><rect x="171.23" y="630.16" width="11.48" height="11.48" fill="#2e7ebc"/><rect x="182.46" y="630.16" width="11.48" height="11.48" fill="#81badb"/><rect x="193.69" y="630.16" width="11.48" height="11.48" fill="#549fcd"/><rect x="204.92" y="630.16" width="11.48" height="11.48" fill="#69add5"/><rect x="216.15" y="630.16" width="11.48" height="11.48" fill="#69add5"/><rect x="227.38" y="630.16" width="11.48" height="11.48" fill="#add0e6"/><rect x="238.61" y="630.16" width="11.48" height="11.48" fill="#f7fbff"/><rect x="249.84" y="630.16" width="11.48" height="11.48" fill="#c1d9ed"/><rect x="261.07" y="630.16" width="11.48" height="11.48" fill="#c1d9ed"/><rect x="272.30" y="630.16" width="11.48" height="11.48" fill="#add0e6"/><rect x="283.53" y="630.16" width="11.48" height="11.48" fill="#a4cce3"/><rect x="294.76" y="630.16" width="11.48" height="11.48" fill="#add0e6"/><rect x="305.99" y="630.16" width="11.48" height="11.48" fill="#add0e6"/><rect x="317.22" y="630.16" width="11.48" height="11.48" fill="#cfe1f2"/><rect x="328.45" y="630.16" width="11.48" height="11.48" fill="#74b3d8"/><rect x="339.68" y="630.16" width="11.48" height="11.48" fill="#81badb"/><rect x="350.91" y="630.16" width="11.48" height="11.48" fill="#81badb"/><rect x="362.14" y="630.16" width="11.48" height="11.48" fill="#69add5"/><rect x="373.37" y="630.16" width="11.48" height="11.48" fill="#3787c0"/><rect x="384.60" y="630.16" width="11.48" height="11.48" fill="#8dc1dd"/><rect x="395.83" y="630.16" width="11.48" height="11.48" fill="#81badb"/><rect x="407.06" y="630.16" width="11.48" height="11.48" fill="#81badb"/><rect x="418.29" y="630.16" width="11.48" height="11.48" fill="#8dc1dd"/><rect x="429.52" y="630.16" width="11.48" height="11.48" fill="#9ac8e0"/><rect x="440.75" y="630.16" width="11.48" height="11.48" fill="#81badb"/><rect x="451.98" y="630.16" width="11.48" height="11.48" fill="#9ac8e0"/><rect x="463.21" y="630.16" width="11.48" height="11.48" fill="#8dc1dd"/><rect x="474.44" y="630.16" width="11.48" height="11.48" fill="#69add5"/><rect x="485.67" y="630.16" width="11.48" height="11.48" fill="#74b3d8"/><rect x="496.90" y="630.16" width="11.48" height="11.48" fill="#81badb"/><rect x="508.13" y="630.16" width="11.48" height="11.48" fill="#81badb"/><rect x="519.36" y="630.16" width="11.48" height="11.48" fill="#81badb"/><rect x="530.59" y="630.16" width="11.48" height="11.48" fill="#add0e6"/><rect x="541.82" y="630.16" width="11.48" height="11.48" fill="#a4cce3"/><rect x="553.05" y="630.16" width="11.48" height="11.48" fill="#79b5d9"/><rect x="564.28" y="630.16" width="11.48" height="11.48" fill="#79b5d9"/><rect x="575.51" y="630.16" width="11.48" height="11.48" fill="#9ac8e0"/><rect x="586.74" y="630.16" width="11.48" height="11.48" fill="#9ac8e0"/><rect x="597.97" y="630.16" width="11.48" height="11.48" fill="#9ac8e0"/><rect x="609.20" y="630.16" width="11.48" height="11.48" fill="#9ac8e0"/><rect x="620.43" y="630.16" width="11.48" height="11.48" fill="#9ac8e0"/><rect x="631.66" y="630.16" width="11.48" height="11.48" fill="#9ac8e0"/><rect x="642.89" y="630.16" width="11.48" height="11.48" fill="#74b3d8"/><rect x="654.12" y="630.16" width="11.48" height="11.48" fill="#9ac8e0"/><rect x="665.35" y="630.16" width="11.48" height="11.48" fill="#9ac8e0"/><rect x="676.58" y="630.16" width="11.48" height="11.48" fill="#74b3d8"/><rect x="687.81" y="630.16" width="11.48" height="11.48" fill="#74b3d8"/><rect x="699.04" y="630.16" width="11.48" height="11.48" fill="#81badb"/><rect x="710.27" y="630.16" width="9.98" height="11.48" fill="#74b3d8"/><rect x="160.00" y="641.39" width="11.48" height="11.48" fill="#74b3d8"/><rect x="171.23" y="641.39" width="11.48" height="11.48" fill="#69add5"/><rect x="182.46" y="641.39" width="11.48" height="11.48" fill="#add0e6"/><rect x="193.69" y="641.39" width="11.48" height="11.48" fill="#add0e6"/><rect x="204.92" y="641.39" width="11.48" height="11.48" fill="#b7d4ea"/><rect x="216.15" y="641.39" width="11.48" height="11.48" fill="#c9ddf0"/><rect x="227.38" y="641.39" width="11.48" height="11.48" fill="#f7fbff"/><rect x="238.61" y="641.39" width="11.48" height="11.48" fill="#add0e6"/><rect x="249.84" y="641.39" width="11.48" height="11.48" fill="#b7d4ea"/><rect x="261.07" y="641.39" width="11.48" height="11.48" fill="#add0e6"/><rect x="272.30" y="641.39" width="11.48" height="11.48" fill="#9ac8e0"/><rect x="283.53" y="641.39" width="11.48" height="11.48" fill="#9ac8e0"/><rect x="294.76" y="641.39" width="11.48" height="11.48" fill="#add0e6"/><rect x="305.99" y="641.39" width="11.48" height="11.48" fill="#add0e6"/><rect x="317.22" y="641.39" width="11.48" height="11.48" fill="#add0e6"/><rect x="328.45" y="641.39" width="11.48" height="11.48" fill="#add0e6"/><rect x="339.68" y="641.39" width="11.48" height="11.48" fill="#9ac8e0"/><rect x="350.91" y="641.39" width="11.48" height="11.48" fill="#9ac8e0"/><rect x="362.14" y="641.39" width="11.48" height="11.48" fill="#69add5"/><rect x="373.37" y="641.39" width="11.48" height="11.48" fill="#4a98c9"/><rect x="384.60" y="641.39" width="11.48" height="11.48" fill="#74b3d8"/><rect x="395.83" y="641.39" width="11.48" height="11.48" fill="#9ac8e0"/><rect x="407.06" y="641.39" width="11.48" height="11.48" fill="#a4cce3"/><rect x="418.29" y="641.39" width="11.48" height="11.48" fill="#69add5"/><rect x="429.52" y="641.39" width="11.48" height="11.48" fill="#549fcd"/><rect x="440.75" y="641.39" width="11.48" height="11.48" fill="#4090c5"/><rect x="451.98" y="641.39" width="11.48" height="11.48" fill="#549fcd"/><rect x="463.21" y="641.39" width="11.48" height="11.48" fill="#4090c5"/><rect x="474.44" y="641.39" width="11.48" height="11.48" fill="#4090c5"/><rect x="485.67" y="641.39" width="11.48" height="11.48" fill="#4090c5"/><rect x="496.90" y="641.39" width="11.48" height="11.48" fill="#4090c5"/><rect x="508.13" y="641.39" width="11.48" height="11.48" fill="#4090c5"/><rect x="519.36" y="641.39" width="11.48" height="11.48" fill="#4090c5"/><rect x="530.59" y="641.39" width="11.48" height="11.48" fill="#b7d4ea"/><rect x="541.82" y="641.39" width="11.48" height="11.48" fill="#a4cce3"/><rect x="553.05" y="641.39" width="11.48" height="11.48" fill="#81badb"/><rect x="564.28" y="641.39" width="11.48" height="11.48" fill="#81badb"/><rect x="575.51" y="641.39" width="11.48" height="11.48" fill="#b7d4ea"/><rect x="586.74" y="641.39" width="11.48" height="11.48" fill="#b7d4ea"/><rect x="597.97" y="641.39" width="11.48" height="11.48" fill="#72b2d8"/><rect x="609.20" y="641.39" width="11.48" height="11.48" fill="#81badb"/><rect x="620.43" y="641.39" width="11.48" height="11.48" fill="#81badb"/><rect x="631.66" y="641.39" width="11.48" height="11.48" fill="#81badb"/><rect x="642.89" y="641.39" width="11.48" height="11.48" fill="#5fa6d1"/><rect x="654.12" y="641.39" width="11.48" height="11.48" fill="#7cb7da"/><rect x="665.35" y="641.39" width="11.48" height="11.48" fill="#7cb7da"/><rect x="676.58" y="641.39" width="11.48" height="11.48" fill="#7cb7da"/><rect x="687.81" y="641.39" width="11.48" height="11.48" fill="#7cb7da"/><rect x="699.04" y="641.39" width="11.48" height="11.48" fill="#7cb7da"/><rect x="710.27" y="641.39" width="9.98" height="11.48" fill="#7cb7da"/><rect x="160.00" y="652.62" width="11.48" height="11.48" fill="#81badb"/><rect x="171.23" y="652.62" width="11.48" height="11.48" fill="#81badb"/><rect x="182.46" y="652.62" width="11.48" height="11.48" fill="#9ac8e0"/><rect x="193.69" y="652.62" width="11.48" height="11.48" fill="#add0e6"/><rect x="204.92" y="652.62" width="11.48" height="11.48" fill="#9ac8e0"/><rect x="216.15" y="652.62" width="11.48" height="11.48" fill="#f7fbff"/><rect x="227.38" y="652.62" width="11.48" height="11.48" fill="#c9ddf0"/><rect x="238.61" y="652.62" width="11.48" height="11.48" fill="#69add5"/><rect x="249.84" y="652.62" width="11.48" height="11.48" fill="#74b3d8"/><rect x="261.07" y="652.62" width="11.48" height="11.48" fill="#74b3d8"/><rect x="272.30" y="652.62" width="11.48" height="11.48" fill="#69add5"/><rect x="283.53" y="652.62" width="11.48" height="11.48" fill="#69add5"/><rect x="294.76" y="652.62" width="11.48" height="11.48" fill="#74b3d8"/><rect x="305.99" y="652.62" width="11.48" height="11.48" fill="#9ac8e0"/><rect x="317.22" y="652.62" width="11.48" height="11.48" fill="#81badb"/><rect x="328.45" y="652.62" width="11.48" height="11.48" fill="#c1d9ed"/><rect x="339.68" y="652.62" width="11.48" height="11.48" fill="#81badb"/><rect x="350.91" y="652.62" width="11.48" height="11.48" fill="#9ac8e0"/><rect x="362.14" y="652.62" width="11.48" height="11.48" fill="#3787c0"/><rect x="373.37" y="652.62" width="11.48" height="11.48" fill="#4090c5"/><rect x="384.60" y="652.62" width="11.48" height="11.48" fill="#4a98c9"/><rect x="395.83" y="652.62" width="11.48" height="11.48" fill="#74b3d8"/><rect x="407.06" y="652.62" width="11.48" height="11.48" fill="#81badb"/><rect x="418.29" y="652.62" width="11.48" height="11.48" fill="#3787c0"/><rect x="429.52" y="652.62" width="11.48" height="11.48" fill="#2e7ebc"/><rect x="440.75" y="652.62" width="11.48" height="11.48" fill="#2e7ebc"/><rect x="451.98" y="652.62" width="11.48" height="11.48" fill="#2e7ebc"/><rect x="463.21" y="652.62" width="11.48" height="11.48" fill="#1c6bb0"/><rect x="474.44" y="652.62" width="11.48" height="11.48" fill="#1c6bb0"/><rect x="485.67" y="652.62" width="11.48" height="11.48" fill="#2e7ebc"/><rect x="496.90" y="652.62" width="11.48" height="11.48" fill="#2474b7"/><rect x="508.13" y="652.62" width="11.48" height="11.48" fill="#1c6bb0"/><rect x="519.36" y="652.62" width="11.48" height="11.48" fill="#2474b7"/><rect x="530.59" y="652.62" width="11.48" height="11.48" fill="#81badb"/><rect x="541.82" y="652.62" width="11.48" height="11.48" fill="#69add5"/><rect x="553.05" y="652.62" width="11.48" height="11.48" fill="#69add5"/><rect x="564.28" y="652.62" width="11.48" height="11.48" fill="#69add5"/><rect x="575.51" y="652.62" width="11.48" height="11.48" fill="#9ac8e0"/><rect x="586.74" y="652.62" width="11.48" height="11.48" fill="#9ac8e0"/><rect x="597.97" y="652.62" width="11.48" height="11.48" fill="#4090c5"/><rect x="609.20" y="652.62" width="11.48" height="11.48" fill="#4695c8"/><rect x="620.43" y="652.62" width="11.48" height="11.48" fill="#4695c8"/><rect x="631.66" y="652.62" width="11.48" height="11.48" fill="#4695c8"/><rect x="642.89" y="652.62" width="11.48" height="11.48" fill="#3383be"/><rect x="654.12" y="652.62" width="11.48" height="11.48" fill="#4695c8"/><rect x="665.35" y="652.62" width="11.48" height="11.48" fill="#4695c8"/><rect x="676.58" y="652.62" width="11.48" height="11.48" fill="#4695c8"/><rect x="687.81" y="652.62" width="11.48" height="11.48" fill="#4695c8"/><rect x="699.04" y="652.62" width="11.48" height="11.48" fill="#4695c8"/><rect x="710.27" y="652.62" width="9.98" height="11.48" fill="#4695c8"/><rect x="160.00" y="663.85" width="11.48" height="11.48" fill="#4090c5"/><rect x="171.23" y="663.85" width="11.48" height="11.48" fill="#2e7ebc"/><rect x="182.46" y="663.85" width="11.48" height="11.48" fill="#549fcd"/><rect x="193.69" y="663.85" width="11.48" height="11.48" fill="#549fcd"/><rect x="204.92" y="663.85" width="11.48" height="11.48" fill="#f7fbff"/><rect x="216.15" y="663.85" width="11.48" height="11.48" fill="#9ac8e0"/><rect x="227.38" y="663.85" width="11.48" height="11.48" fill="#b7d4ea"/><rect x="238.61" y="663.85" width="11.48" height="11.48" fill="#69add5"/><rect x="249.84" y="663.85" width="11.48" height="11.48" fill="#9ac8e0"/><rect x="261.07" y="663.85" width="11.48" height="11.48" fill="#9ac8e0"/><rect x="272.30" y="663.85" width="11.48" height="11.48" fill="#4090c5"/><rect x="283.53" y="663.85" width="11.48" height="11.48" fill="#4090c5"/><rect x="294.76" y="663.85" width="11.48" height="11.48" fill="#4090c5"/><rect x="305.99" y="663.85" width="11.48" height="11.48" fill="#549fcd"/><rect x="317.22" y="663.85" width="11.48" height="11.48" fill="#549fcd"/><rect x="328.45" y="663.85" width="11.48" height="11.48" fill="#549fcd"/><rect x="339.68" y="663.85" width="11.48" height="11.48" fill="#3787c0"/><rect x="350.91" y="663.85" width="11.48" height="11.48" fill="#4090c5"/><rect x="362.14" y="663.85" width="11.48" height="11.48" fill="#add0e6"/><rect x="373.37" y="663.85" width="11.48" height="11.48" fill="#3787c0"/><rect x="384.60" y="663.85" width="11.48" height="11.48" fill="#69add5"/><rect x="395.83" y="663.85" width="11.48" height="11.48" fill="#9ac8e0"/><rect x="407.06" y="663.85" width="11.48" height="11.48" fill="#9ac8e0"/><rect x="418.29" y="663.85" width="11.48" height="11.48" fill="#4a98c9"/><rect x="429.52" y="663.85" width="11.48" height="11.48" fill="#2e7ebc"/><rect x="440.75" y="663.85" width="11.48" height="11.48" fill="#2e7ebc"/><rect x="451.98" y="663.85" width="11.48" height="11.48" fill="#2e7ebc"/><rect x="463.21" y="663.85" width="11.48" height="11.48" fill="#2474b7"/><rect x="474.44" y="663.85" width="11.48" height="11.48" fill="#2e7ebc"/><rect x="485.67" y="663.85" width="11.48" height="11.48" fill="#2e7ebc"/><rect x="496.90" y="663.85" width="11.48" height="11.48" fill="#3787c0"/><rect x="508.13" y="663.85" width="11.48" height="11.48" fill="#3787c0"/><rect x="519.36" y="663.85" width="11.48" height="11.48" fill="#3787c0"/><rect x="530.59" y="663.85" width="11.48" height="11.48" fill="#9ac8e0"/><rect x="541.82" y="663.85" width="11.48" height="11.48" fill="#81badb"/><rect x="553.05" y="663.85" width="11.48" height="11.48" fill="#81badb"/><rect x="564.28" y="663.85" width="11.48" height="11.48" fill="#81badb"/><rect x="575.51" y="663.85" width="11.48" height="11.48" fill="#add0e6"/><rect x="586.74" y="663.85" width="11.48" height="11.48" fill="#add0e6"/><rect x="597.97" y="663.85" width="11.48" height="11.48" fill="#81badb"/><rect x="609.20" y="663.85" width="11.48" height="11.48" fill="#74b3d8"/><rect x="620.43" y="663.85" width="11.48" height="11.48" fill="#74b3d8"/><rect x="631.66" y="663.85" width="11.48" height="11.48" fill="#74b3d8"/><rect x="642.89" y="663.85" width="11.48" height="11.48" fill="#69add5"/><rect x="654.12" y="663.85" width="11.48" height="11.48" fill="#74b3d8"/><rect x="665.35" y="663.85" width="11.48" height="11.48" fill="#74b3d8"/><rect x="676.58" y="663.85" width="11.48" height="11.48" fill="#9ac8e0"/><rect x="687.81" y="663.85" width="11.48" height="11.48" fill="#9ac8e0"/><rect x="699.04" y="663.85" width="11.48" height="11.48" fill="#9ac8e0"/><rect x="710.27" y="663.85" width="9.98" height="11.48" fill="#9ac8e0"/><rect x="160.00" y="675.08" width="11.48" height="11.48" fill="#cfe1f2"/><rect x="171.23" y="675.08" width="11.48" height="11.48" fill="#c1d9ed"/><rect x="182.46" y="675.08" width="11.48" height="11.48" fill="#cfe1f2"/><rect x="193.69" y="675.08" width="11.48" height="11.48" fill="#f7fbff"/><rect x="204.92" y="675.08" width="11.48" height="11.48" fill="#549fcd"/><rect x="216.15" y="675.08" width="11.48" height="11.48" fill="#add0e6"/><rect x="227.38" y="675.08" width="11.48" height="11.48" fill="#add0e6"/><rect x="238.61" y="675.08" width="11.48" height="11.48" fill="#549fcd"/><rect x="249.84" y="675.08" width="11.48" height="11.48" fill="#5fa6d1"/><rect x="261.07" y="675.08" width="11.48" height="11.48" fill="#5fa6d1"/><rect x="272.30" y="675.08" width="11.48" height="11.48" fill="#69add5"/><rect x="283.53" y="675.08" width="11.48" height="11.48" fill="#549fcd"/><rect x="294.76" y="675.08" width="11.48" height="11.48" fill="#81badb"/><rect x="305.99" y="675.08" width="11.48" height="11.48" fill="#9ac8e0"/><rect x="317.22" y="675.08" width="11.48" height="11.48" fill="#5fa6d1"/><rect x="328.45" y="675.08" width="11.48" height="11.48" fill="#add0e6"/><rect x="339.68" y="675.08" width="11.48" height="11.48" fill="#5fa6d1"/><rect x="350.91" y="675.08" width="11.48" height="11.48" fill="#5fa6d1"/><rect x="362.14" y="675.08" width="11.48" height="11.48" fill="#1562a9"/><rect x="373.37" y="675.08" width="11.48" height="11.48" fill="#1c6bb0"/><rect x="384.60" y="675.08" width="11.48" height="11.48" fill="#2e7ebc"/><rect x="395.83" y="675.08" width="11.48" height="11.48" fill="#4090c5"/><rect x="407.06" y="675.08" width="11.48" height="11.48" fill="#4090c5"/><rect x="418.29" y="675.08" width="11.48" height="11.48" fill="#1c6bb0"/><rect x="429.52" y="675.08" width="11.48" height="11.48" fill="#1c6bb0"/><rect x="440.75" y="675.08" width="11.48" height="11.48" fill="#0e59a2"/><rect x="451.98" y="675.08" width="11.48" height="11.48" fill="#0e59a2"/><rect x="463.21" y="675.08" width="11.48" height="11.48" fill="#0e59a2"/><rect x="474.44" y="675.08" width="11.48" height="11.48" fill="#0e59a2"/><rect x="485.67" y="675.08" width="11.48" height="11.48" fill="#0e59a2"/><rect x="496.90" y="675.08" width="11.48" height="11.48" fill="#0e59a2"/><rect x="508.13" y="675.08" width="11.48" height="11.48" fill="#0e59a2"/><rect x="519.36" y="675.08" width="11.48" height="11.48" fill="#0e59a2"/><rect x="530.59" y="675.08" width="11.48" height="11.48" fill="#4090c5"/><rect x="541.82" y="675.08" width="11.48" height="11.48" fill="#2e7ebc"/><rect x="553.05" y="675.08" width="11.48" height="11.48" fill="#2e7ebc"/><rect x="564.28" y="675.08" width="11.48" height="11.48" fill="#2e7ebc"/><rect x="575.51" y="675.08" width="11.48" height="11.48" fill="#4090c5"/><rect x="586.74" y="675.08" width="11.48" height="11.48" fill="#4a98c9"/><rect x="597.97" y="675.08" width="11.48" height="11.48" fill="#1c6bb0"/><rect x="609.20" y="675.08" width="11.48" height="11.48" fill="#2474b7"/><rect x="620.43" y="675.08" width="11.48" height="11.48" fill="#1c6bb0"/><rect x="631.66" y="675.08" width="11.48" height="11.48" fill="#1c6bb0"/><rect x="642.89" y="675.08" width="11.48" height="11.48" fill="#0e59a2"/><rect x="654.12" y="675.08" width="11.48" height="11.48" fill="#1c6bb0"/><rect x="665.35" y="675.08" width="11.48" height="11.48" fill="#1c6bb0"/><rect x="676.58" y="675.08" width="11.48" height="11.48" fill="#1c6bb0"/><rect x="687.81" y="675.08" width="11.48" height="11.48" fill="#1c6bb0"/><rect x="699.04" y="675.08" width="11.48" height="11.48" fill="#1c6bb0"/><rect x="710.27" y="675.08" width="9.98" height="11.48" fill="#1c6bb0"/><rect x="160.00" y="686.31" width="11.48" height="11.48" fill="#b7d4ea"/><rect x="171.23" y="686.31" width="11.48" height="11.48" fill="#9ac8e0"/><rect x="182.46" y="686.31" width="11.48" height="11.48" fill="#f7fbff"/><rect x="193.69" y="686.31" width="11.48" height="11.48" fill="#cfe1f2"/><rect x="204.92" y="686.31" width="11.48" height="11.48" fill="#549fcd"/><rect x="216.15" y="686.31" width="11.48" height="11.48" fill="#9ac8e0"/><rect x="227.38" y="686.31" width="11.48" height="11.48" fill="#add0e6"/><rect x="238.61" y="686.31" width="11.48" height="11.48" fill="#81badb"/><rect x="249.84" y="686.31" width="11.48" height="11.48" fill="#85bcdc"/><rect x="261.07" y="686.31" width="11.48" height="11.48" fill="#85bcdc"/><rect x="272.30" y="686.31" width="11.48" height="11.48" fill="#8dc1dd"/><rect x="283.53" y="686.31" width="11.48" height="11.48" fill="#81badb"/><rect x="294.76" y="686.31" width="11.48" height="11.48" fill="#add0e6"/><rect x="305.99" y="686.31" width="11.48" height="11.48" fill="#c1d9ed"/><rect x="317.22" y="686.31" width="11.48" height="11.48" fill="#9ac8e0"/><rect x="328.45" y="686.31" width="11.48" height="11.48" fill="#add0e6"/><rect x="339.68" y="686.31" width="11.48" height="11.48" fill="#69add5"/><rect x="350.91" y="686.31" width="11.48" height="11.48" fill="#69add5"/><rect x="362.14" y="686.31" width="11.48" height="11.48" fill="#2e7ebc"/><rect x="373.37" y="686.31" width="11.48" height="11.48" fill="#1c6bb0"/><rect x="384.60" y="686.31" width="11.48" height="11.48" fill="#3787c0"/><rect x="395.83" y="686.31" width="11.48" height="11.48" fill="#4a98c9"/><rect x="407.06" y="686.31" width="11.48" height="11.48" fill="#549fcd"/><rect x="418.29" y="686.31" width="11.48" height="11.48" fill="#2e7ebc"/><rect x="429.52" y="686.31" width="11.48" height="11.48" fill="#2e7ebc"/><rect x="440.75" y="686.31" width="11.48" height="11.48" fill="#2474b7"/><rect x="451.98" y="686.31" width="11.48" height="11.48" fill="#2474b7"/><rect x="463.21" y="686.31" width="11.48" height="11.48" fill="#1c6bb0"/><rect x="474.44" y="686.31" width="11.48" height="11.48" fill="#1562a9"/><rect x="485.67" y="686.31" width="11.48" height="11.48" fill="#1c6bb0"/><rect x="496.90" y="686.31" width="11.48" height="11.48" fill="#1c6bb0"/><rect x="508.13" y="686.31" width="11.48" height="11.48" fill="#1c6bb0"/><rect x="519.36" y="686.31" width="11.48" height="11.48" fill="#1c6bb0"/><rect x="530.59" y="686.31" width="11.48" height="11.48" fill="#549fcd"/><rect x="541.82" y="686.31" width="11.48" height="11.48" fill="#4090c5"/><rect x="553.05" y="686.31" width="11.48" height="11.48" fill="#2e7ebc"/><rect x="564.28" y="686.31" width="11.48" height="11.48" fill="#2e7ebc"/><rect x="575.51" y="686.31" width="11.48" height="11.48" fill="#549fcd"/><rect x="586.74" y="686.31" width="11.48" height="11.48" fill="#549fcd"/><rect x="597.97" y="686.31" width="11.48" height="11.48" fill="#2e7ebc"/><rect x="609.20" y="686.31" width="11.48" height="11.48" fill="#2e7ebc"/><rect x="620.43" y="686.31" width="11.48" height="11.48" fill="#2e7ebc"/><rect x="631.66" y="686.31" width="11.48" height="11.48" fill="#2e7ebc"/><rect x="642.89" y="686.31" width="11.48" height="11.48" fill="#1c6bb0"/><rect x="654.12" y="686.31" width="11.48" height="11.48" fill="#2e7ebc"/><rect x="665.35" y="686.31" width="11.48" height="11.48" fill="#2e7ebc"/><rect x="676.58" y="686.31" width="11.48" height="11.48" fill="#2e7ebc"/><rect x="687.81" y="686.31" width="11.48" height="11.48" fill="#2e7ebc"/><rect x="699.04" y="686.31" width="11.48" height="11.48" fill="#2e7ebc"/><rect x="710.27" y="686.31" width="9.98" height="11.48" fill="#2e7ebc"/><rect x="160.00" y="697.54" width="11.48" height="11.48" fill="#cfe1f2"/><rect x="171.23" y="697.54" width="11.48" height="11.48" fill="#f7fbff"/><rect x="182.46" y="697.54" width="11.48" height="11.48" fill="#9ac8e0"/><rect x="193.69" y="697.54" width="11.48" height="11.48" fill="#c1d9ed"/><rect x="204.92" y="697.54" width="11.48" height="11.48" fill="#2e7ebc"/><rect x="216.15" y="697.54" width="11.48" height="11.48" fill="#81badb"/><rect x="227.38" y="697.54" width="11.48" height="11.48" fill="#69add5"/><rect x="238.61" y="697.54" width="11.48" height="11.48" fill="#2e7ebc"/><rect x="249.84" y="697.54" width="11.48" height="11.48" fill="#2e7ebc"/><rect x="261.07" y="697.54" width="11.48" height="11.48" fill="#2e7ebc"/><rect x="272.30" y="697.54" width="11.48" height="11.48" fill="#69add5"/><rect x="283.53" y="697.54" width="11.48" height="11.48" fill="#69add5"/><rect x="294.76" y="697.54" width="11.48" height="11.48" fill="#4090c5"/><rect x="305.99" y="697.54" width="11.48" height="11.48" fill="#549fcd"/><rect x="317.22" y="697.54" width="11.48" height="11.48" fill="#3787c0"/><rect x="328.45" y="697.54" width="11.48" height="11.48" fill="#81badb"/><rect x="339.68" y="697.54" width="11.48" height="11.48" fill="#3787c0"/><rect x="350.91" y="697.54" width="11.48" height="11.48" fill="#3787c0"/><rect x="362.14" y="697.54" width="11.48" height="11.48" fill="#08509b"/><rect x="373.37" y="697.54" width="11.48" height="11.48" fill="#083471"/><rect x="384.60" y="697.54" width="11.48" height="11.48" fill="#0e59a2"/><rect x="395.83" y="697.54" width="11.48" height="11.48" fill="#1c6bb0"/><rect x="407.06" y="697.54" width="11.48" height="11.48" fill="#1c6bb0"/><rect x="418.29" y="697.54" width="11.48" height="11.48" fill="#0e59a2"/><rect x="429.52" y="697.54" width="11.48" height="11.48" fill="#08478d"/><rect x="440.75" y="697.54" width="11.48" height="11.48" fill="#08478d"/><rect x="451.98" y="697.54" width="11.48" height="11.48" fill="#08478d"/><rect x="463.21" y="697.54" width="11.48" height="11.48" fill="#083d7f"/><rect x="474.44" y="697.54" width="11.48" height="11.48" fill="#083471"/><rect x="485.67" y="697.54" width="11.48" height="11.48" fill="#083d7f"/><rect x="496.90" y="697.54" width="11.48" height="11.48" fill="#083471"/><rect x="508.13" y="697.54" width="11.48" height="11.48" fill="#083471"/><rect x="519.36" y="697.54" width="11.48" height="11.48" fill="#083471"/><rect x="530.59" y="697.54" width="11.48" height="11.48" fill="#2474b7"/><rect x="541.82" y="697.54" width="11.48" height="11.48" fill="#1562a9"/><rect x="553.05" y="697.54" width="11.48" height="11.48" fill="#0e59a2"/><rect x="564.28" y="697.54" width="11.48" height="11.48" fill="#0e59a2"/><rect x="575.51" y="697.54" width="11.48" height="11.48" fill="#2e7ebc"/><rect x="586.74" y="697.54" width="11.48" height="11.48" fill="#2e7ebc"/><rect x="597.97" y="697.54" width="11.48" height="11.48" fill="#0e59a2"/><rect x="609.20" y="697.54" width="11.48" height="11.48" fill="#0e59a2"/><rect x="620.43" y="697.54" width="11.48" height="11.48" fill="#0e59a2"/><rect x="631.66" y="697.54" width="11.48" height="11.48" fill="#0e59a2"/><rect x="642.89" y="697.54" width="11.48" height="11.48" fill="#083d7f"/><rect x="654.12" y="697.54" width="11.48" height="11.48" fill="#08509b"/><rect x="665.35" y="697.54" width="11.48" height="11.48" fill="#08509b"/><rect x="676.58" y="697.54" width="11.48" height="11.48" fill="#08478d"/><rect x="687.81" y="697.54" width="11.48" height="11.48" fill="#08478d"/><rect x="699.04" y="697.54" width="11.48" height="11.48" fill="#08478d"/><rect x="710.27" y="697.54" width="9.98" height="11.48" fill="#08478d"/><rect x="160.00" y="708.77" width="11.48" height="11.48" fill="#f7fbff"/><rect x="171.23" y="708.77" width="11.48" height="11.48" fill="#cfe1f2"/><rect x="182.46" y="708.77" width="11.48" height="11.48" fill="#b7d4ea"/><rect x="193.69" y="708.77" width="11.48" height="11.48" fill="#cfe1f2"/><rect x="204.92" y="708.77" width="11.48" height="11.48" fill="#4090c5"/><rect x="216.15" y="708.77" width="11.48" height="11.48" fill="#81badb"/><rect x="227.38" y="708.77" width="11.48" height="11.48" fill="#74b3d8"/><rect x="238.61" y="708.77" width="11.48" height="11.48" fill="#2e7ebc"/><rect x="249.84" y="708.77" width="11.48" height="11.48" fill="#3787c0"/><rect x="261.07" y="708.77" width="11.48" height="11.48" fill="#3787c0"/><rect x="272.30" y="708.77" width="11.48" height="11.48" fill="#549fcd"/><rect x="283.53" y="708.77" width="11.48" height="11.48" fill="#549fcd"/><rect x="294.76" y="708.77" width="11.48" height="11.48" fill="#549fcd"/><rect x="305.99" y="708.77" width="11.48" height="11.48" fill="#69add5"/><rect x="317.22" y="708.77" width="11.48" height="11.48" fill="#4090c5"/><rect x="328.45" y="708.77" width="11.48" height="11.48" fill="#81badb"/><rect x="339.68" y="708.77" width="11.48" height="11.48" fill="#3787c0"/><rect x="350.91" y="708.77" width="11.48" height="11.48" fill="#3787c0"/><rect x="362.14" y="708.77" width="11.48" height="11.48" fill="#0e59a2"/><rect x="373.37" y="708.77" width="11.48" height="11.48" fill="#08478d"/><rect x="384.60" y="708.77" width="11.48" height="11.48" fill="#0e59a2"/><rect x="395.83" y="708.77" width="11.48" height="11.48" fill="#2e7ebc"/><rect x="407.06" y="708.77" width="11.48" height="11.48" fill="#2e7ebc"/><rect x="418.29" y="708.77" width="11.48" height="11.48" fill="#0e59a2"/><rect x="429.52" y="708.77" width="11.48" height="11.48" fill="#08509b"/><rect x="440.75" y="708.77" width="11.48" height="11.48" fill="#08478d"/><rect x="451.98" y="708.77" width="11.48" height="11.48" fill="#08478d"/><rect x="463.21" y="708.77" width="11.48" height="11.48" fill="#083d7f"/><rect x="474.44" y="708.77" width="11.48" height="11.48" fill="#083471"/><rect x="485.67" y="708.77" width="11.48" height="11.48" fill="#083d7f"/><rect x="496.90" y="708.77" width="11.48" height="11.48" fill="#083d7f"/><rect x="508.13" y="708.77" width="11.48" height="11.48" fill="#083d7f"/><rect x="519.36" y="708.77" width="11.48" height="11.48" fill="#083471"/><rect x="530.59" y="708.77" width="11.48" height="11.48" fill="#2e7ebc"/><rect x="541.82" y="708.77" width="11.48" height="11.48" fill="#1c6bb0"/><rect x="553.05" y="708.77" width="11.48" height="11.48" fill="#1562a9"/><rect x="564.28" y="708.77" width="11.48" height="11.48" fill="#1562a9"/><rect x="575.51" y="708.77" width="11.48" height="11.48" fill="#2e7ebc"/><rect x="586.74" y="708.77" width="11.48" height="11.48" fill="#2e7ebc"/><rect x="597.97" y="708.77" width="11.48" height="11.48" fill="#0e59a2"/><rect x="609.20" y="708.77" width="11.48" height="11.48" fill="#0e59a2"/><rect x="620.43" y="708.77" width="11.48" height="11.48" fill="#0e59a2"/><rect x="631.66" y="708.77" width="11.48" height="11.48" fill="#0e59a2"/><rect x="642.89" y="708.77" width="11.48" height="11.48" fill="#083d7f"/><rect x="654.12" y="708.77" width="11.48" height="11.48" fill="#0e59a2"/><rect x="665.35" y="708.77" width="11.48" height="11.48" fill="#0e59a2"/><rect x="676.58" y="708.77" width="11.48" height="11.48" fill="#0e59a2"/><rect x="687.81" y="708.77" width="11.48" height="11.48" fill="#0e59a2"/><rect x="699.04" y="708.77" width="11.48" height="11.48" fill="#0e59a2"/><rect x="710.27" y="708.77" width="9.98" height="11.48" fill="#0e59a2"/></g>
<defs><linearGradient id="cbg" x1="0" y1="0" x2="0" y2="1"><stop offset="0.0000" stop-color="#08306b"/><stop offset="0.0312" stop-color="#083776"/><stop offset="0.0625" stop-color="#084082"/><stop offset="0.0938" stop-color="#08488e"/><stop offset="0.1250" stop-color="#08509b"/><stop offset="0.1562" stop-color="#0e58a2"/><stop offset="0.1875" stop-color="#1460a8"/><stop offset="0.2188" stop-color="#1a68ae"/><stop offset="0.2500" stop-color="#2070b4"/><stop offset="0.2812" stop-color="#2979b9"/><stop offset="0.3125" stop-color="#3181bd"/><stop offset="0.3438" stop-color="#3989c1"/><stop offset="0.3750" stop-color="#4191c6"/><stop offset="0.4062" stop-color="#4b98ca"/><stop offset="0.4375" stop-color="#56a0ce"/><stop offset="0.4688" stop-color="#60a7d2"/><stop offset="0.5000" stop-color="#6aaed6"/><stop offset="0.5312" stop-color="#77b5d9"/><stop offset="0.5625" stop-color="#84bcdb"/><stop offset="0.5938" stop-color="#91c3de"/><stop offset="0.6250" stop-color="#9dcae1"/><stop offset="0.6562" stop-color="#a8cee4"/><stop offset="0.6875" stop-color="#b2d2e8"/><stop offset="0.7188" stop-color="#bcd7eb"/><stop offset="0.7500" stop-color="#c6dbef"/><stop offset="0.7812" stop-color="#ccdff1"/><stop offset="0.8125" stop-color="#d2e3f3"/><stop offset="0.8438" stop-color="#d8e7f5"/><stop offset="0.8750" stop-color="#deebf7"/><stop offset="0.9062" stop-color="#e4eff9"/><stop offset="0.9375" stop-color="#eaf3fb"/><stop offset="0.9688" stop-color="#f1f7fd"/><stop offset="1.0000" stop-color="#f7fbff"/></linearGradient></defs>
<rect x="744" y="160" width="16" height="560" fill="url(#cbg)"/>
<g fill="none" stroke-width="1.39">
<path d="M165.60 136.00V113.65H176.80V136.00M188.00 136.00V110.70H199.20V136.00M171.20 113.65V90.70H193.60V110.70M221.60 136.00V108.60H232.80V136.00M210.40 136.00V89.70H227.20V108.60M255.20 136.00V131.50H266.40V136.00M244.00 136.00V106.50H260.80V131.50M277.60 136.00V130.60H288.80V136.00M311.20 136.00V114.50H322.40V136.00M300.00 136.00V108.90H316.80V114.50M344.80 136.00V119.60H356.00V136.00M333.60 136.00V102.30H350.40V119.60M308.40 108.90V93.90H342.00V102.30M283.20 130.60V80.90H325.20V93.90M252.40 106.50V72.70H304.20V80.90M218.80 89.70V53.40H278.30V72.70M182.40 90.70V45.70H248.55V53.40" stroke="#008000"/><path d="M400.80 136.00V130.10H412.00V136.00M389.60 136.00V110.90H406.40V130.10M378.40 136.00V97.20H398.00V110.90M434.40 136.00V128.35H445.60V136.00M456.80 136.00V128.35H468.00V136.00M440.00 128.35V120.10H462.40V128.35M490.40 136.00V128.35H501.60V136.00M479.20 136.00V124.70H496.00V128.35M512.80 136.00V123.60H524.00V136.00M487.60 124.70V118.90H518.40V123.60M451.20 120.10V115.75H503.00V118.90M423.20 136.00V110.85H477.10V115.75M535.20 136.00V126.25H546.40V136.00M557.60 136.00V130.60H568.80V136.00M580.00 136.00V129.40H591.20V136.00M563.20 130.60V115.75H585.60V129.40M540.80 126.25V108.75H574.40V115.75M624.80 136.00V128.70H636.00V136.00M658.40 136.00V129.50H669.60V136.00M647.20 136.00V122.50H664.00V129.50M630.40 128.70V116.80H655.60V122.50M613.60 136.00V115.80H643.00V116.80M680.80 136.00V132.40H692.00V136.00M703.20 136.00V129.50H714.40V136.00M686.40 132.40V113.20H708.80V129.50M628.30 115.80V101.50H697.60V113.20M602.40 136.00V95.80H662.95V101.50M557.60 108.75V92.60H632.67V95.80M450.15 110.85V77.25H595.14V92.60M388.20 97.20V53.60H522.64V77.25" stroke="#ff0000"/><path d="M367.20 136.00V37.80H455.42V53.60M215.47 45.70V6.30H411.31V37.80" stroke="#0000ff"/>
<path d="M136.00 714.40H122.85V703.20H136.00M136.00 692.00H121.12V680.80H136.00M122.85 708.80H109.35V686.40H121.12M136.00 658.40H119.88V647.20H136.00M136.00 669.60H108.76V652.80H119.88M136.00 624.80H133.35V613.60H136.00M136.00 636.00H118.65V619.20H133.35M136.00 602.40H132.82V591.20H136.00M136.00 568.80H123.35V557.60H136.00M136.00 580.00H120.06V563.20H123.35M136.00 535.20H126.35V524.00H136.00M136.00 546.40H116.18V529.60H126.35M120.06 571.60H111.24V538.00H116.18M132.82 596.80H103.59V554.80H111.24M118.65 627.60H98.76V575.80H103.59M108.76 661.20H87.41V601.70H98.76M109.35 697.60H82.88V631.45H87.41" stroke="#008000"/><path d="M136.00 479.20H132.53V468.00H136.00M136.00 490.40H121.24V473.60H132.53M136.00 501.60H113.18V482.00H121.24M136.00 445.60H131.50V434.40H136.00M136.00 423.20H131.50V412.00H136.00M131.50 440.00H126.65V417.60H131.50M136.00 389.60H131.50V378.40H136.00M136.00 400.80H129.35V384.00H131.50M136.00 367.20H128.71V356.00H136.00M129.35 392.40H125.94V361.60H128.71M126.65 428.80H124.09V377.00H125.94M136.00 456.80H121.21V402.90H124.09M136.00 344.80H130.26V333.60H136.00M136.00 322.40H132.82V311.20H136.00M136.00 300.00H132.12V288.80H136.00M132.82 316.80H124.09V294.40H132.12M130.26 339.20H119.97V305.60H124.09M136.00 255.20H131.71V244.00H136.00M136.00 221.60H132.18V210.40H136.00M136.00 232.80H128.06V216.00H132.18M131.71 249.60H124.71V224.40H128.06M136.00 266.40H124.12V237.00H124.71M136.00 199.20H133.88V188.00H136.00M136.00 176.80H132.18V165.60H136.00M133.88 193.60H122.59V171.20H132.18M124.12 251.70H115.71V182.40H122.59M136.00 277.60H112.35V217.05H115.71M119.97 322.40H110.47V247.32H112.35M121.21 429.85H101.44V284.86H110.47M113.18 491.80H87.53V357.36H101.44" stroke="#ff0000"/><path d="M136.00 512.80H78.24V424.58H87.53M82.88 664.52H59.71V468.69H78.24" stroke="#0000ff"/>
</g>
<g fill="none" stroke="#000" stroke-width="1">
<rect x="160.5" y="0.5" width="560" height="136"/>
<rect x="56.5" y="160.5" width="80" height="560"/>
<rect x="160.5" y="160.5" width="560" height="560"/>
<rect x="744.5" y="160.5" width="16" height="560"/>
</g>
<g style="opacity:0.999"><text transform="translate(153.4 136.90) scale(1.05 1)" text-anchor="end" dominant-baseline="central">0.0</text><path d="M160.5 136.50H166.5M720.5 136.50H714.5" stroke="#000" stroke-width="1"/><text transform="translate(153.4 117.60) scale(1.05 1)" text-anchor="end" dominant-baseline="central">0.1</text><path d="M160.5 118.50H166.5M720.5 118.50H714.5" stroke="#000" stroke-width="1"/><text transform="translate(153.4 99.50) scale(1.05 1)" text-anchor="end" dominant-baseline="central">0.2</text><path d="M160.5 100.50H166.5M720.5 100.50H714.5" stroke="#000" stroke-width="1"/><text transform="translate(153.4 81.40) scale(1.05 1)" text-anchor="end" dominant-baseline="central">0.3</text><path d="M160.5 82.50H166.5M720.5 82.50H714.5" stroke="#000" stroke-width="1"/><text transform="translate(153.4 63.30) scale(1.05 1)" text-anchor="end" dominant-baseline="central">0.4</text><path d="M160.5 63.50H166.5M720.5 63.50H714.5" stroke="#000" stroke-width="1"/><text transform="translate(153.4 45.20) scale(1.05 1)" text-anchor="end" dominant-baseline="central">0.5</text><path d="M160.5 45.50H166.5M720.5 45.50H714.5" stroke="#000" stroke-width="1"/><text transform="translate(153.4 27.10) scale(1.05 1)" text-anchor="end" dominant-baseline="central">0.6</text><path d="M160.5 27.50H166.5M720.5 27.50H714.5" stroke="#000" stroke-width="1"/><text transform="translate(153.4 9.00) scale(1.05 1)" text-anchor="end" dominant-baseline="central">0.7</text><path d="M160.5 9.50H166.5M720.5 9.50H714.5" stroke="#000" stroke-width="1"/>
<text transform="translate(764.5 720.20) scale(1.09 1)" dominant-baseline="central">0.00</text><path d="M760.5 720.50H754.5" stroke="#000" stroke-width="1"/><text transform="translate(764.5 657.39) scale(1.09 1)" dominant-baseline="central">0.08</text><path d="M760.5 657.50H754.5" stroke="#000" stroke-width="1"/><text transform="translate(764.5 594.59) scale(1.09 1)" dominant-baseline="central">0.16</text><path d="M760.5 594.50H754.5" stroke="#000" stroke-width="1"/><text transform="translate(764.5 531.78) scale(1.09 1)" dominant-baseline="central">0.24</text><path d="M760.5 531.50H754.5" stroke="#000" stroke-width="1"/><text transform="translate(764.5 468.97) scale(1.09 1)" dominant-baseline="central">0.32</text><path d="M760.5 468.50H754.5" stroke="#000" stroke-width="1"/><text transform="translate(764.5 406.17) scale(1.09 1)" dominant-baseline="central">0.40</text><path d="M760.5 405.50H754.5" stroke="#000" stroke-width="1"/><text transform="translate(764.5 343.36) scale(1.09 1)" dominant-baseline="central">0.48</text><path d="M760.5 343.50H754.5" stroke="#000" stroke-width="1"/><text transform="translate(764.5 280.55) scale(1.09 1)" dominant-baseline="central">0.56</text><path d="M760.5 280.50H754.5" stroke="#000" stroke-width="1"/><text transform="translate(764.5 217.75) scale(1.09 1)" dominant-baseline="central">0.64</text><path d="M760.5 217.50H754.5" stroke="#000" stroke-width="1"/></g>
</svg>
</body></html>
